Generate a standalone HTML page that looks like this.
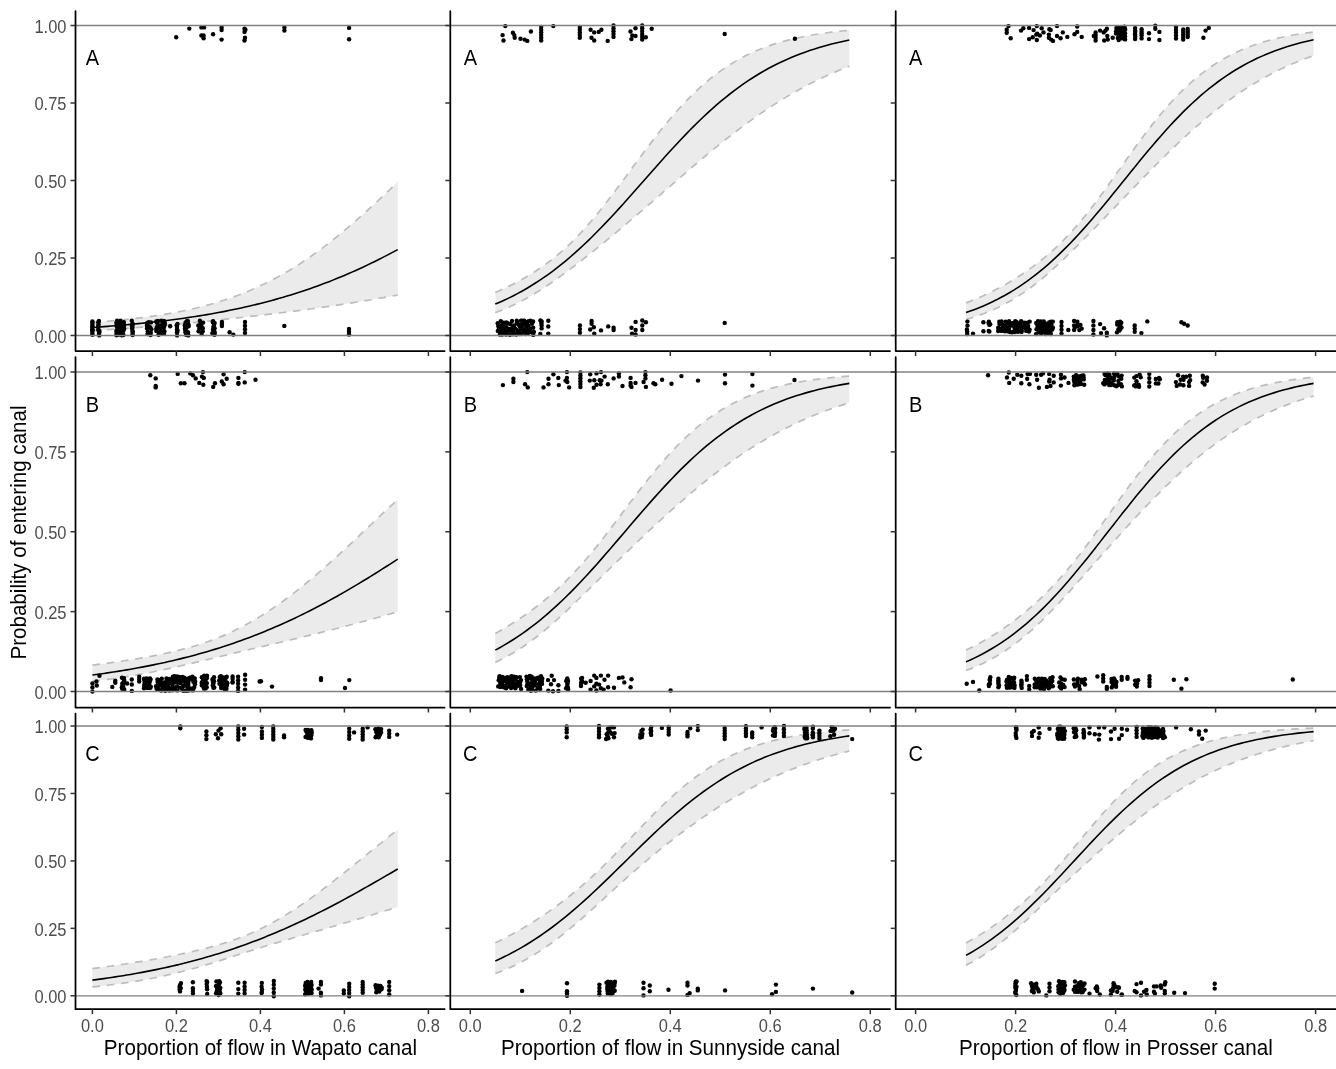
<!DOCTYPE html>
<html><head><meta charset="utf-8"><title>Probability of entering canal</title>
<style>html,body{margin:0;padding:0;background:#fff;width:1336px;height:1069px;overflow:hidden}svg{display:block;font-family:"Liberation Sans",sans-serif;will-change:transform}</style>
</head><body><svg width="1336" height="1069" viewBox="0 0 1336 1069" font-family="Liberation Sans, sans-serif"><rect x="0" y="0" width="1336" height="1069" fill="#fff"/><polygon points="92.40,322.55 96.22,322.24 100.03,321.93 103.85,321.61 107.67,321.27 111.48,320.92 115.30,320.56 119.12,320.19 122.93,319.80 126.75,319.40 130.57,318.98 134.38,318.54 138.20,318.09 142.02,317.61 145.83,317.12 149.65,316.60 153.47,316.06 157.28,315.50 161.10,314.91 164.92,314.29 168.74,313.65 172.55,312.97 176.37,312.27 180.19,311.53 184.00,310.75 187.82,309.95 191.64,309.10 195.45,308.21 199.27,307.29 203.09,306.32 206.90,305.31 210.72,304.26 214.54,303.15 218.35,302.00 222.17,300.81 225.99,299.56 229.80,298.26 233.62,296.90 237.44,295.49 241.25,294.03 245.07,292.51 248.89,290.93 252.70,289.29 256.52,287.59 260.34,285.83 264.15,284.00 267.97,282.12 271.79,280.17 275.60,278.15 279.42,276.07 283.24,273.92 287.05,271.70 290.87,269.42 294.69,267.07 298.50,264.66 302.32,262.17 306.14,259.62 309.95,257.01 313.77,254.32 317.59,251.57 321.40,248.76 325.22,245.89 329.04,242.95 332.86,239.95 336.67,236.89 340.49,233.78 344.31,230.61 348.12,227.39 351.94,224.12 355.76,220.80 359.57,217.44 363.39,214.03 367.21,210.59 371.02,207.11 374.84,203.60 378.66,200.06 382.47,196.50 386.29,192.91 390.11,189.31 393.92,185.70 397.74,182.08 397.74,295.06 393.92,295.76 390.11,296.44 386.29,297.12 382.47,297.79 378.66,298.45 374.84,299.11 371.02,299.75 367.21,300.39 363.39,301.02 359.57,301.64 355.76,302.25 351.94,302.85 348.12,303.45 344.31,304.04 340.49,304.62 336.67,305.19 332.86,305.76 329.04,306.31 325.22,306.87 321.40,307.41 317.59,307.95 313.77,308.48 309.95,309.00 306.14,309.52 302.32,310.03 298.50,310.54 294.69,311.04 290.87,311.53 287.05,312.02 283.24,312.50 279.42,312.98 275.60,313.45 271.79,313.92 267.97,314.38 264.15,314.83 260.34,315.28 256.52,315.73 252.70,316.17 248.89,316.61 245.07,317.04 241.25,317.47 237.44,317.90 233.62,318.32 229.80,318.74 225.99,319.15 222.17,319.56 218.35,319.97 214.54,320.37 210.72,320.77 206.90,321.17 203.09,321.56 199.27,321.95 195.45,322.33 191.64,322.71 187.82,323.09 184.00,323.46 180.19,323.83 176.37,324.19 172.55,324.55 168.74,324.90 164.92,325.25 161.10,325.59 157.28,325.93 153.47,326.26 149.65,326.58 145.83,326.90 142.02,327.21 138.20,327.51 134.38,327.81 130.57,328.10 126.75,328.38 122.93,328.65 119.12,328.92 115.30,329.17 111.48,329.42 107.67,329.66 103.85,329.90 100.03,330.13 96.22,330.34 92.40,330.56" fill="#EBEBEB"/><polyline points="92.40,322.55 96.22,322.24 100.03,321.93 103.85,321.61 107.67,321.27 111.48,320.92 115.30,320.56 119.12,320.19 122.93,319.80 126.75,319.40 130.57,318.98 134.38,318.54 138.20,318.09 142.02,317.61 145.83,317.12 149.65,316.60 153.47,316.06 157.28,315.50 161.10,314.91 164.92,314.29 168.74,313.65 172.55,312.97 176.37,312.27 180.19,311.53 184.00,310.75 187.82,309.95 191.64,309.10 195.45,308.21 199.27,307.29 203.09,306.32 206.90,305.31 210.72,304.26 214.54,303.15 218.35,302.00 222.17,300.81 225.99,299.56 229.80,298.26 233.62,296.90 237.44,295.49 241.25,294.03 245.07,292.51 248.89,290.93 252.70,289.29 256.52,287.59 260.34,285.83 264.15,284.00 267.97,282.12 271.79,280.17 275.60,278.15 279.42,276.07 283.24,273.92 287.05,271.70 290.87,269.42 294.69,267.07 298.50,264.66 302.32,262.17 306.14,259.62 309.95,257.01 313.77,254.32 317.59,251.57 321.40,248.76 325.22,245.89 329.04,242.95 332.86,239.95 336.67,236.89 340.49,233.78 344.31,230.61 348.12,227.39 351.94,224.12 355.76,220.80 359.57,217.44 363.39,214.03 367.21,210.59 371.02,207.11 374.84,203.60 378.66,200.06 382.47,196.50 386.29,192.91 390.11,189.31 393.92,185.70 397.74,182.08" fill="none" stroke="#BDBDBD" stroke-width="1.7" stroke-dasharray="7.6,6.8"/><polyline points="92.40,330.56 96.22,330.34 100.03,330.13 103.85,329.90 107.67,329.66 111.48,329.42 115.30,329.17 119.12,328.92 122.93,328.65 126.75,328.38 130.57,328.10 134.38,327.81 138.20,327.51 142.02,327.21 145.83,326.90 149.65,326.58 153.47,326.26 157.28,325.93 161.10,325.59 164.92,325.25 168.74,324.90 172.55,324.55 176.37,324.19 180.19,323.83 184.00,323.46 187.82,323.09 191.64,322.71 195.45,322.33 199.27,321.95 203.09,321.56 206.90,321.17 210.72,320.77 214.54,320.37 218.35,319.97 222.17,319.56 225.99,319.15 229.80,318.74 233.62,318.32 237.44,317.90 241.25,317.47 245.07,317.04 248.89,316.61 252.70,316.17 256.52,315.73 260.34,315.28 264.15,314.83 267.97,314.38 271.79,313.92 275.60,313.45 279.42,312.98 283.24,312.50 287.05,312.02 290.87,311.53 294.69,311.04 298.50,310.54 302.32,310.03 306.14,309.52 309.95,309.00 313.77,308.48 317.59,307.95 321.40,307.41 325.22,306.87 329.04,306.31 332.86,305.76 336.67,305.19 340.49,304.62 344.31,304.04 348.12,303.45 351.94,302.85 355.76,302.25 359.57,301.64 363.39,301.02 367.21,300.39 371.02,299.75 374.84,299.11 378.66,298.45 382.47,297.79 386.29,297.12 390.11,296.44 393.92,295.76 397.74,295.06" fill="none" stroke="#BDBDBD" stroke-width="1.7" stroke-dasharray="7.6,6.8"/><polyline points="92.40,327.47 96.22,327.21 100.03,326.93 103.85,326.65 107.67,326.36 111.48,326.06 115.30,325.75 119.12,325.43 122.93,325.10 126.75,324.76 130.57,324.41 134.38,324.04 138.20,323.67 142.02,323.29 145.83,322.89 149.65,322.48 153.47,322.06 157.28,321.62 161.10,321.17 164.92,320.71 168.74,320.23 172.55,319.74 176.37,319.23 180.19,318.71 184.00,318.17 187.82,317.62 191.64,317.05 195.45,316.46 199.27,315.86 203.09,315.23 206.90,314.59 210.72,313.93 214.54,313.25 218.35,312.55 222.17,311.84 225.99,311.10 229.80,310.34 233.62,309.55 237.44,308.75 241.25,307.92 245.07,307.07 248.89,306.20 252.70,305.30 256.52,304.38 260.34,303.43 264.15,302.46 267.97,301.46 271.79,300.44 275.60,299.39 279.42,298.31 283.24,297.21 287.05,296.07 290.87,294.91 294.69,293.72 298.50,292.50 302.32,291.25 306.14,289.97 309.95,288.66 313.77,287.31 317.59,285.94 321.40,284.54 325.22,283.10 329.04,281.63 332.86,280.13 336.67,278.60 340.49,277.03 344.31,275.43 348.12,273.80 351.94,272.13 355.76,270.43 359.57,268.70 363.39,266.94 367.21,265.14 371.02,263.31 374.84,261.45 378.66,259.55 382.47,257.62 386.29,255.66 390.11,253.66 393.92,251.64 397.74,249.58" fill="none" stroke="#000" stroke-width="1.6"/><circle cx="92.4" cy="322.8" r="2.2"/><circle cx="92.4" cy="332.9" r="2.2"/><circle cx="92.4" cy="326.5" r="2.2"/><circle cx="92.4" cy="329.2" r="2.2"/><circle cx="92.4" cy="321.4" r="2.2"/><circle cx="92.4" cy="331.0" r="2.2"/><circle cx="92.4" cy="324.8" r="2.2"/><circle cx="92.4" cy="330.5" r="2.2"/><circle cx="92.4" cy="334.7" r="2.2"/><circle cx="92.4" cy="327.4" r="2.2"/><circle cx="98.3" cy="322.3" r="2.2"/><circle cx="98.9" cy="333.8" r="2.2"/><circle cx="98.4" cy="327.8" r="2.2"/><circle cx="99.4" cy="330.9" r="2.2"/><circle cx="99.3" cy="332.5" r="2.2"/><circle cx="98.2" cy="330.0" r="2.2"/><circle cx="98.2" cy="326.0" r="2.2"/><circle cx="99.3" cy="335.4" r="2.2"/><circle cx="98.6" cy="324.5" r="2.2"/><circle cx="98.9" cy="320.9" r="2.2"/><circle cx="123.3" cy="330.9" r="2.2"/><circle cx="118.8" cy="323.8" r="2.2"/><circle cx="118.2" cy="330.9" r="2.2"/><circle cx="124.0" cy="326.0" r="2.2"/><circle cx="121.2" cy="334.0" r="2.2"/><circle cx="122.3" cy="327.7" r="2.2"/><circle cx="122.1" cy="323.1" r="2.2"/><circle cx="117.2" cy="332.9" r="2.2"/><circle cx="117.1" cy="320.7" r="2.2"/><circle cx="119.6" cy="333.6" r="2.2"/><circle cx="119.0" cy="327.4" r="2.2"/><circle cx="120.4" cy="320.8" r="2.2"/><circle cx="117.4" cy="327.6" r="2.2"/><circle cx="120.7" cy="332.3" r="2.2"/><circle cx="120.3" cy="330.9" r="2.2"/><circle cx="123.9" cy="324.4" r="2.2"/><circle cx="116.6" cy="324.1" r="2.2"/><circle cx="116.6" cy="330.5" r="2.2"/><circle cx="123.4" cy="335.0" r="2.2"/><circle cx="120.3" cy="325.6" r="2.2"/><circle cx="116.5" cy="335.3" r="2.2"/><circle cx="118.3" cy="322.4" r="2.2"/><circle cx="117.3" cy="334.3" r="2.2"/><circle cx="121.8" cy="326.9" r="2.2"/><circle cx="116.6" cy="333.4" r="2.2"/><circle cx="120.4" cy="324.1" r="2.2"/><circle cx="122.4" cy="324.8" r="2.2"/><circle cx="123.9" cy="322.1" r="2.2"/><circle cx="121.8" cy="335.2" r="2.2"/><circle cx="116.5" cy="322.4" r="2.2"/><circle cx="116.6" cy="331.6" r="2.2"/><circle cx="118.2" cy="334.9" r="2.2"/><circle cx="124.2" cy="328.7" r="2.2"/><circle cx="116.8" cy="326.5" r="2.2"/><circle cx="131.8" cy="320.8" r="2.2"/><circle cx="132.6" cy="333.7" r="2.2"/><circle cx="132.0" cy="328.4" r="2.2"/><circle cx="132.6" cy="330.9" r="2.2"/><circle cx="131.9" cy="325.9" r="2.2"/><circle cx="132.7" cy="331.7" r="2.2"/><circle cx="132.6" cy="323.6" r="2.2"/><circle cx="132.6" cy="335.1" r="2.2"/><circle cx="132.6" cy="325.1" r="2.2"/><circle cx="132.4" cy="327.5" r="2.2"/><circle cx="148.7" cy="322.3" r="2.2"/><circle cx="150.5" cy="335.0" r="2.2"/><circle cx="147.0" cy="328.4" r="2.2"/><circle cx="147.5" cy="334.0" r="2.2"/><circle cx="147.0" cy="325.7" r="2.2"/><circle cx="151.4" cy="329.3" r="2.2"/><circle cx="148.1" cy="326.9" r="2.2"/><circle cx="150.8" cy="332.7" r="2.2"/><circle cx="150.0" cy="327.3" r="2.2"/><circle cx="151.0" cy="322.4" r="2.2"/><circle cx="147.8" cy="331.6" r="2.2"/><circle cx="147.2" cy="322.9" r="2.2"/><circle cx="147.5" cy="324.4" r="2.2"/><circle cx="161.1" cy="333.8" r="2.2"/><circle cx="164.6" cy="322.4" r="2.2"/><circle cx="159.6" cy="327.2" r="2.2"/><circle cx="156.3" cy="331.1" r="2.2"/><circle cx="157.0" cy="322.8" r="2.2"/><circle cx="164.4" cy="331.3" r="2.2"/><circle cx="161.7" cy="325.1" r="2.2"/><circle cx="161.3" cy="320.7" r="2.2"/><circle cx="163.9" cy="327.6" r="2.2"/><circle cx="160.4" cy="330.6" r="2.2"/><circle cx="158.0" cy="321.0" r="2.2"/><circle cx="164.6" cy="325.2" r="2.2"/><circle cx="158.6" cy="334.8" r="2.2"/><circle cx="157.3" cy="326.4" r="2.2"/><circle cx="164.0" cy="333.8" r="2.2"/><circle cx="159.3" cy="325.5" r="2.2"/><circle cx="164.6" cy="323.6" r="2.2"/><circle cx="159.2" cy="332.8" r="2.2"/><circle cx="164.0" cy="321.0" r="2.2"/><circle cx="156.3" cy="321.4" r="2.2"/><circle cx="158.3" cy="331.2" r="2.2"/><circle cx="158.1" cy="327.6" r="2.2"/><circle cx="163.1" cy="331.6" r="2.2"/><circle cx="163.0" cy="321.7" r="2.2"/><circle cx="156.3" cy="328.8" r="2.2"/><circle cx="162.3" cy="327.2" r="2.2"/><circle cx="170.2" cy="326.2" r="2.2"/><circle cx="177.0" cy="327.0" r="2.2"/><circle cx="177.5" cy="323.9" r="2.2"/><circle cx="177.1" cy="335.4" r="2.2"/><circle cx="177.6" cy="330.5" r="2.2"/><circle cx="176.7" cy="325.3" r="2.2"/><circle cx="177.0" cy="332.3" r="2.2"/><circle cx="177.0" cy="329.7" r="2.2"/><circle cx="184.8" cy="325.4" r="2.2"/><circle cx="185.5" cy="330.9" r="2.2"/><circle cx="186.1" cy="334.8" r="2.2"/><circle cx="187.8" cy="323.6" r="2.2"/><circle cx="184.9" cy="328.8" r="2.2"/><circle cx="186.3" cy="328.1" r="2.2"/><circle cx="185.6" cy="322.4" r="2.2"/><circle cx="188.6" cy="326.3" r="2.2"/><circle cx="186.5" cy="333.2" r="2.2"/><circle cx="186.9" cy="326.3" r="2.2"/><circle cx="187.9" cy="321.1" r="2.2"/><circle cx="187.4" cy="325.1" r="2.2"/><circle cx="187.9" cy="332.2" r="2.2"/><circle cx="185.3" cy="327.0" r="2.2"/><circle cx="186.9" cy="321.3" r="2.2"/><circle cx="188.3" cy="335.4" r="2.2"/><circle cx="188.0" cy="334.5" r="2.2"/><circle cx="188.5" cy="324.6" r="2.2"/><circle cx="185.7" cy="324.4" r="2.2"/><circle cx="185.5" cy="332.3" r="2.2"/><circle cx="202.8" cy="328.2" r="2.2"/><circle cx="200.6" cy="323.1" r="2.2"/><circle cx="201.6" cy="334.0" r="2.2"/><circle cx="199.9" cy="320.7" r="2.2"/><circle cx="198.3" cy="325.5" r="2.2"/><circle cx="199.4" cy="328.6" r="2.2"/><circle cx="202.7" cy="331.3" r="2.2"/><circle cx="201.2" cy="325.4" r="2.2"/><circle cx="198.6" cy="331.2" r="2.2"/><circle cx="203.1" cy="322.6" r="2.2"/><circle cx="214.7" cy="323.1" r="2.2"/><circle cx="212.4" cy="333.2" r="2.2"/><circle cx="213.1" cy="321.1" r="2.2"/><circle cx="214.6" cy="328.3" r="2.2"/><circle cx="214.5" cy="334.7" r="2.2"/><circle cx="214.2" cy="330.9" r="2.2"/><circle cx="214.0" cy="325.1" r="2.2"/><circle cx="213.0" cy="329.8" r="2.2"/><circle cx="213.4" cy="322.6" r="2.2"/><circle cx="213.4" cy="332.8" r="2.2"/><circle cx="214.8" cy="332.7" r="2.2"/><circle cx="212.7" cy="322.0" r="2.2"/><circle cx="213.3" cy="326.9" r="2.2"/><circle cx="221.9" cy="322.0" r="2.2"/><circle cx="221.9" cy="324.0" r="2.2"/><circle cx="221.9" cy="326.0" r="2.2"/><circle cx="229.6" cy="332.2" r="2.2"/><circle cx="233.3" cy="334.6" r="2.2"/><circle cx="245.0" cy="322.0" r="2.2"/><circle cx="245.0" cy="325.7" r="2.2"/><circle cx="245.0" cy="329.3" r="2.2"/><circle cx="245.0" cy="333.0" r="2.2"/><circle cx="284.3" cy="325.9" r="2.2"/><circle cx="349.0" cy="329.0" r="2.2"/><circle cx="349.0" cy="331.8" r="2.2"/><circle cx="349.0" cy="334.5" r="2.2"/><circle cx="176.2" cy="37.3" r="2.2"/><circle cx="189.3" cy="28.6" r="2.2"/><circle cx="201.4" cy="27.4" r="2.2"/><circle cx="204.1" cy="27.4" r="2.2"/><circle cx="201.4" cy="35.5" r="2.2"/><circle cx="203.6" cy="35.5" r="2.2"/><circle cx="203.6" cy="38.2" r="2.2"/><circle cx="213.1" cy="34.2" r="2.2"/><circle cx="221.6" cy="27.4" r="2.2"/><circle cx="221.6" cy="30.1" r="2.2"/><circle cx="221.6" cy="39.6" r="2.2"/><circle cx="244.5" cy="28.8" r="2.2"/><circle cx="245.4" cy="29.7" r="2.2"/><circle cx="244.5" cy="31.9" r="2.2"/><circle cx="245.0" cy="37.8" r="2.2"/><circle cx="244.5" cy="40.5" r="2.2"/><circle cx="284.4" cy="27.4" r="2.2"/><circle cx="284.4" cy="30.6" r="2.2"/><circle cx="349.1" cy="27.9" r="2.2"/><circle cx="349.1" cy="39.3" r="2.2"/><line x1="75.5" y1="335.50" x2="450.6" y2="335.50" stroke="#808080" stroke-width="1.3"/><line x1="75.5" y1="25.50" x2="450.6" y2="25.50" stroke="#808080" stroke-width="1.3"/><polyline points="75.5,11.0 75.5,351.0 444.6,351.0" fill="none" stroke="#000" stroke-width="1.75" stroke-linejoin="round" stroke-linecap="round"/><line x1="70.5" y1="335.50" x2="75.5" y2="335.50" stroke="#333" stroke-width="1.5"/><line x1="70.5" y1="258.00" x2="75.5" y2="258.00" stroke="#333" stroke-width="1.5"/><line x1="70.5" y1="180.50" x2="75.5" y2="180.50" stroke="#333" stroke-width="1.5"/><line x1="70.5" y1="103.00" x2="75.5" y2="103.00" stroke="#333" stroke-width="1.5"/><line x1="70.5" y1="25.50" x2="75.5" y2="25.50" stroke="#333" stroke-width="1.5"/><line x1="92.40" y1="351.0" x2="92.40" y2="356.0" stroke="#333" stroke-width="1.5"/><line x1="176.40" y1="351.0" x2="176.40" y2="356.0" stroke="#333" stroke-width="1.5"/><line x1="260.40" y1="351.0" x2="260.40" y2="356.0" stroke="#333" stroke-width="1.5"/><line x1="344.40" y1="351.0" x2="344.40" y2="356.0" stroke="#333" stroke-width="1.5"/><line x1="428.40" y1="351.0" x2="428.40" y2="356.0" stroke="#333" stroke-width="1.5"/><text x="0" y="0" font-size="21.5" fill="#000" text-anchor="middle" transform="translate(92.40,64.90) scale(0.93,1)">A</text><polygon points="495.30,292.47 499.73,290.53 504.15,288.51 508.58,286.39 513.00,284.18 517.42,281.87 521.85,279.45 526.27,276.91 530.70,274.25 535.12,271.47 539.55,268.54 543.98,265.46 548.40,262.22 552.83,258.82 557.25,255.23 561.67,251.46 566.10,247.49 570.52,243.32 574.95,238.95 579.38,234.37 583.80,229.60 588.23,224.64 592.65,219.49 597.08,214.17 601.50,208.69 605.92,203.08 610.35,197.35 614.77,191.51 619.20,185.60 623.62,179.64 628.05,173.63 632.48,167.62 636.90,161.62 641.33,155.64 645.75,149.72 650.17,143.88 654.60,138.12 659.02,132.47 663.45,126.95 667.88,121.56 672.30,116.33 676.73,111.26 681.15,106.36 685.58,101.64 690.00,97.10 694.42,92.75 698.85,88.59 703.27,84.62 707.70,80.84 712.12,77.25 716.55,73.85 720.98,70.63 725.40,67.58 729.83,64.71 734.25,62.01 738.67,59.47 743.10,57.08 747.53,54.84 751.95,52.75 756.38,50.79 760.80,48.96 765.23,47.25 769.65,45.66 774.08,44.17 778.50,42.79 782.92,41.50 787.35,40.31 791.78,39.19 796.20,38.16 800.62,37.21 805.05,36.32 809.48,35.50 813.90,34.73 818.33,34.03 822.75,33.38 827.17,32.77 831.60,32.21 836.03,31.69 840.45,31.22 844.88,30.77 849.30,30.37 849.30,66.26 844.88,67.98 840.45,69.77 836.03,71.62 831.60,73.54 827.17,75.52 822.75,77.56 818.33,79.68 813.90,81.86 809.48,84.11 805.05,86.42 800.62,88.81 796.20,91.27 791.78,93.80 787.35,96.39 782.92,99.06 778.50,101.79 774.08,104.60 769.65,107.47 765.23,110.41 760.80,113.42 756.38,116.50 751.95,119.63 747.53,122.83 743.10,126.09 738.67,129.41 734.25,132.78 729.83,136.21 725.40,139.69 720.98,143.22 716.55,146.79 712.12,150.41 707.70,154.06 703.27,157.75 698.85,161.48 694.42,165.23 690.00,169.00 685.58,172.80 681.15,176.62 676.73,180.44 672.30,184.28 667.88,188.13 663.45,191.98 659.02,195.82 654.60,199.66 650.17,203.50 645.75,207.32 641.33,211.13 636.90,214.93 632.48,218.70 628.05,222.46 623.62,226.19 619.20,229.90 614.77,233.59 610.35,237.24 605.92,240.87 601.50,244.48 597.08,248.05 592.65,251.60 588.23,255.12 583.80,258.61 579.38,262.06 574.95,265.47 570.52,268.84 566.10,272.16 561.67,275.42 557.25,278.62 552.83,281.74 548.40,284.77 543.98,287.72 539.55,290.56 535.12,293.30 530.70,295.93 526.27,298.44 521.85,300.84 517.42,303.12 513.00,305.28 508.58,307.32 504.15,309.25 499.73,311.07 495.30,312.78" fill="#EBEBEB"/><polyline points="495.30,292.47 499.73,290.53 504.15,288.51 508.58,286.39 513.00,284.18 517.42,281.87 521.85,279.45 526.27,276.91 530.70,274.25 535.12,271.47 539.55,268.54 543.98,265.46 548.40,262.22 552.83,258.82 557.25,255.23 561.67,251.46 566.10,247.49 570.52,243.32 574.95,238.95 579.38,234.37 583.80,229.60 588.23,224.64 592.65,219.49 597.08,214.17 601.50,208.69 605.92,203.08 610.35,197.35 614.77,191.51 619.20,185.60 623.62,179.64 628.05,173.63 632.48,167.62 636.90,161.62 641.33,155.64 645.75,149.72 650.17,143.88 654.60,138.12 659.02,132.47 663.45,126.95 667.88,121.56 672.30,116.33 676.73,111.26 681.15,106.36 685.58,101.64 690.00,97.10 694.42,92.75 698.85,88.59 703.27,84.62 707.70,80.84 712.12,77.25 716.55,73.85 720.98,70.63 725.40,67.58 729.83,64.71 734.25,62.01 738.67,59.47 743.10,57.08 747.53,54.84 751.95,52.75 756.38,50.79 760.80,48.96 765.23,47.25 769.65,45.66 774.08,44.17 778.50,42.79 782.92,41.50 787.35,40.31 791.78,39.19 796.20,38.16 800.62,37.21 805.05,36.32 809.48,35.50 813.90,34.73 818.33,34.03 822.75,33.38 827.17,32.77 831.60,32.21 836.03,31.69 840.45,31.22 844.88,30.77 849.30,30.37" fill="none" stroke="#BDBDBD" stroke-width="1.7" stroke-dasharray="7.6,6.8"/><polyline points="495.30,312.78 499.73,311.07 504.15,309.25 508.58,307.32 513.00,305.28 517.42,303.12 521.85,300.84 526.27,298.44 530.70,295.93 535.12,293.30 539.55,290.56 543.98,287.72 548.40,284.77 552.83,281.74 557.25,278.62 561.67,275.42 566.10,272.16 570.52,268.84 574.95,265.47 579.38,262.06 583.80,258.61 588.23,255.12 592.65,251.60 597.08,248.05 601.50,244.48 605.92,240.87 610.35,237.24 614.77,233.59 619.20,229.90 623.62,226.19 628.05,222.46 632.48,218.70 636.90,214.93 641.33,211.13 645.75,207.32 650.17,203.50 654.60,199.66 659.02,195.82 663.45,191.98 667.88,188.13 672.30,184.28 676.73,180.44 681.15,176.62 685.58,172.80 690.00,169.00 694.42,165.23 698.85,161.48 703.27,157.75 707.70,154.06 712.12,150.41 716.55,146.79 720.98,143.22 725.40,139.69 729.83,136.21 734.25,132.78 738.67,129.41 743.10,126.09 747.53,122.83 751.95,119.63 756.38,116.50 760.80,113.42 765.23,110.41 769.65,107.47 774.08,104.60 778.50,101.79 782.92,99.06 787.35,96.39 791.78,93.80 796.20,91.27 800.62,88.81 805.05,86.42 809.48,84.11 813.90,81.86 818.33,79.68 822.75,77.56 827.17,75.52 831.60,73.54 836.03,71.62 840.45,69.77 844.88,67.98 849.30,66.26" fill="none" stroke="#BDBDBD" stroke-width="1.7" stroke-dasharray="7.6,6.8"/><polyline points="495.30,304.05 499.73,302.17 504.15,300.19 508.58,298.10 513.00,295.91 517.42,293.62 521.85,291.21 526.27,288.69 530.70,286.05 535.12,283.29 539.55,280.41 543.98,277.40 548.40,274.28 552.83,271.02 557.25,267.65 561.67,264.14 566.10,260.51 570.52,256.76 574.95,252.89 579.38,248.89 583.80,244.78 588.23,240.56 592.65,236.23 597.08,231.80 601.50,227.27 605.92,222.65 610.35,217.95 614.77,213.18 619.20,208.34 623.62,203.44 628.05,198.50 632.48,193.52 636.90,188.51 641.33,183.48 645.75,178.45 650.17,173.42 654.60,168.41 659.02,163.43 663.45,158.47 667.88,153.57 672.30,148.72 676.73,143.93 681.15,139.22 685.58,134.58 690.00,130.04 694.42,125.59 698.85,121.24 703.27,117.00 707.70,112.86 712.12,108.85 716.55,104.95 720.98,101.18 725.40,97.52 729.83,94.00 734.25,90.59 738.67,87.32 743.10,84.17 747.53,81.14 751.95,78.24 756.38,75.46 760.80,72.80 765.23,70.25 769.65,67.82 774.08,65.50 778.50,63.30 782.92,61.19 787.35,59.19 791.78,57.29 796.20,55.49 800.62,53.77 805.05,52.15 809.48,50.61 813.90,49.15 818.33,47.77 822.75,46.47 827.17,45.23 831.60,44.07 836.03,42.96 840.45,41.92 844.88,40.94 849.30,40.02" fill="none" stroke="#000" stroke-width="1.6"/><circle cx="505.3" cy="26.1" r="2.2"/><circle cx="502.6" cy="35.1" r="2.2"/><circle cx="503.5" cy="40.5" r="2.2"/><circle cx="512.9" cy="32.8" r="2.2"/><circle cx="514.3" cy="35.1" r="2.2"/><circle cx="514.7" cy="37.8" r="2.2"/><circle cx="520.5" cy="38.7" r="2.2"/><circle cx="524.6" cy="39.6" r="2.2"/><circle cx="527.3" cy="40.9" r="2.2"/><circle cx="530.9" cy="31.5" r="2.2"/><circle cx="553.3" cy="26.1" r="2.2"/><circle cx="590.6" cy="29.7" r="2.2"/><circle cx="594.2" cy="32.4" r="2.2"/><circle cx="591.5" cy="37.8" r="2.2"/><circle cx="594.2" cy="40.5" r="2.2"/><circle cx="598.7" cy="31.9" r="2.2"/><circle cx="601.4" cy="29.7" r="2.2"/><circle cx="607.7" cy="40.9" r="2.2"/><circle cx="630.5" cy="31.5" r="2.2"/><circle cx="631.4" cy="39.1" r="2.2"/><circle cx="635.5" cy="28.3" r="2.2"/><circle cx="635.5" cy="36.0" r="2.2"/><circle cx="632.3" cy="35.5" r="2.2"/><circle cx="645.8" cy="37.3" r="2.2"/><circle cx="651.7" cy="28.8" r="2.2"/><circle cx="724.7" cy="34.0" r="2.2"/><circle cx="794.9" cy="38.7" r="2.2"/><circle cx="541.2" cy="27.0" r="2.2"/><circle cx="541.2" cy="29.7" r="2.2"/><circle cx="541.2" cy="32.4" r="2.2"/><circle cx="541.2" cy="35.1" r="2.2"/><circle cx="541.2" cy="37.8" r="2.2"/><circle cx="541.2" cy="40.5" r="2.2"/><circle cx="579.8" cy="27.0" r="2.2"/><circle cx="579.8" cy="29.7" r="2.2"/><circle cx="579.8" cy="32.4" r="2.2"/><circle cx="579.8" cy="35.1" r="2.2"/><circle cx="579.8" cy="37.8" r="2.2"/><circle cx="613.5" cy="25.5" r="2.2"/><circle cx="613.5" cy="28.4" r="2.2"/><circle cx="613.5" cy="31.2" r="2.2"/><circle cx="613.5" cy="34.0" r="2.2"/><circle cx="613.5" cy="36.9" r="2.2"/><circle cx="642.2" cy="25.5" r="2.2"/><circle cx="642.2" cy="28.3" r="2.2"/><circle cx="642.2" cy="31.1" r="2.2"/><circle cx="642.2" cy="34.0" r="2.2"/><circle cx="642.2" cy="36.8" r="2.2"/><circle cx="642.2" cy="39.6" r="2.2"/><circle cx="533.2" cy="327.8" r="2.2"/><circle cx="510.5" cy="330.7" r="2.2"/><circle cx="497.7" cy="323.3" r="2.2"/><circle cx="508.1" cy="323.5" r="2.2"/><circle cx="523.4" cy="331.9" r="2.2"/><circle cx="530.4" cy="320.8" r="2.2"/><circle cx="506.3" cy="327.1" r="2.2"/><circle cx="503.4" cy="332.7" r="2.2"/><circle cx="526.2" cy="328.9" r="2.2"/><circle cx="503.4" cy="322.7" r="2.2"/><circle cx="516.9" cy="322.7" r="2.2"/><circle cx="533.9" cy="332.0" r="2.2"/><circle cx="512.0" cy="320.9" r="2.2"/><circle cx="521.0" cy="327.2" r="2.2"/><circle cx="518.8" cy="331.3" r="2.2"/><circle cx="529.1" cy="330.3" r="2.2"/><circle cx="513.3" cy="327.0" r="2.2"/><circle cx="504.4" cy="330.0" r="2.2"/><circle cx="499.1" cy="328.3" r="2.2"/><circle cx="516.5" cy="329.7" r="2.2"/><circle cx="512.8" cy="334.2" r="2.2"/><circle cx="513.2" cy="330.6" r="2.2"/><circle cx="510.7" cy="324.3" r="2.2"/><circle cx="515.0" cy="328.6" r="2.2"/><circle cx="506.0" cy="334.5" r="2.2"/><circle cx="528.4" cy="325.6" r="2.2"/><circle cx="497.8" cy="330.9" r="2.2"/><circle cx="499.8" cy="332.5" r="2.2"/><circle cx="521.0" cy="320.6" r="2.2"/><circle cx="521.8" cy="324.1" r="2.2"/><circle cx="531.0" cy="332.0" r="2.2"/><circle cx="526.7" cy="332.6" r="2.2"/><circle cx="506.3" cy="322.4" r="2.2"/><circle cx="517.6" cy="333.0" r="2.2"/><circle cx="533.1" cy="321.5" r="2.2"/><circle cx="509.9" cy="334.7" r="2.2"/><circle cx="524.1" cy="329.5" r="2.2"/><circle cx="513.2" cy="328.5" r="2.2"/><circle cx="516.3" cy="334.6" r="2.2"/><circle cx="508.7" cy="329.0" r="2.2"/><circle cx="530.3" cy="328.4" r="2.2"/><circle cx="520.4" cy="329.6" r="2.2"/><circle cx="525.8" cy="321.9" r="2.2"/><circle cx="518.4" cy="324.2" r="2.2"/><circle cx="521.3" cy="334.0" r="2.2"/><circle cx="498.2" cy="326.1" r="2.2"/><circle cx="519.5" cy="334.1" r="2.2"/><circle cx="502.2" cy="334.5" r="2.2"/><circle cx="524.2" cy="323.9" r="2.2"/><circle cx="514.6" cy="334.0" r="2.2"/><circle cx="524.1" cy="320.6" r="2.2"/><circle cx="511.2" cy="328.8" r="2.2"/><circle cx="511.1" cy="329.8" r="2.2"/><circle cx="499.9" cy="334.6" r="2.2"/><circle cx="519.8" cy="324.9" r="2.2"/><circle cx="527.4" cy="324.5" r="2.2"/><circle cx="527.7" cy="333.4" r="2.2"/><circle cx="529.0" cy="332.2" r="2.2"/><circle cx="532.0" cy="323.8" r="2.2"/><circle cx="507.1" cy="331.4" r="2.2"/><circle cx="526.1" cy="323.8" r="2.2"/><circle cx="504.7" cy="323.2" r="2.2"/><circle cx="501.6" cy="329.6" r="2.2"/><circle cx="516.8" cy="320.7" r="2.2"/><circle cx="526.4" cy="326.6" r="2.2"/><circle cx="500.8" cy="321.1" r="2.2"/><circle cx="519.7" cy="326.2" r="2.2"/><circle cx="522.3" cy="326.1" r="2.2"/><circle cx="533.2" cy="334.9" r="2.2"/><circle cx="528.5" cy="321.1" r="2.2"/><circle cx="525.5" cy="334.1" r="2.2"/><circle cx="501.6" cy="325.1" r="2.2"/><circle cx="522.6" cy="320.6" r="2.2"/><circle cx="502.8" cy="326.9" r="2.2"/><circle cx="514.3" cy="325.4" r="2.2"/><circle cx="503.4" cy="324.4" r="2.2"/><circle cx="541.6" cy="325.5" r="2.2"/><circle cx="540.3" cy="333.9" r="2.2"/><circle cx="541.7" cy="321.4" r="2.2"/><circle cx="540.4" cy="320.5" r="2.2"/><circle cx="541.6" cy="328.4" r="2.2"/><circle cx="541.4" cy="323.5" r="2.2"/><circle cx="548.3" cy="320.8" r="2.2"/><circle cx="548.3" cy="326.5" r="2.2"/><circle cx="548.3" cy="333.6" r="2.2"/><circle cx="579.9" cy="325.5" r="2.2"/><circle cx="579.9" cy="329.1" r="2.2"/><circle cx="579.9" cy="332.7" r="2.2"/><circle cx="591.6" cy="321.0" r="2.2"/><circle cx="591.6" cy="323.7" r="2.2"/><circle cx="593.8" cy="327.3" r="2.2"/><circle cx="590.2" cy="329.5" r="2.2"/><circle cx="594.3" cy="333.6" r="2.2"/><circle cx="601.0" cy="330.4" r="2.2"/><circle cx="608.2" cy="326.4" r="2.2"/><circle cx="613.6" cy="327.7" r="2.2"/><circle cx="613.6" cy="330.0" r="2.2"/><circle cx="631.5" cy="327.7" r="2.2"/><circle cx="632.0" cy="333.6" r="2.2"/><circle cx="635.6" cy="321.9" r="2.2"/><circle cx="635.6" cy="330.0" r="2.2"/><circle cx="635.6" cy="334.5" r="2.2"/><circle cx="642.3" cy="320.5" r="2.2"/><circle cx="645.9" cy="322.3" r="2.2"/><circle cx="642.3" cy="325.5" r="2.2"/><circle cx="642.3" cy="330.0" r="2.2"/><circle cx="724.7" cy="322.9" r="2.2"/><line x1="450.3" y1="335.50" x2="896.0" y2="335.50" stroke="#808080" stroke-width="1.3"/><line x1="450.3" y1="25.50" x2="896.0" y2="25.50" stroke="#808080" stroke-width="1.3"/><polyline points="450.3,11.0 450.3,351.0 890.0,351.0" fill="none" stroke="#000" stroke-width="1.75" stroke-linejoin="round" stroke-linecap="round"/><line x1="445.3" y1="335.50" x2="450.3" y2="335.50" stroke="#333" stroke-width="1.5"/><line x1="445.3" y1="258.00" x2="450.3" y2="258.00" stroke="#333" stroke-width="1.5"/><line x1="445.3" y1="180.50" x2="450.3" y2="180.50" stroke="#333" stroke-width="1.5"/><line x1="445.3" y1="103.00" x2="450.3" y2="103.00" stroke="#333" stroke-width="1.5"/><line x1="445.3" y1="25.50" x2="450.3" y2="25.50" stroke="#333" stroke-width="1.5"/><line x1="470.30" y1="351.0" x2="470.30" y2="356.0" stroke="#333" stroke-width="1.5"/><line x1="570.30" y1="351.0" x2="570.30" y2="356.0" stroke="#333" stroke-width="1.5"/><line x1="670.30" y1="351.0" x2="670.30" y2="356.0" stroke="#333" stroke-width="1.5"/><line x1="770.30" y1="351.0" x2="770.30" y2="356.0" stroke="#333" stroke-width="1.5"/><line x1="870.30" y1="351.0" x2="870.30" y2="356.0" stroke="#333" stroke-width="1.5"/><text x="0" y="0" font-size="21.5" fill="#000" text-anchor="middle" transform="translate(470.30,64.90) scale(0.93,1)">A</text><polygon points="966.00,302.87 970.35,301.19 974.69,299.43 979.04,297.59 983.38,295.66 987.73,293.65 992.07,291.54 996.41,289.34 1000.76,287.05 1005.11,284.65 1009.45,282.15 1013.80,279.54 1018.14,276.82 1022.49,273.97 1026.83,271.01 1031.17,267.92 1035.52,264.69 1039.87,261.32 1044.21,257.80 1048.56,254.12 1052.90,250.28 1057.25,246.26 1061.59,242.05 1065.93,237.66 1070.28,233.06 1074.62,228.26 1078.97,223.26 1083.32,218.07 1087.66,212.69 1092.01,207.14 1096.35,201.43 1100.69,195.59 1105.04,189.64 1109.38,183.60 1113.73,177.50 1118.08,171.37 1122.42,165.22 1126.77,159.09 1131.11,153.00 1135.45,146.97 1139.80,141.03 1144.14,135.19 1148.49,129.47 1152.84,123.89 1157.18,118.46 1161.53,113.20 1165.87,108.11 1170.21,103.21 1174.56,98.50 1178.90,93.99 1183.25,89.68 1187.60,85.56 1191.94,81.65 1196.29,77.93 1200.63,74.42 1204.98,71.09 1209.32,67.95 1213.66,64.99 1218.01,62.21 1222.36,59.60 1226.70,57.16 1231.05,54.86 1235.39,52.72 1239.74,50.72 1244.08,48.86 1248.43,47.12 1252.77,45.50 1257.12,43.99 1261.46,42.59 1265.81,41.29 1270.15,40.09 1274.50,38.97 1278.84,37.93 1283.18,36.97 1287.53,36.08 1291.88,35.26 1296.22,34.50 1300.57,33.80 1304.91,33.15 1309.26,32.55 1313.60,31.99 1313.60,55.61 1309.26,57.15 1304.91,58.76 1300.57,60.45 1296.22,62.20 1291.88,64.04 1287.53,65.95 1283.18,67.94 1278.84,70.02 1274.50,72.18 1270.15,74.42 1265.81,76.76 1261.46,79.18 1257.12,81.69 1252.77,84.30 1248.43,86.99 1244.08,89.78 1239.74,92.67 1235.39,95.65 1231.05,98.72 1226.70,101.88 1222.36,105.14 1218.01,108.49 1213.66,111.93 1209.32,115.46 1204.98,119.07 1200.63,122.77 1196.29,126.55 1191.94,130.41 1187.60,134.35 1183.25,138.35 1178.90,142.43 1174.56,146.56 1170.21,150.76 1165.87,155.01 1161.53,159.30 1157.18,163.65 1152.84,168.03 1148.49,172.44 1144.14,176.88 1139.80,181.35 1135.45,185.83 1131.11,190.33 1126.77,194.83 1122.42,199.34 1118.08,203.85 1113.73,208.36 1109.38,212.86 1105.04,217.36 1100.69,221.85 1096.35,226.32 1092.01,230.78 1087.66,235.23 1083.32,239.65 1078.97,244.04 1074.62,248.40 1070.28,252.71 1065.93,256.97 1061.59,261.15 1057.25,265.24 1052.90,269.23 1048.56,273.10 1044.21,276.85 1039.87,280.45 1035.52,283.91 1031.17,287.22 1026.83,290.38 1022.49,293.38 1018.14,296.22 1013.80,298.91 1009.45,301.45 1005.11,303.84 1000.76,306.08 996.41,308.19 992.07,310.17 987.73,312.01 983.38,313.74 979.04,315.35 974.69,316.85 970.35,318.24 966.00,319.54" fill="#EBEBEB"/><polyline points="966.00,302.87 970.35,301.19 974.69,299.43 979.04,297.59 983.38,295.66 987.73,293.65 992.07,291.54 996.41,289.34 1000.76,287.05 1005.11,284.65 1009.45,282.15 1013.80,279.54 1018.14,276.82 1022.49,273.97 1026.83,271.01 1031.17,267.92 1035.52,264.69 1039.87,261.32 1044.21,257.80 1048.56,254.12 1052.90,250.28 1057.25,246.26 1061.59,242.05 1065.93,237.66 1070.28,233.06 1074.62,228.26 1078.97,223.26 1083.32,218.07 1087.66,212.69 1092.01,207.14 1096.35,201.43 1100.69,195.59 1105.04,189.64 1109.38,183.60 1113.73,177.50 1118.08,171.37 1122.42,165.22 1126.77,159.09 1131.11,153.00 1135.45,146.97 1139.80,141.03 1144.14,135.19 1148.49,129.47 1152.84,123.89 1157.18,118.46 1161.53,113.20 1165.87,108.11 1170.21,103.21 1174.56,98.50 1178.90,93.99 1183.25,89.68 1187.60,85.56 1191.94,81.65 1196.29,77.93 1200.63,74.42 1204.98,71.09 1209.32,67.95 1213.66,64.99 1218.01,62.21 1222.36,59.60 1226.70,57.16 1231.05,54.86 1235.39,52.72 1239.74,50.72 1244.08,48.86 1248.43,47.12 1252.77,45.50 1257.12,43.99 1261.46,42.59 1265.81,41.29 1270.15,40.09 1274.50,38.97 1278.84,37.93 1283.18,36.97 1287.53,36.08 1291.88,35.26 1296.22,34.50 1300.57,33.80 1304.91,33.15 1309.26,32.55 1313.60,31.99" fill="none" stroke="#BDBDBD" stroke-width="1.7" stroke-dasharray="7.6,6.8"/><polyline points="966.00,319.54 970.35,318.24 974.69,316.85 979.04,315.35 983.38,313.74 987.73,312.01 992.07,310.17 996.41,308.19 1000.76,306.08 1005.11,303.84 1009.45,301.45 1013.80,298.91 1018.14,296.22 1022.49,293.38 1026.83,290.38 1031.17,287.22 1035.52,283.91 1039.87,280.45 1044.21,276.85 1048.56,273.10 1052.90,269.23 1057.25,265.24 1061.59,261.15 1065.93,256.97 1070.28,252.71 1074.62,248.40 1078.97,244.04 1083.32,239.65 1087.66,235.23 1092.01,230.78 1096.35,226.32 1100.69,221.85 1105.04,217.36 1109.38,212.86 1113.73,208.36 1118.08,203.85 1122.42,199.34 1126.77,194.83 1131.11,190.33 1135.45,185.83 1139.80,181.35 1144.14,176.88 1148.49,172.44 1152.84,168.03 1157.18,163.65 1161.53,159.30 1165.87,155.01 1170.21,150.76 1174.56,146.56 1178.90,142.43 1183.25,138.35 1187.60,134.35 1191.94,130.41 1196.29,126.55 1200.63,122.77 1204.98,119.07 1209.32,115.46 1213.66,111.93 1218.01,108.49 1222.36,105.14 1226.70,101.88 1231.05,98.72 1235.39,95.65 1239.74,92.67 1244.08,89.78 1248.43,86.99 1252.77,84.30 1257.12,81.69 1261.46,79.18 1265.81,76.76 1270.15,74.42 1274.50,72.18 1278.84,70.02 1283.18,67.94 1287.53,65.95 1291.88,64.04 1296.22,62.20 1300.57,60.45 1304.91,58.76 1309.26,57.15 1313.60,55.61" fill="none" stroke="#BDBDBD" stroke-width="1.7" stroke-dasharray="7.6,6.8"/><polyline points="966.00,312.57 970.35,311.04 974.69,309.43 979.04,307.72 983.38,305.91 987.73,304.00 992.07,301.97 996.41,299.84 1000.76,297.58 1005.11,295.21 1009.45,292.70 1013.80,290.07 1018.14,287.31 1022.49,284.41 1026.83,281.37 1031.17,278.20 1035.52,274.88 1039.87,271.41 1044.21,267.80 1048.56,264.05 1052.90,260.16 1057.25,256.12 1061.59,251.94 1065.93,247.63 1070.28,243.19 1074.62,238.62 1078.97,233.92 1083.32,229.12 1087.66,224.21 1092.01,219.20 1096.35,214.10 1100.69,208.93 1105.04,203.69 1109.38,198.39 1113.73,193.06 1118.08,187.69 1122.42,182.30 1126.77,176.91 1131.11,171.53 1135.45,166.17 1139.80,160.85 1144.14,155.57 1148.49,150.35 1152.84,145.20 1157.18,140.13 1161.53,135.16 1165.87,130.28 1170.21,125.51 1174.56,120.86 1178.90,116.33 1183.25,111.93 1187.60,107.66 1191.94,103.53 1196.29,99.54 1200.63,95.69 1204.98,91.99 1209.32,88.43 1213.66,85.01 1218.01,81.74 1222.36,78.61 1226.70,75.61 1231.05,72.76 1235.39,70.04 1239.74,67.45 1244.08,64.99 1248.43,62.66 1252.77,60.44 1257.12,58.34 1261.46,56.36 1265.81,54.48 1270.15,52.70 1274.50,51.03 1278.84,49.44 1283.18,47.95 1287.53,46.54 1291.88,45.22 1296.22,43.97 1300.57,42.80 1304.91,41.70 1309.26,40.67 1313.60,39.69" fill="none" stroke="#000" stroke-width="1.6"/><circle cx="1008.5" cy="26.1" r="2.2"/><circle cx="1006.7" cy="29.7" r="2.2"/><circle cx="1006.7" cy="32.8" r="2.2"/><circle cx="1010.7" cy="38.2" r="2.2"/><circle cx="1021.1" cy="30.6" r="2.2"/><circle cx="1023.3" cy="28.3" r="2.2"/><circle cx="1029.1" cy="27.9" r="2.2"/><circle cx="1036.8" cy="26.1" r="2.2"/><circle cx="1033.6" cy="30.1" r="2.2"/><circle cx="1041.7" cy="28.3" r="2.2"/><circle cx="1043.5" cy="32.4" r="2.2"/><circle cx="1037.2" cy="33.7" r="2.2"/><circle cx="1039.9" cy="35.5" r="2.2"/><circle cx="1036.3" cy="34.6" r="2.2"/><circle cx="1029.1" cy="39.1" r="2.2"/><circle cx="1032.7" cy="37.3" r="2.2"/><circle cx="1036.8" cy="40.0" r="2.2"/><circle cx="1049.4" cy="29.2" r="2.2"/><circle cx="1050.7" cy="30.1" r="2.2"/><circle cx="1048.9" cy="34.6" r="2.2"/><circle cx="1048.9" cy="37.8" r="2.2"/><circle cx="1051.2" cy="39.6" r="2.2"/><circle cx="1053.0" cy="40.9" r="2.2"/><circle cx="1057.0" cy="26.1" r="2.2"/><circle cx="1057.0" cy="36.0" r="2.2"/><circle cx="1062.8" cy="32.4" r="2.2"/><circle cx="1060.6" cy="38.2" r="2.2"/><circle cx="1067.3" cy="36.9" r="2.2"/><circle cx="1077.2" cy="26.5" r="2.2"/><circle cx="1077.2" cy="31.9" r="2.2"/><circle cx="1074.5" cy="34.2" r="2.2"/><circle cx="1081.7" cy="36.9" r="2.2"/><circle cx="1093.8" cy="36.0" r="2.2"/><circle cx="1100.1" cy="30.6" r="2.2"/><circle cx="1103.7" cy="32.4" r="2.2"/><circle cx="1106.9" cy="28.8" r="2.2"/><circle cx="1105.5" cy="30.6" r="2.2"/><circle cx="1107.3" cy="36.0" r="2.2"/><circle cx="1104.2" cy="40.5" r="2.2"/><circle cx="1107.8" cy="39.6" r="2.2"/><circle cx="1112.7" cy="37.8" r="2.2"/><circle cx="1149.0" cy="33.3" r="2.2"/><circle cx="1149.0" cy="39.1" r="2.2"/><circle cx="1155.3" cy="25.6" r="2.2"/><circle cx="1155.3" cy="28.8" r="2.2"/><circle cx="1159.4" cy="31.9" r="2.2"/><circle cx="1159.4" cy="40.0" r="2.2"/><circle cx="1203.4" cy="37.8" r="2.2"/><circle cx="1205.6" cy="30.6" r="2.2"/><circle cx="1208.8" cy="27.9" r="2.2"/><circle cx="1095.6" cy="32.4" r="2.2"/><circle cx="1095.6" cy="35.1" r="2.2"/><circle cx="1095.6" cy="37.8" r="2.2"/><circle cx="1095.6" cy="40.5" r="2.2"/><circle cx="1118.6" cy="29.2" r="2.2"/><circle cx="1124.0" cy="38.4" r="2.2"/><circle cx="1117.8" cy="37.9" r="2.2"/><circle cx="1116.0" cy="33.6" r="2.2"/><circle cx="1119.6" cy="36.8" r="2.2"/><circle cx="1125.1" cy="33.2" r="2.2"/><circle cx="1125.2" cy="29.4" r="2.2"/><circle cx="1121.5" cy="33.6" r="2.2"/><circle cx="1116.4" cy="28.0" r="2.2"/><circle cx="1121.6" cy="38.4" r="2.2"/><circle cx="1119.7" cy="32.2" r="2.2"/><circle cx="1123.4" cy="31.0" r="2.2"/><circle cx="1125.1" cy="39.4" r="2.2"/><circle cx="1121.0" cy="27.3" r="2.2"/><circle cx="1124.4" cy="26.8" r="2.2"/><circle cx="1121.9" cy="29.8" r="2.2"/><circle cx="1118.9" cy="35.4" r="2.2"/><circle cx="1118.5" cy="32.8" r="2.2"/><circle cx="1124.0" cy="34.8" r="2.2"/><circle cx="1121.4" cy="35.4" r="2.2"/><circle cx="1116.1" cy="31.2" r="2.2"/><circle cx="1118.7" cy="40.1" r="2.2"/><circle cx="1117.5" cy="27.2" r="2.2"/><circle cx="1125.1" cy="36.6" r="2.2"/><circle cx="1123.0" cy="36.7" r="2.2"/><circle cx="1124.7" cy="28.1" r="2.2"/><circle cx="1135.1" cy="39.0" r="2.2"/><circle cx="1135.2" cy="30.7" r="2.2"/><circle cx="1135.0" cy="34.2" r="2.2"/><circle cx="1135.1" cy="28.1" r="2.2"/><circle cx="1135.3" cy="36.7" r="2.2"/><circle cx="1135.2" cy="31.9" r="2.2"/><circle cx="1141.6" cy="38.4" r="2.2"/><circle cx="1141.6" cy="31.8" r="2.2"/><circle cx="1141.6" cy="29.2" r="2.2"/><circle cx="1141.6" cy="35.6" r="2.2"/><circle cx="1141.6" cy="33.6" r="2.2"/><circle cx="1176.0" cy="27.0" r="2.2"/><circle cx="1176.0" cy="29.9" r="2.2"/><circle cx="1176.0" cy="32.8" r="2.2"/><circle cx="1176.0" cy="35.6" r="2.2"/><circle cx="1176.0" cy="38.5" r="2.2"/><circle cx="1183.2" cy="29.5" r="2.2"/><circle cx="1183.2" cy="32.0" r="2.2"/><circle cx="1183.2" cy="34.5" r="2.2"/><circle cx="1183.2" cy="37.0" r="2.2"/><circle cx="1183.2" cy="39.5" r="2.2"/><circle cx="1187.7" cy="29.0" r="2.2"/><circle cx="1187.7" cy="31.0" r="2.2"/><circle cx="1187.7" cy="33.0" r="2.2"/><circle cx="1187.7" cy="35.0" r="2.2"/><circle cx="1187.7" cy="37.0" r="2.2"/><circle cx="967.4" cy="321.6" r="2.2"/><circle cx="966.9" cy="329.4" r="2.2"/><circle cx="967.2" cy="334.0" r="2.2"/><circle cx="967.2" cy="331.7" r="2.2"/><circle cx="967.5" cy="325.6" r="2.2"/><circle cx="973.0" cy="333.6" r="2.2"/><circle cx="983.4" cy="322.3" r="2.2"/><circle cx="983.4" cy="331.3" r="2.2"/><circle cx="989.3" cy="324.8" r="2.2"/><circle cx="988.7" cy="330.9" r="2.2"/><circle cx="989.4" cy="331.6" r="2.2"/><circle cx="988.6" cy="322.9" r="2.2"/><circle cx="990.2" cy="324.2" r="2.2"/><circle cx="988.9" cy="321.7" r="2.2"/><circle cx="1005.6" cy="321.6" r="2.2"/><circle cx="1024.6" cy="322.6" r="2.2"/><circle cx="1010.0" cy="332.0" r="2.2"/><circle cx="1017.4" cy="323.6" r="2.2"/><circle cx="1014.4" cy="327.3" r="2.2"/><circle cx="1003.6" cy="330.8" r="2.2"/><circle cx="1009.5" cy="326.9" r="2.2"/><circle cx="1026.2" cy="330.9" r="2.2"/><circle cx="998.9" cy="328.9" r="2.2"/><circle cx="1020.3" cy="324.0" r="2.2"/><circle cx="999.3" cy="321.7" r="2.2"/><circle cx="1024.8" cy="327.6" r="2.2"/><circle cx="1009.1" cy="321.2" r="2.2"/><circle cx="999.5" cy="324.0" r="2.2"/><circle cx="1021.8" cy="330.6" r="2.2"/><circle cx="1028.2" cy="326.0" r="2.2"/><circle cx="1027.6" cy="322.6" r="2.2"/><circle cx="1006.3" cy="327.4" r="2.2"/><circle cx="1011.1" cy="323.5" r="2.2"/><circle cx="1007.5" cy="331.2" r="2.2"/><circle cx="1002.5" cy="327.6" r="2.2"/><circle cx="1017.1" cy="326.4" r="2.2"/><circle cx="1004.3" cy="329.1" r="2.2"/><circle cx="1029.6" cy="329.7" r="2.2"/><circle cx="1015.3" cy="321.3" r="2.2"/><circle cx="1018.0" cy="331.8" r="2.2"/><circle cx="1024.8" cy="324.5" r="2.2"/><circle cx="1008.4" cy="323.3" r="2.2"/><circle cx="1016.1" cy="328.3" r="2.2"/><circle cx="1003.0" cy="324.6" r="2.2"/><circle cx="1012.1" cy="332.2" r="2.2"/><circle cx="1021.1" cy="321.2" r="2.2"/><circle cx="1019.2" cy="330.5" r="2.2"/><circle cx="1016.0" cy="325.1" r="2.2"/><circle cx="1029.0" cy="331.5" r="2.2"/><circle cx="1019.6" cy="328.1" r="2.2"/><circle cx="1019.7" cy="326.3" r="2.2"/><circle cx="1000.7" cy="328.7" r="2.2"/><circle cx="1001.6" cy="330.9" r="2.2"/><circle cx="1014.9" cy="324.0" r="2.2"/><circle cx="1016.8" cy="322.1" r="2.2"/><circle cx="1022.1" cy="322.5" r="2.2"/><circle cx="1005.6" cy="325.4" r="2.2"/><circle cx="1026.3" cy="328.2" r="2.2"/><circle cx="1008.9" cy="329.8" r="2.2"/><circle cx="1021.5" cy="331.9" r="2.2"/><circle cx="1015.5" cy="330.3" r="2.2"/><circle cx="1001.6" cy="321.4" r="2.2"/><circle cx="1007.3" cy="329.0" r="2.2"/><circle cx="1014.0" cy="331.1" r="2.2"/><circle cx="1013.2" cy="323.0" r="2.2"/><circle cx="1004.9" cy="331.3" r="2.2"/><circle cx="1010.4" cy="325.2" r="2.2"/><circle cx="998.2" cy="327.7" r="2.2"/><circle cx="1014.8" cy="332.0" r="2.2"/><circle cx="1029.7" cy="321.6" r="2.2"/><circle cx="1027.9" cy="328.9" r="2.2"/><circle cx="1021.6" cy="327.0" r="2.2"/><circle cx="1013.4" cy="325.4" r="2.2"/><circle cx="998.2" cy="331.0" r="2.2"/><circle cx="1041.0" cy="325.2" r="2.2"/><circle cx="1045.9" cy="334.0" r="2.2"/><circle cx="1051.4" cy="324.8" r="2.2"/><circle cx="1047.0" cy="323.8" r="2.2"/><circle cx="1049.9" cy="332.6" r="2.2"/><circle cx="1041.4" cy="330.9" r="2.2"/><circle cx="1036.5" cy="329.3" r="2.2"/><circle cx="1043.8" cy="321.4" r="2.2"/><circle cx="1046.4" cy="330.6" r="2.2"/><circle cx="1049.1" cy="322.4" r="2.2"/><circle cx="1049.3" cy="325.2" r="2.2"/><circle cx="1038.0" cy="321.3" r="2.2"/><circle cx="1044.0" cy="329.7" r="2.2"/><circle cx="1036.2" cy="322.9" r="2.2"/><circle cx="1038.3" cy="323.5" r="2.2"/><circle cx="1052.9" cy="327.7" r="2.2"/><circle cx="1042.7" cy="332.4" r="2.2"/><circle cx="1052.2" cy="329.4" r="2.2"/><circle cx="1039.5" cy="328.6" r="2.2"/><circle cx="1038.4" cy="332.4" r="2.2"/><circle cx="1046.2" cy="327.1" r="2.2"/><circle cx="1050.8" cy="334.1" r="2.2"/><circle cx="1040.9" cy="321.5" r="2.2"/><circle cx="1048.2" cy="332.7" r="2.2"/><circle cx="1052.8" cy="321.6" r="2.2"/><circle cx="1036.0" cy="334.1" r="2.2"/><circle cx="1038.1" cy="326.8" r="2.2"/><circle cx="1041.9" cy="327.7" r="2.2"/><circle cx="1040.5" cy="323.5" r="2.2"/><circle cx="1047.7" cy="329.7" r="2.2"/><circle cx="1042.7" cy="325.3" r="2.2"/><circle cx="1042.9" cy="323.1" r="2.2"/><circle cx="1050.5" cy="331.4" r="2.2"/><circle cx="1041.2" cy="333.8" r="2.2"/><circle cx="1050.6" cy="327.8" r="2.2"/><circle cx="1047.6" cy="325.4" r="2.2"/><circle cx="1044.8" cy="327.4" r="2.2"/><circle cx="1049.9" cy="324.3" r="2.2"/><circle cx="1050.9" cy="321.8" r="2.2"/><circle cx="1037.5" cy="325.8" r="2.2"/><circle cx="1047.9" cy="327.0" r="2.2"/><circle cx="1044.8" cy="324.3" r="2.2"/><circle cx="1061.5" cy="322.0" r="2.2"/><circle cx="1061.5" cy="325.9" r="2.2"/><circle cx="1061.5" cy="329.7" r="2.2"/><circle cx="1061.5" cy="333.6" r="2.2"/><circle cx="1068.3" cy="330.0" r="2.2"/><circle cx="1074.1" cy="321.0" r="2.2"/><circle cx="1074.1" cy="325.5" r="2.2"/><circle cx="1074.1" cy="330.0" r="2.2"/><circle cx="1077.4" cy="324.7" r="2.2"/><circle cx="1079.3" cy="330.1" r="2.2"/><circle cx="1077.4" cy="321.7" r="2.2"/><circle cx="1080.5" cy="324.9" r="2.2"/><circle cx="1081.7" cy="328.6" r="2.2"/><circle cx="1074.9" cy="327.4" r="2.2"/><circle cx="1077.9" cy="326.3" r="2.2"/><circle cx="1093.4" cy="321.0" r="2.2"/><circle cx="1093.4" cy="325.5" r="2.2"/><circle cx="1093.4" cy="330.0" r="2.2"/><circle cx="1093.4" cy="334.5" r="2.2"/><circle cx="1100.1" cy="324.1" r="2.2"/><circle cx="1104.1" cy="328.2" r="2.2"/><circle cx="1101.0" cy="333.1" r="2.2"/><circle cx="1106.8" cy="332.7" r="2.2"/><circle cx="1106.8" cy="335.4" r="2.2"/><circle cx="1119.5" cy="330.5" r="2.2"/><circle cx="1117.4" cy="322.2" r="2.2"/><circle cx="1120.5" cy="326.7" r="2.2"/><circle cx="1121.3" cy="322.8" r="2.2"/><circle cx="1116.9" cy="332.4" r="2.2"/><circle cx="1117.2" cy="324.6" r="2.2"/><circle cx="1119.6" cy="325.4" r="2.2"/><circle cx="1121.5" cy="327.5" r="2.2"/><circle cx="1118.4" cy="329.2" r="2.2"/><circle cx="1120.1" cy="321.8" r="2.2"/><circle cx="1119.9" cy="323.2" r="2.2"/><circle cx="1120.3" cy="328.8" r="2.2"/><circle cx="1134.7" cy="325.5" r="2.2"/><circle cx="1134.7" cy="328.6" r="2.2"/><circle cx="1134.7" cy="331.8" r="2.2"/><circle cx="1141.4" cy="333.1" r="2.2"/><circle cx="1147.3" cy="321.4" r="2.2"/><circle cx="1181.4" cy="322.3" r="2.2"/><circle cx="1184.1" cy="323.7" r="2.2"/><circle cx="1187.7" cy="325.5" r="2.2"/><line x1="895.7" y1="335.50" x2="1336.0" y2="335.50" stroke="#808080" stroke-width="1.3"/><line x1="895.7" y1="25.50" x2="1336.0" y2="25.50" stroke="#808080" stroke-width="1.3"/><polyline points="895.7,11.0 895.7,351.0 1340.0,351.0" fill="none" stroke="#000" stroke-width="1.75" stroke-linejoin="round" stroke-linecap="round"/><line x1="890.7" y1="335.50" x2="895.7" y2="335.50" stroke="#333" stroke-width="1.5"/><line x1="890.7" y1="258.00" x2="895.7" y2="258.00" stroke="#333" stroke-width="1.5"/><line x1="890.7" y1="180.50" x2="895.7" y2="180.50" stroke="#333" stroke-width="1.5"/><line x1="890.7" y1="103.00" x2="895.7" y2="103.00" stroke="#333" stroke-width="1.5"/><line x1="890.7" y1="25.50" x2="895.7" y2="25.50" stroke="#333" stroke-width="1.5"/><line x1="915.60" y1="351.0" x2="915.60" y2="356.0" stroke="#333" stroke-width="1.5"/><line x1="1015.60" y1="351.0" x2="1015.60" y2="356.0" stroke="#333" stroke-width="1.5"/><line x1="1115.60" y1="351.0" x2="1115.60" y2="356.0" stroke="#333" stroke-width="1.5"/><line x1="1215.60" y1="351.0" x2="1215.60" y2="356.0" stroke="#333" stroke-width="1.5"/><line x1="1315.60" y1="351.0" x2="1315.60" y2="356.0" stroke="#333" stroke-width="1.5"/><text x="0" y="0" font-size="21.5" fill="#000" text-anchor="middle" transform="translate(915.60,64.90) scale(0.93,1)">A</text><polygon points="92.40,665.17 96.22,664.69 100.03,664.20 103.85,663.70 107.67,663.18 111.48,662.65 115.30,662.11 119.12,661.56 122.93,660.99 126.75,660.40 130.57,659.80 134.38,659.18 138.20,658.55 142.02,657.89 145.83,657.22 149.65,656.52 153.47,655.80 157.28,655.06 161.10,654.28 164.92,653.48 168.74,652.65 172.55,651.78 176.37,650.87 180.19,649.93 184.00,648.94 187.82,647.91 191.64,646.83 195.45,645.70 199.27,644.52 203.09,643.28 206.90,641.97 210.72,640.61 214.54,639.18 218.35,637.68 222.17,636.11 225.99,634.47 229.80,632.76 233.62,630.97 237.44,629.11 241.25,627.17 245.07,625.16 248.89,623.08 252.70,620.92 256.52,618.68 260.34,616.38 264.15,613.99 267.97,611.54 271.79,609.01 275.60,606.42 279.42,603.75 283.24,601.01 287.05,598.21 290.87,595.34 294.69,592.41 298.50,589.42 302.32,586.37 306.14,583.26 309.95,580.10 313.77,576.88 317.59,573.62 321.40,570.31 325.22,566.95 329.04,563.56 332.86,560.12 336.67,556.65 340.49,553.16 344.31,549.63 348.12,546.08 351.94,542.51 355.76,538.93 359.57,535.34 363.39,531.73 367.21,528.12 371.02,524.52 374.84,520.91 378.66,517.32 382.47,513.73 386.29,510.16 390.11,506.61 393.92,503.08 397.74,499.58 397.74,611.74 393.92,612.85 390.11,613.95 386.29,615.04 382.47,616.12 378.66,617.20 374.84,618.26 371.02,619.32 367.21,620.37 363.39,621.41 359.57,622.45 355.76,623.47 351.94,624.49 348.12,625.50 344.31,626.50 340.49,627.49 336.67,628.48 332.86,629.46 329.04,630.43 325.22,631.39 321.40,632.35 317.59,633.30 313.77,634.24 309.95,635.18 306.14,636.11 302.32,637.04 298.50,637.96 294.69,638.87 290.87,639.79 287.05,640.69 283.24,641.60 279.42,642.50 275.60,643.39 271.79,644.29 267.97,645.18 264.15,646.08 260.34,646.97 256.52,647.86 252.70,648.76 248.89,649.65 245.07,650.55 241.25,651.45 237.44,652.35 233.62,653.25 229.80,654.16 225.99,655.08 222.17,655.99 218.35,656.91 214.54,657.83 210.72,658.76 206.90,659.68 203.09,660.60 199.27,661.52 195.45,662.44 191.64,663.35 187.82,664.25 184.00,665.15 180.19,666.03 176.37,666.90 172.55,667.76 168.74,668.60 164.92,669.43 161.10,670.23 157.28,671.02 153.47,671.79 149.65,672.54 145.83,673.26 142.02,673.97 138.20,674.66 134.38,675.32 130.57,675.96 126.75,676.58 122.93,677.19 119.12,677.77 115.30,678.33 111.48,678.87 107.67,679.39 103.85,679.89 100.03,680.37 96.22,680.84 92.40,681.29" fill="#EBEBEB"/><polyline points="92.40,665.17 96.22,664.69 100.03,664.20 103.85,663.70 107.67,663.18 111.48,662.65 115.30,662.11 119.12,661.56 122.93,660.99 126.75,660.40 130.57,659.80 134.38,659.18 138.20,658.55 142.02,657.89 145.83,657.22 149.65,656.52 153.47,655.80 157.28,655.06 161.10,654.28 164.92,653.48 168.74,652.65 172.55,651.78 176.37,650.87 180.19,649.93 184.00,648.94 187.82,647.91 191.64,646.83 195.45,645.70 199.27,644.52 203.09,643.28 206.90,641.97 210.72,640.61 214.54,639.18 218.35,637.68 222.17,636.11 225.99,634.47 229.80,632.76 233.62,630.97 237.44,629.11 241.25,627.17 245.07,625.16 248.89,623.08 252.70,620.92 256.52,618.68 260.34,616.38 264.15,613.99 267.97,611.54 271.79,609.01 275.60,606.42 279.42,603.75 283.24,601.01 287.05,598.21 290.87,595.34 294.69,592.41 298.50,589.42 302.32,586.37 306.14,583.26 309.95,580.10 313.77,576.88 317.59,573.62 321.40,570.31 325.22,566.95 329.04,563.56 332.86,560.12 336.67,556.65 340.49,553.16 344.31,549.63 348.12,546.08 351.94,542.51 355.76,538.93 359.57,535.34 363.39,531.73 367.21,528.12 371.02,524.52 374.84,520.91 378.66,517.32 382.47,513.73 386.29,510.16 390.11,506.61 393.92,503.08 397.74,499.58" fill="none" stroke="#BDBDBD" stroke-width="1.7" stroke-dasharray="7.6,6.8"/><polyline points="92.40,681.29 96.22,680.84 100.03,680.37 103.85,679.89 107.67,679.39 111.48,678.87 115.30,678.33 119.12,677.77 122.93,677.19 126.75,676.58 130.57,675.96 134.38,675.32 138.20,674.66 142.02,673.97 145.83,673.26 149.65,672.54 153.47,671.79 157.28,671.02 161.10,670.23 164.92,669.43 168.74,668.60 172.55,667.76 176.37,666.90 180.19,666.03 184.00,665.15 187.82,664.25 191.64,663.35 195.45,662.44 199.27,661.52 203.09,660.60 206.90,659.68 210.72,658.76 214.54,657.83 218.35,656.91 222.17,655.99 225.99,655.08 229.80,654.16 233.62,653.25 237.44,652.35 241.25,651.45 245.07,650.55 248.89,649.65 252.70,648.76 256.52,647.86 260.34,646.97 264.15,646.08 267.97,645.18 271.79,644.29 275.60,643.39 279.42,642.50 283.24,641.60 287.05,640.69 290.87,639.79 294.69,638.87 298.50,637.96 302.32,637.04 306.14,636.11 309.95,635.18 313.77,634.24 317.59,633.30 321.40,632.35 325.22,631.39 329.04,630.43 332.86,629.46 336.67,628.48 340.49,627.49 344.31,626.50 348.12,625.50 351.94,624.49 355.76,623.47 359.57,622.45 363.39,621.41 367.21,620.37 371.02,619.32 374.84,618.26 378.66,617.20 382.47,616.12 386.29,615.04 390.11,613.95 393.92,612.85 397.74,611.74" fill="none" stroke="#BDBDBD" stroke-width="1.7" stroke-dasharray="7.6,6.8"/><polyline points="92.40,675.00 96.22,674.49 100.03,673.97 103.85,673.43 107.67,672.87 111.48,672.30 115.30,671.72 119.12,671.11 122.93,670.49 126.75,669.86 130.57,669.20 134.38,668.53 138.20,667.83 142.02,667.12 145.83,666.39 149.65,665.64 153.47,664.87 157.28,664.07 161.10,663.26 164.92,662.42 168.74,661.56 172.55,660.68 176.37,659.78 180.19,658.85 184.00,657.90 187.82,656.92 191.64,655.92 195.45,654.90 199.27,653.84 203.09,652.77 206.90,651.66 210.72,650.53 214.54,649.37 218.35,648.19 222.17,646.97 225.99,645.73 229.80,644.46 233.62,643.16 237.44,641.83 241.25,640.47 245.07,639.08 248.89,637.66 252.70,636.21 256.52,634.73 260.34,633.22 264.15,631.67 267.97,630.10 271.79,628.49 275.60,626.86 279.42,625.19 283.24,623.49 287.05,621.76 290.87,619.99 294.69,618.20 298.50,616.37 302.32,614.51 306.14,612.63 309.95,610.71 313.77,608.76 317.59,606.78 321.40,604.76 325.22,602.72 329.04,600.66 332.86,598.56 336.67,596.43 340.49,594.28 344.31,592.09 348.12,589.89 351.94,587.65 355.76,585.39 359.57,583.11 363.39,580.80 367.21,578.47 371.02,576.12 374.84,573.75 378.66,571.35 382.47,568.94 386.29,566.51 390.11,564.06 393.92,561.60 397.74,559.12" fill="none" stroke="#000" stroke-width="1.6"/><circle cx="150.3" cy="375.2" r="2.2"/><circle cx="155.7" cy="378.4" r="2.2"/><circle cx="155.7" cy="386.0" r="2.2"/><circle cx="155.7" cy="387.4" r="2.2"/><circle cx="177.7" cy="373.9" r="2.2"/><circle cx="180.9" cy="383.3" r="2.2"/><circle cx="184.5" cy="383.3" r="2.2"/><circle cx="190.3" cy="373.4" r="2.2"/><circle cx="193.0" cy="375.2" r="2.2"/><circle cx="195.7" cy="378.4" r="2.2"/><circle cx="202.9" cy="372.1" r="2.2"/><circle cx="202.0" cy="376.6" r="2.2"/><circle cx="203.8" cy="377.9" r="2.2"/><circle cx="199.3" cy="382.9" r="2.2"/><circle cx="203.3" cy="384.7" r="2.2"/><circle cx="215.0" cy="383.3" r="2.2"/><circle cx="213.2" cy="386.9" r="2.2"/><circle cx="223.6" cy="374.3" r="2.2"/><circle cx="226.7" cy="378.8" r="2.2"/><circle cx="221.8" cy="381.5" r="2.2"/><circle cx="223.6" cy="384.2" r="2.2"/><circle cx="238.4" cy="377.9" r="2.2"/><circle cx="238.4" cy="382.9" r="2.2"/><circle cx="238.4" cy="383.8" r="2.2"/><circle cx="244.7" cy="372.1" r="2.2"/><circle cx="244.7" cy="382.4" r="2.2"/><circle cx="255.5" cy="379.7" r="2.2"/><circle cx="92.4" cy="683.5" r="2.2"/><circle cx="92.4" cy="687.5" r="2.2"/><circle cx="92.4" cy="691.6" r="2.2"/><circle cx="96.4" cy="681.5" r="2.2"/><circle cx="96.8" cy="685.5" r="2.2"/><circle cx="99.5" cy="675.7" r="2.2"/><circle cx="112.3" cy="686.9" r="2.2"/><circle cx="115.3" cy="680.8" r="2.2"/><circle cx="115.3" cy="682.8" r="2.2"/><circle cx="122.0" cy="677.7" r="2.2"/><circle cx="121.8" cy="687.5" r="2.2"/><circle cx="124.2" cy="680.7" r="2.2"/><circle cx="122.3" cy="683.6" r="2.2"/><circle cx="123.9" cy="678.1" r="2.2"/><circle cx="124.2" cy="689.5" r="2.2"/><circle cx="123.0" cy="687.8" r="2.2"/><circle cx="124.0" cy="679.5" r="2.2"/><circle cx="122.4" cy="686.2" r="2.2"/><circle cx="123.2" cy="686.8" r="2.2"/><circle cx="123.3" cy="682.5" r="2.2"/><circle cx="122.2" cy="688.8" r="2.2"/><circle cx="124.1" cy="682.8" r="2.2"/><circle cx="127.1" cy="683.5" r="2.2"/><circle cx="131.8" cy="679.5" r="2.2"/><circle cx="131.8" cy="684.5" r="2.2"/><circle cx="131.8" cy="690.9" r="2.2"/><circle cx="139.2" cy="676.8" r="2.2"/><circle cx="139.2" cy="679.1" r="2.2"/><circle cx="139.2" cy="681.5" r="2.2"/><circle cx="144.7" cy="682.8" r="2.2"/><circle cx="144.0" cy="688.3" r="2.2"/><circle cx="147.8" cy="685.4" r="2.2"/><circle cx="150.0" cy="678.4" r="2.2"/><circle cx="145.6" cy="684.4" r="2.2"/><circle cx="149.4" cy="682.8" r="2.2"/><circle cx="146.7" cy="678.4" r="2.2"/><circle cx="150.7" cy="686.6" r="2.2"/><circle cx="149.2" cy="687.9" r="2.2"/><circle cx="144.5" cy="685.7" r="2.2"/><circle cx="149.0" cy="679.0" r="2.2"/><circle cx="149.8" cy="680.9" r="2.2"/><circle cx="145.6" cy="687.1" r="2.2"/><circle cx="147.2" cy="687.9" r="2.2"/><circle cx="149.3" cy="685.3" r="2.2"/><circle cx="144.0" cy="678.7" r="2.2"/><circle cx="146.2" cy="679.9" r="2.2"/><circle cx="144.5" cy="680.5" r="2.2"/><circle cx="144.2" cy="686.9" r="2.2"/><circle cx="146.6" cy="683.2" r="2.2"/><circle cx="150.6" cy="679.6" r="2.2"/><circle cx="145.6" cy="681.5" r="2.2"/><circle cx="144.4" cy="684.6" r="2.2"/><circle cx="148.2" cy="681.8" r="2.2"/><circle cx="148.5" cy="683.9" r="2.2"/><circle cx="150.4" cy="687.7" r="2.2"/><circle cx="146.6" cy="686.1" r="2.2"/><circle cx="166.4" cy="681.8" r="2.2"/><circle cx="161.2" cy="690.5" r="2.2"/><circle cx="158.0" cy="684.7" r="2.2"/><circle cx="169.2" cy="690.5" r="2.2"/><circle cx="161.4" cy="683.0" r="2.2"/><circle cx="164.7" cy="688.1" r="2.2"/><circle cx="160.3" cy="680.0" r="2.2"/><circle cx="166.5" cy="678.5" r="2.2"/><circle cx="167.3" cy="685.4" r="2.2"/><circle cx="157.6" cy="682.0" r="2.2"/><circle cx="168.8" cy="687.7" r="2.2"/><circle cx="158.6" cy="689.3" r="2.2"/><circle cx="165.1" cy="685.5" r="2.2"/><circle cx="161.5" cy="685.5" r="2.2"/><circle cx="166.1" cy="688.7" r="2.2"/><circle cx="157.9" cy="687.2" r="2.2"/><circle cx="165.2" cy="690.7" r="2.2"/><circle cx="156.1" cy="686.2" r="2.2"/><circle cx="156.6" cy="688.8" r="2.2"/><circle cx="164.6" cy="682.4" r="2.2"/><circle cx="161.8" cy="678.8" r="2.2"/><circle cx="163.0" cy="685.7" r="2.2"/><circle cx="169.4" cy="678.9" r="2.2"/><circle cx="165.7" cy="683.9" r="2.2"/><circle cx="163.1" cy="683.7" r="2.2"/><circle cx="163.7" cy="687.1" r="2.2"/><circle cx="159.7" cy="682.6" r="2.2"/><circle cx="169.5" cy="682.0" r="2.2"/><circle cx="157.5" cy="679.4" r="2.2"/><circle cx="162.5" cy="688.7" r="2.2"/><circle cx="169.3" cy="683.7" r="2.2"/><circle cx="159.0" cy="685.6" r="2.2"/><circle cx="167.3" cy="688.2" r="2.2"/><circle cx="158.9" cy="681.2" r="2.2"/><circle cx="193.4" cy="681.7" r="2.2"/><circle cx="182.4" cy="677.0" r="2.2"/><circle cx="175.3" cy="689.6" r="2.2"/><circle cx="190.6" cy="688.4" r="2.2"/><circle cx="172.9" cy="676.7" r="2.2"/><circle cx="177.2" cy="686.1" r="2.2"/><circle cx="189.9" cy="677.6" r="2.2"/><circle cx="172.1" cy="688.8" r="2.2"/><circle cx="183.9" cy="685.3" r="2.2"/><circle cx="184.9" cy="680.4" r="2.2"/><circle cx="195.0" cy="684.2" r="2.2"/><circle cx="180.7" cy="680.5" r="2.2"/><circle cx="186.3" cy="690.7" r="2.2"/><circle cx="188.3" cy="685.0" r="2.2"/><circle cx="193.5" cy="688.6" r="2.2"/><circle cx="182.2" cy="689.2" r="2.2"/><circle cx="174.2" cy="682.6" r="2.2"/><circle cx="177.9" cy="682.2" r="2.2"/><circle cx="179.8" cy="687.6" r="2.2"/><circle cx="194.8" cy="678.4" r="2.2"/><circle cx="188.3" cy="690.5" r="2.2"/><circle cx="172.3" cy="679.9" r="2.2"/><circle cx="177.9" cy="679.9" r="2.2"/><circle cx="172.7" cy="686.4" r="2.2"/><circle cx="179.2" cy="677.0" r="2.2"/><circle cx="176.2" cy="677.5" r="2.2"/><circle cx="188.3" cy="682.7" r="2.2"/><circle cx="187.8" cy="680.2" r="2.2"/><circle cx="187.6" cy="678.7" r="2.2"/><circle cx="195.2" cy="681.7" r="2.2"/><circle cx="175.3" cy="687.8" r="2.2"/><circle cx="184.3" cy="677.7" r="2.2"/><circle cx="190.0" cy="679.4" r="2.2"/><circle cx="192.5" cy="676.8" r="2.2"/><circle cx="182.9" cy="686.7" r="2.2"/><circle cx="180.5" cy="683.0" r="2.2"/><circle cx="192.5" cy="690.4" r="2.2"/><circle cx="192.4" cy="679.2" r="2.2"/><circle cx="182.7" cy="680.8" r="2.2"/><circle cx="172.6" cy="683.1" r="2.2"/><circle cx="186.3" cy="685.8" r="2.2"/><circle cx="194.3" cy="687.1" r="2.2"/><circle cx="177.1" cy="676.5" r="2.2"/><circle cx="172.3" cy="690.2" r="2.2"/><circle cx="183.6" cy="690.9" r="2.2"/><circle cx="177.3" cy="690.4" r="2.2"/><circle cx="172.5" cy="681.6" r="2.2"/><circle cx="175.2" cy="679.6" r="2.2"/><circle cx="185.8" cy="682.8" r="2.2"/><circle cx="187.6" cy="688.9" r="2.2"/><circle cx="174.5" cy="676.3" r="2.2"/><circle cx="203.9" cy="682.6" r="2.2"/><circle cx="206.9" cy="678.0" r="2.2"/><circle cx="202.9" cy="680.4" r="2.2"/><circle cx="205.3" cy="686.3" r="2.2"/><circle cx="205.2" cy="677.9" r="2.2"/><circle cx="203.9" cy="688.5" r="2.2"/><circle cx="201.8" cy="677.2" r="2.2"/><circle cx="206.8" cy="683.2" r="2.2"/><circle cx="204.2" cy="675.6" r="2.2"/><circle cx="202.7" cy="685.8" r="2.2"/><circle cx="203.3" cy="678.9" r="2.2"/><circle cx="201.7" cy="682.7" r="2.2"/><circle cx="207.0" cy="675.7" r="2.2"/><circle cx="204.2" cy="678.9" r="2.2"/><circle cx="205.0" cy="684.9" r="2.2"/><circle cx="205.6" cy="680.0" r="2.2"/><circle cx="202.1" cy="683.4" r="2.2"/><circle cx="205.2" cy="683.1" r="2.2"/><circle cx="204.8" cy="676.9" r="2.2"/><circle cx="201.8" cy="685.3" r="2.2"/><circle cx="205.0" cy="687.7" r="2.2"/><circle cx="205.5" cy="688.4" r="2.2"/><circle cx="206.7" cy="687.3" r="2.2"/><circle cx="204.5" cy="680.3" r="2.2"/><circle cx="214.0" cy="677.3" r="2.2"/><circle cx="214.3" cy="687.4" r="2.2"/><circle cx="213.4" cy="683.8" r="2.2"/><circle cx="214.0" cy="681.3" r="2.2"/><circle cx="212.5" cy="679.5" r="2.2"/><circle cx="212.8" cy="685.3" r="2.2"/><circle cx="213.3" cy="680.1" r="2.2"/><circle cx="213.4" cy="687.7" r="2.2"/><circle cx="213.1" cy="679.0" r="2.2"/><circle cx="212.9" cy="681.7" r="2.2"/><circle cx="222.0" cy="678.4" r="2.2"/><circle cx="224.1" cy="687.7" r="2.2"/><circle cx="222.5" cy="684.3" r="2.2"/><circle cx="221.2" cy="688.0" r="2.2"/><circle cx="226.0" cy="677.7" r="2.2"/><circle cx="226.8" cy="685.7" r="2.2"/><circle cx="223.6" cy="681.9" r="2.2"/><circle cx="220.9" cy="680.4" r="2.2"/><circle cx="219.8" cy="676.9" r="2.2"/><circle cx="226.4" cy="682.1" r="2.2"/><circle cx="223.8" cy="677.4" r="2.2"/><circle cx="224.6" cy="678.7" r="2.2"/><circle cx="219.5" cy="683.7" r="2.2"/><circle cx="221.0" cy="685.7" r="2.2"/><circle cx="226.4" cy="688.9" r="2.2"/><circle cx="220.7" cy="683.1" r="2.2"/><circle cx="227.3" cy="683.3" r="2.2"/><circle cx="220.9" cy="676.3" r="2.2"/><circle cx="224.3" cy="686.4" r="2.2"/><circle cx="219.2" cy="680.4" r="2.2"/><circle cx="221.1" cy="679.3" r="2.2"/><circle cx="225.0" cy="685.2" r="2.2"/><circle cx="226.7" cy="676.7" r="2.2"/><circle cx="224.4" cy="689.0" r="2.2"/><circle cx="232.6" cy="678.8" r="2.2"/><circle cx="232.6" cy="682.6" r="2.2"/><circle cx="232.6" cy="676.5" r="2.2"/><circle cx="232.6" cy="681.9" r="2.2"/><circle cx="238.1" cy="676.8" r="2.2"/><circle cx="238.1" cy="680.3" r="2.2"/><circle cx="238.1" cy="683.8" r="2.2"/><circle cx="238.1" cy="687.4" r="2.2"/><circle cx="238.1" cy="690.9" r="2.2"/><circle cx="245.1" cy="674.7" r="2.2"/><circle cx="245.1" cy="679.7" r="2.2"/><circle cx="245.1" cy="684.6" r="2.2"/><circle cx="245.1" cy="689.6" r="2.2"/><circle cx="259.6" cy="681.5" r="2.2"/><circle cx="261.0" cy="681.3" r="2.2"/><circle cx="272.0" cy="686.6" r="2.2"/><circle cx="321.0" cy="678.3" r="2.2"/><circle cx="321.0" cy="680.1" r="2.2"/><circle cx="349.3" cy="680.1" r="2.2"/><circle cx="345.0" cy="688.0" r="2.2"/><line x1="75.5" y1="691.50" x2="450.6" y2="691.50" stroke="#808080" stroke-width="1.3"/><line x1="75.5" y1="372.00" x2="450.6" y2="372.00" stroke="#808080" stroke-width="1.3"/><polyline points="75.5,357.0 75.5,707.5 444.6,707.5" fill="none" stroke="#000" stroke-width="1.75" stroke-linejoin="round" stroke-linecap="round"/><line x1="70.5" y1="691.50" x2="75.5" y2="691.50" stroke="#333" stroke-width="1.5"/><line x1="70.5" y1="611.62" x2="75.5" y2="611.62" stroke="#333" stroke-width="1.5"/><line x1="70.5" y1="531.75" x2="75.5" y2="531.75" stroke="#333" stroke-width="1.5"/><line x1="70.5" y1="451.88" x2="75.5" y2="451.88" stroke="#333" stroke-width="1.5"/><line x1="70.5" y1="372.00" x2="75.5" y2="372.00" stroke="#333" stroke-width="1.5"/><line x1="92.40" y1="707.5" x2="92.40" y2="712.5" stroke="#333" stroke-width="1.5"/><line x1="176.40" y1="707.5" x2="176.40" y2="712.5" stroke="#333" stroke-width="1.5"/><line x1="260.40" y1="707.5" x2="260.40" y2="712.5" stroke="#333" stroke-width="1.5"/><line x1="344.40" y1="707.5" x2="344.40" y2="712.5" stroke="#333" stroke-width="1.5"/><line x1="428.40" y1="707.5" x2="428.40" y2="712.5" stroke="#333" stroke-width="1.5"/><text x="0" y="0" font-size="21.5" fill="#000" text-anchor="middle" transform="translate(92.40,412.35) scale(0.93,1)">B</text><polygon points="495.30,633.46 499.73,631.00 504.15,628.45 508.58,625.80 513.00,623.06 517.42,620.22 521.85,617.26 526.27,614.20 530.70,611.03 535.12,607.73 539.55,604.31 543.98,600.76 548.40,597.07 552.83,593.23 557.25,589.25 561.67,585.10 566.10,580.79 570.52,576.32 574.95,571.67 579.38,566.85 583.80,561.86 588.23,556.71 592.65,551.40 597.08,545.95 601.50,540.37 605.92,534.69 610.35,528.91 614.77,523.06 619.20,517.18 623.62,511.27 628.05,505.36 632.48,499.48 636.90,493.65 641.33,487.89 645.75,482.22 650.17,476.66 654.60,471.22 659.02,465.92 663.45,460.77 667.88,455.78 672.30,450.96 676.73,446.32 681.15,441.87 685.58,437.60 690.00,433.52 694.42,429.63 698.85,425.93 703.27,422.42 707.70,419.09 712.12,415.94 716.55,412.97 720.98,410.17 725.40,407.53 729.83,405.05 734.25,402.73 738.67,400.55 743.10,398.51 747.53,396.60 751.95,394.82 756.38,393.15 760.80,391.60 765.23,390.16 769.65,388.81 774.08,387.56 778.50,386.40 782.92,385.32 787.35,384.32 791.78,383.39 796.20,382.52 800.62,381.72 805.05,380.98 809.48,380.30 813.90,379.66 818.33,379.08 822.75,378.53 827.17,378.03 831.60,377.56 836.03,377.13 840.45,376.74 844.88,376.37 849.30,376.03 849.30,402.77 844.88,404.14 840.45,405.57 836.03,407.05 831.60,408.59 827.17,410.18 822.75,411.84 818.33,413.56 813.90,415.34 809.48,417.19 805.05,419.10 800.62,421.08 796.20,423.13 791.78,425.25 787.35,427.44 782.92,429.70 778.50,432.03 774.08,434.44 769.65,436.92 765.23,439.47 760.80,442.10 756.38,444.81 751.95,447.58 747.53,450.44 743.10,453.37 738.67,456.37 734.25,459.45 729.83,462.60 725.40,465.82 720.98,469.11 716.55,472.47 712.12,475.90 707.70,479.39 703.27,482.95 698.85,486.57 694.42,490.25 690.00,493.98 685.58,497.77 681.15,501.61 676.73,505.50 672.30,509.44 667.88,513.42 663.45,517.44 659.02,521.50 654.60,525.60 650.17,529.73 645.75,533.88 641.33,538.07 636.90,542.28 632.48,546.52 628.05,550.77 623.62,555.05 619.20,559.35 614.77,563.67 610.35,568.00 605.92,572.34 601.50,576.70 597.08,581.07 592.65,585.44 588.23,589.81 583.80,594.16 579.38,598.50 574.95,602.81 570.52,607.07 566.10,611.27 561.67,615.40 557.25,619.45 552.83,623.39 548.40,627.23 543.98,630.94 539.55,634.53 535.12,637.97 530.70,641.28 526.27,644.44 521.85,647.45 517.42,650.31 513.00,653.03 508.58,655.60 504.15,658.03 499.73,660.32 495.30,662.48" fill="#EBEBEB"/><polyline points="495.30,633.46 499.73,631.00 504.15,628.45 508.58,625.80 513.00,623.06 517.42,620.22 521.85,617.26 526.27,614.20 530.70,611.03 535.12,607.73 539.55,604.31 543.98,600.76 548.40,597.07 552.83,593.23 557.25,589.25 561.67,585.10 566.10,580.79 570.52,576.32 574.95,571.67 579.38,566.85 583.80,561.86 588.23,556.71 592.65,551.40 597.08,545.95 601.50,540.37 605.92,534.69 610.35,528.91 614.77,523.06 619.20,517.18 623.62,511.27 628.05,505.36 632.48,499.48 636.90,493.65 641.33,487.89 645.75,482.22 650.17,476.66 654.60,471.22 659.02,465.92 663.45,460.77 667.88,455.78 672.30,450.96 676.73,446.32 681.15,441.87 685.58,437.60 690.00,433.52 694.42,429.63 698.85,425.93 703.27,422.42 707.70,419.09 712.12,415.94 716.55,412.97 720.98,410.17 725.40,407.53 729.83,405.05 734.25,402.73 738.67,400.55 743.10,398.51 747.53,396.60 751.95,394.82 756.38,393.15 760.80,391.60 765.23,390.16 769.65,388.81 774.08,387.56 778.50,386.40 782.92,385.32 787.35,384.32 791.78,383.39 796.20,382.52 800.62,381.72 805.05,380.98 809.48,380.30 813.90,379.66 818.33,379.08 822.75,378.53 827.17,378.03 831.60,377.56 836.03,377.13 840.45,376.74 844.88,376.37 849.30,376.03" fill="none" stroke="#BDBDBD" stroke-width="1.7" stroke-dasharray="7.6,6.8"/><polyline points="495.30,662.48 499.73,660.32 504.15,658.03 508.58,655.60 513.00,653.03 517.42,650.31 521.85,647.45 526.27,644.44 530.70,641.28 535.12,637.97 539.55,634.53 543.98,630.94 548.40,627.23 552.83,623.39 557.25,619.45 561.67,615.40 566.10,611.27 570.52,607.07 574.95,602.81 579.38,598.50 583.80,594.16 588.23,589.81 592.65,585.44 597.08,581.07 601.50,576.70 605.92,572.34 610.35,568.00 614.77,563.67 619.20,559.35 623.62,555.05 628.05,550.77 632.48,546.52 636.90,542.28 641.33,538.07 645.75,533.88 650.17,529.73 654.60,525.60 659.02,521.50 663.45,517.44 667.88,513.42 672.30,509.44 676.73,505.50 681.15,501.61 685.58,497.77 690.00,493.98 694.42,490.25 698.85,486.57 703.27,482.95 707.70,479.39 712.12,475.90 716.55,472.47 720.98,469.11 725.40,465.82 729.83,462.60 734.25,459.45 738.67,456.37 743.10,453.37 747.53,450.44 751.95,447.58 756.38,444.81 760.80,442.10 765.23,439.47 769.65,436.92 774.08,434.44 778.50,432.03 782.92,429.70 787.35,427.44 791.78,425.25 796.20,423.13 800.62,421.08 805.05,419.10 809.48,417.19 813.90,415.34 818.33,413.56 822.75,411.84 827.17,410.18 831.60,408.59 836.03,407.05 840.45,405.57 844.88,404.14 849.30,402.77" fill="none" stroke="#BDBDBD" stroke-width="1.7" stroke-dasharray="7.6,6.8"/><polyline points="495.30,650.09 499.73,647.69 504.15,645.17 508.58,642.53 513.00,639.77 517.42,636.89 521.85,633.88 526.27,630.75 530.70,627.48 535.12,624.09 539.55,620.56 543.98,616.91 548.40,613.12 552.83,609.21 557.25,605.18 561.67,601.02 566.10,596.74 570.52,592.35 574.95,587.85 579.38,583.24 583.80,578.54 588.23,573.74 592.65,568.87 597.08,563.91 601.50,558.90 605.92,553.83 610.35,548.71 614.77,543.56 619.20,538.38 623.62,533.19 628.05,527.99 632.48,522.81 636.90,517.64 641.33,512.50 645.75,507.40 650.17,502.35 654.60,497.36 659.02,492.45 663.45,487.60 667.88,482.85 672.30,478.19 676.73,473.63 681.15,469.18 685.58,464.83 690.00,460.61 694.42,456.51 698.85,452.52 703.27,448.67 707.70,444.94 712.12,441.35 716.55,437.88 720.98,434.54 725.40,431.34 729.83,428.26 734.25,425.31 738.67,422.48 743.10,419.78 747.53,417.19 751.95,414.73 756.38,412.38 760.80,410.14 765.23,408.01 769.65,405.98 774.08,404.05 778.50,402.23 782.92,400.49 787.35,398.85 791.78,397.29 796.20,395.82 800.62,394.42 805.05,393.11 809.48,391.86 813.90,390.68 818.33,389.57 822.75,388.52 827.17,387.53 831.60,386.60 836.03,385.72 840.45,384.89 844.88,384.11 849.30,383.37" fill="none" stroke="#000" stroke-width="1.6"/><circle cx="502.9" cy="385.1" r="2.2"/><circle cx="513.4" cy="378.8" r="2.2"/><circle cx="513.4" cy="382.0" r="2.2"/><circle cx="527.3" cy="372.1" r="2.2"/><circle cx="525.1" cy="384.2" r="2.2"/><circle cx="527.8" cy="387.4" r="2.2"/><circle cx="543.5" cy="387.4" r="2.2"/><circle cx="548.5" cy="378.8" r="2.2"/><circle cx="548.5" cy="384.2" r="2.2"/><circle cx="553.4" cy="374.3" r="2.2"/><circle cx="558.3" cy="377.9" r="2.2"/><circle cx="558.8" cy="385.1" r="2.2"/><circle cx="566.9" cy="372.1" r="2.2"/><circle cx="566.9" cy="377.9" r="2.2"/><circle cx="565.5" cy="380.6" r="2.2"/><circle cx="567.3" cy="382.0" r="2.2"/><circle cx="569.1" cy="387.4" r="2.2"/><circle cx="590.2" cy="374.3" r="2.2"/><circle cx="589.8" cy="380.6" r="2.2"/><circle cx="594.3" cy="380.2" r="2.2"/><circle cx="596.5" cy="373.4" r="2.2"/><circle cx="601.0" cy="372.1" r="2.2"/><circle cx="604.6" cy="376.6" r="2.2"/><circle cx="599.7" cy="380.2" r="2.2"/><circle cx="601.5" cy="380.6" r="2.2"/><circle cx="600.6" cy="384.2" r="2.2"/><circle cx="596.5" cy="384.7" r="2.2"/><circle cx="593.8" cy="387.8" r="2.2"/><circle cx="607.8" cy="384.2" r="2.2"/><circle cx="613.6" cy="378.4" r="2.2"/><circle cx="618.9" cy="373.4" r="2.2"/><circle cx="618.9" cy="376.6" r="2.2"/><circle cx="622.5" cy="386.0" r="2.2"/><circle cx="630.6" cy="377.9" r="2.2"/><circle cx="630.6" cy="382.9" r="2.2"/><circle cx="630.6" cy="385.6" r="2.2"/><circle cx="631.5" cy="386.9" r="2.2"/><circle cx="635.5" cy="382.9" r="2.2"/><circle cx="643.6" cy="382.0" r="2.2"/><circle cx="645.9" cy="386.9" r="2.2"/><circle cx="653.5" cy="383.3" r="2.2"/><circle cx="655.3" cy="384.2" r="2.2"/><circle cx="662.1" cy="379.7" r="2.2"/><circle cx="671.5" cy="383.8" r="2.2"/><circle cx="681.4" cy="376.1" r="2.2"/><circle cx="698.0" cy="380.6" r="2.2"/><circle cx="725.0" cy="374.6" r="2.2"/><circle cx="725.0" cy="383.3" r="2.2"/><circle cx="752.4" cy="374.1" r="2.2"/><circle cx="752.4" cy="385.6" r="2.2"/><circle cx="794.5" cy="380.0" r="2.2"/><circle cx="580.4" cy="372.5" r="2.2"/><circle cx="580.4" cy="375.4" r="2.2"/><circle cx="580.4" cy="378.3" r="2.2"/><circle cx="580.4" cy="381.2" r="2.2"/><circle cx="580.4" cy="384.1" r="2.2"/><circle cx="580.4" cy="387.0" r="2.2"/><circle cx="645.4" cy="372.1" r="2.2"/><circle cx="645.4" cy="375.2" r="2.2"/><circle cx="645.4" cy="378.4" r="2.2"/><circle cx="511.6" cy="676.1" r="2.2"/><circle cx="515.4" cy="688.3" r="2.2"/><circle cx="506.1" cy="688.3" r="2.2"/><circle cx="498.7" cy="680.2" r="2.2"/><circle cx="520.0" cy="684.3" r="2.2"/><circle cx="506.8" cy="681.0" r="2.2"/><circle cx="501.9" cy="685.0" r="2.2"/><circle cx="501.6" cy="679.0" r="2.2"/><circle cx="511.1" cy="688.0" r="2.2"/><circle cx="507.2" cy="677.2" r="2.2"/><circle cx="514.8" cy="684.2" r="2.2"/><circle cx="508.4" cy="681.1" r="2.2"/><circle cx="521.1" cy="688.9" r="2.2"/><circle cx="508.5" cy="686.3" r="2.2"/><circle cx="511.7" cy="681.9" r="2.2"/><circle cx="498.2" cy="686.4" r="2.2"/><circle cx="511.5" cy="685.5" r="2.2"/><circle cx="512.6" cy="680.1" r="2.2"/><circle cx="505.6" cy="685.8" r="2.2"/><circle cx="519.9" cy="677.1" r="2.2"/><circle cx="520.1" cy="685.8" r="2.2"/><circle cx="516.4" cy="677.3" r="2.2"/><circle cx="500.4" cy="682.4" r="2.2"/><circle cx="508.2" cy="683.4" r="2.2"/><circle cx="517.2" cy="685.9" r="2.2"/><circle cx="514.1" cy="676.7" r="2.2"/><circle cx="500.2" cy="687.1" r="2.2"/><circle cx="515.1" cy="685.5" r="2.2"/><circle cx="502.5" cy="682.5" r="2.2"/><circle cx="520.0" cy="682.2" r="2.2"/><circle cx="518.3" cy="681.8" r="2.2"/><circle cx="515.7" cy="679.0" r="2.2"/><circle cx="509.2" cy="682.4" r="2.2"/><circle cx="504.4" cy="680.8" r="2.2"/><circle cx="511.0" cy="680.1" r="2.2"/><circle cx="513.0" cy="683.3" r="2.2"/><circle cx="518.5" cy="684.7" r="2.2"/><circle cx="499.6" cy="676.1" r="2.2"/><circle cx="510.1" cy="677.5" r="2.2"/><circle cx="521.0" cy="680.1" r="2.2"/><circle cx="502.3" cy="686.8" r="2.2"/><circle cx="504.4" cy="687.4" r="2.2"/><circle cx="504.5" cy="677.9" r="2.2"/><circle cx="506.7" cy="684.6" r="2.2"/><circle cx="515.2" cy="683.2" r="2.2"/><circle cx="511.7" cy="683.3" r="2.2"/><circle cx="508.1" cy="679.1" r="2.2"/><circle cx="513.9" cy="686.9" r="2.2"/><circle cx="502.4" cy="676.9" r="2.2"/><circle cx="500.2" cy="684.4" r="2.2"/><circle cx="499.2" cy="677.6" r="2.2"/><circle cx="540.1" cy="685.7" r="2.2"/><circle cx="534.7" cy="678.5" r="2.2"/><circle cx="541.0" cy="676.1" r="2.2"/><circle cx="532.9" cy="686.3" r="2.2"/><circle cx="527.5" cy="684.1" r="2.2"/><circle cx="539.5" cy="680.4" r="2.2"/><circle cx="535.8" cy="690.6" r="2.2"/><circle cx="531.6" cy="676.8" r="2.2"/><circle cx="530.9" cy="690.7" r="2.2"/><circle cx="538.0" cy="677.7" r="2.2"/><circle cx="526.5" cy="676.6" r="2.2"/><circle cx="529.6" cy="683.8" r="2.2"/><circle cx="532.5" cy="683.7" r="2.2"/><circle cx="534.6" cy="682.3" r="2.2"/><circle cx="539.1" cy="683.8" r="2.2"/><circle cx="537.9" cy="688.3" r="2.2"/><circle cx="530.2" cy="687.8" r="2.2"/><circle cx="542.0" cy="683.9" r="2.2"/><circle cx="539.3" cy="687.1" r="2.2"/><circle cx="540.2" cy="689.0" r="2.2"/><circle cx="529.4" cy="678.4" r="2.2"/><circle cx="533.3" cy="678.9" r="2.2"/><circle cx="528.3" cy="689.5" r="2.2"/><circle cx="536.5" cy="678.8" r="2.2"/><circle cx="526.7" cy="686.1" r="2.2"/><circle cx="535.9" cy="684.6" r="2.2"/><circle cx="532.3" cy="689.5" r="2.2"/><circle cx="530.3" cy="684.8" r="2.2"/><circle cx="527.3" cy="681.7" r="2.2"/><circle cx="539.4" cy="677.6" r="2.2"/><circle cx="529.8" cy="676.0" r="2.2"/><circle cx="542.3" cy="678.5" r="2.2"/><circle cx="532.2" cy="681.0" r="2.2"/><circle cx="541.9" cy="681.5" r="2.2"/><circle cx="535.0" cy="680.9" r="2.2"/><circle cx="537.1" cy="686.0" r="2.2"/><circle cx="526.9" cy="679.3" r="2.2"/><circle cx="548.0" cy="680.1" r="2.2"/><circle cx="551.7" cy="675.7" r="2.2"/><circle cx="554.0" cy="680.1" r="2.2"/><circle cx="551.0" cy="684.2" r="2.2"/><circle cx="548.3" cy="690.6" r="2.2"/><circle cx="553.0" cy="691.2" r="2.2"/><circle cx="558.4" cy="685.2" r="2.2"/><circle cx="558.4" cy="690.9" r="2.2"/><circle cx="567.5" cy="683.1" r="2.2"/><circle cx="567.3" cy="678.4" r="2.2"/><circle cx="567.4" cy="686.8" r="2.2"/><circle cx="567.3" cy="679.6" r="2.2"/><circle cx="568.1" cy="689.2" r="2.2"/><circle cx="566.1" cy="688.2" r="2.2"/><circle cx="568.0" cy="681.1" r="2.2"/><circle cx="566.2" cy="681.0" r="2.2"/><circle cx="568.0" cy="687.9" r="2.2"/><circle cx="567.3" cy="684.6" r="2.2"/><circle cx="582.1" cy="678.0" r="2.2"/><circle cx="581.0" cy="685.0" r="2.2"/><circle cx="581.4" cy="682.2" r="2.2"/><circle cx="581.1" cy="678.8" r="2.2"/><circle cx="582.2" cy="681.8" r="2.2"/><circle cx="581.2" cy="683.1" r="2.2"/><circle cx="581.0" cy="686.0" r="2.2"/><circle cx="585.7" cy="682.8" r="2.2"/><circle cx="590.6" cy="681.0" r="2.2"/><circle cx="590.6" cy="689.6" r="2.2"/><circle cx="594.2" cy="675.6" r="2.2"/><circle cx="596.4" cy="677.9" r="2.2"/><circle cx="596.4" cy="683.7" r="2.2"/><circle cx="599.1" cy="684.6" r="2.2"/><circle cx="594.2" cy="686.4" r="2.2"/><circle cx="596.4" cy="690.5" r="2.2"/><circle cx="600.9" cy="688.2" r="2.2"/><circle cx="603.6" cy="689.6" r="2.2"/><circle cx="600.9" cy="675.6" r="2.2"/><circle cx="604.5" cy="679.7" r="2.2"/><circle cx="608.1" cy="675.6" r="2.2"/><circle cx="608.1" cy="687.3" r="2.2"/><circle cx="614.0" cy="687.8" r="2.2"/><circle cx="618.9" cy="677.9" r="2.2"/><circle cx="622.5" cy="677.4" r="2.2"/><circle cx="624.3" cy="682.4" r="2.2"/><circle cx="631.5" cy="679.2" r="2.2"/><circle cx="630.6" cy="687.3" r="2.2"/><circle cx="670.6" cy="690.5" r="2.2"/><line x1="450.3" y1="691.50" x2="896.0" y2="691.50" stroke="#808080" stroke-width="1.3"/><line x1="450.3" y1="372.00" x2="896.0" y2="372.00" stroke="#808080" stroke-width="1.3"/><polyline points="450.3,357.0 450.3,707.5 890.0,707.5" fill="none" stroke="#000" stroke-width="1.75" stroke-linejoin="round" stroke-linecap="round"/><line x1="445.3" y1="691.50" x2="450.3" y2="691.50" stroke="#333" stroke-width="1.5"/><line x1="445.3" y1="611.62" x2="450.3" y2="611.62" stroke="#333" stroke-width="1.5"/><line x1="445.3" y1="531.75" x2="450.3" y2="531.75" stroke="#333" stroke-width="1.5"/><line x1="445.3" y1="451.88" x2="450.3" y2="451.88" stroke="#333" stroke-width="1.5"/><line x1="445.3" y1="372.00" x2="450.3" y2="372.00" stroke="#333" stroke-width="1.5"/><line x1="470.30" y1="707.5" x2="470.30" y2="712.5" stroke="#333" stroke-width="1.5"/><line x1="570.30" y1="707.5" x2="570.30" y2="712.5" stroke="#333" stroke-width="1.5"/><line x1="670.30" y1="707.5" x2="670.30" y2="712.5" stroke="#333" stroke-width="1.5"/><line x1="770.30" y1="707.5" x2="770.30" y2="712.5" stroke="#333" stroke-width="1.5"/><line x1="870.30" y1="707.5" x2="870.30" y2="712.5" stroke="#333" stroke-width="1.5"/><text x="0" y="0" font-size="21.5" fill="#000" text-anchor="middle" transform="translate(470.30,412.35) scale(0.93,1)">B</text><polygon points="966.00,650.07 970.35,647.95 974.69,645.74 979.04,643.44 983.38,641.03 987.73,638.52 992.07,635.90 996.41,633.18 1000.76,630.34 1005.11,627.38 1009.45,624.30 1013.80,621.10 1018.14,617.78 1022.49,614.32 1026.83,610.72 1031.17,606.99 1035.52,603.11 1039.87,599.08 1044.21,594.89 1048.56,590.55 1052.90,586.04 1057.25,581.36 1061.59,576.51 1065.93,571.49 1070.28,566.29 1074.62,560.93 1078.97,555.41 1083.32,549.74 1087.66,543.94 1092.01,538.03 1096.35,532.03 1100.69,525.96 1105.04,519.84 1109.38,513.70 1113.73,507.57 1118.08,501.47 1122.42,495.42 1126.77,489.44 1131.11,483.57 1135.45,477.81 1139.80,472.18 1144.14,466.70 1148.49,461.39 1152.84,456.25 1157.18,451.29 1161.53,446.52 1165.87,441.95 1170.21,437.58 1174.56,433.40 1178.90,429.43 1183.25,425.65 1187.60,422.08 1191.94,418.69 1196.29,415.50 1200.63,412.49 1204.98,409.65 1209.32,406.99 1213.66,404.50 1218.01,402.16 1222.36,399.97 1226.70,397.92 1231.05,396.02 1235.39,394.24 1239.74,392.58 1244.08,391.04 1248.43,389.60 1252.77,388.27 1257.12,387.04 1261.46,385.89 1265.81,384.83 1270.15,383.84 1274.50,382.93 1278.84,382.08 1283.18,381.30 1287.53,380.58 1291.88,379.91 1296.22,379.29 1300.57,378.72 1304.91,378.19 1309.26,377.71 1313.60,377.26 1313.60,395.96 1309.26,397.23 1304.91,398.57 1300.57,399.97 1296.22,401.44 1291.88,402.98 1287.53,404.59 1283.18,406.28 1278.84,408.04 1274.50,409.88 1270.15,411.81 1265.81,413.81 1261.46,415.90 1257.12,418.09 1252.77,420.36 1248.43,422.72 1244.08,425.18 1239.74,427.73 1235.39,430.38 1231.05,433.13 1226.70,435.98 1222.36,438.92 1218.01,441.97 1213.66,445.12 1209.32,448.38 1204.98,451.73 1200.63,455.18 1196.29,458.73 1191.94,462.38 1187.60,466.13 1183.25,469.97 1178.90,473.90 1174.56,477.92 1170.21,482.03 1165.87,486.22 1161.53,490.49 1157.18,494.84 1152.84,499.25 1148.49,503.74 1144.14,508.28 1139.80,512.89 1135.45,517.54 1131.11,522.24 1126.77,526.99 1122.42,531.78 1118.08,536.60 1113.73,541.45 1109.38,546.32 1105.04,551.22 1100.69,556.13 1096.35,561.06 1092.01,565.99 1087.66,570.93 1083.32,575.87 1078.97,580.79 1074.62,585.69 1070.28,590.56 1065.93,595.38 1061.59,600.15 1057.25,604.83 1052.90,609.43 1048.56,613.92 1044.21,618.29 1039.87,622.52 1035.52,626.62 1031.17,630.56 1026.83,634.34 1022.49,637.96 1018.14,641.41 1013.80,644.69 1009.45,647.81 1005.11,650.76 1000.76,653.55 996.41,656.17 992.07,658.65 987.73,660.97 983.38,663.15 979.04,665.20 974.69,667.11 970.35,668.89 966.00,670.56" fill="#EBEBEB"/><polyline points="966.00,650.07 970.35,647.95 974.69,645.74 979.04,643.44 983.38,641.03 987.73,638.52 992.07,635.90 996.41,633.18 1000.76,630.34 1005.11,627.38 1009.45,624.30 1013.80,621.10 1018.14,617.78 1022.49,614.32 1026.83,610.72 1031.17,606.99 1035.52,603.11 1039.87,599.08 1044.21,594.89 1048.56,590.55 1052.90,586.04 1057.25,581.36 1061.59,576.51 1065.93,571.49 1070.28,566.29 1074.62,560.93 1078.97,555.41 1083.32,549.74 1087.66,543.94 1092.01,538.03 1096.35,532.03 1100.69,525.96 1105.04,519.84 1109.38,513.70 1113.73,507.57 1118.08,501.47 1122.42,495.42 1126.77,489.44 1131.11,483.57 1135.45,477.81 1139.80,472.18 1144.14,466.70 1148.49,461.39 1152.84,456.25 1157.18,451.29 1161.53,446.52 1165.87,441.95 1170.21,437.58 1174.56,433.40 1178.90,429.43 1183.25,425.65 1187.60,422.08 1191.94,418.69 1196.29,415.50 1200.63,412.49 1204.98,409.65 1209.32,406.99 1213.66,404.50 1218.01,402.16 1222.36,399.97 1226.70,397.92 1231.05,396.02 1235.39,394.24 1239.74,392.58 1244.08,391.04 1248.43,389.60 1252.77,388.27 1257.12,387.04 1261.46,385.89 1265.81,384.83 1270.15,383.84 1274.50,382.93 1278.84,382.08 1283.18,381.30 1287.53,380.58 1291.88,379.91 1296.22,379.29 1300.57,378.72 1304.91,378.19 1309.26,377.71 1313.60,377.26" fill="none" stroke="#BDBDBD" stroke-width="1.7" stroke-dasharray="7.6,6.8"/><polyline points="966.00,670.56 970.35,668.89 974.69,667.11 979.04,665.20 983.38,663.15 987.73,660.97 992.07,658.65 996.41,656.17 1000.76,653.55 1005.11,650.76 1009.45,647.81 1013.80,644.69 1018.14,641.41 1022.49,637.96 1026.83,634.34 1031.17,630.56 1035.52,626.62 1039.87,622.52 1044.21,618.29 1048.56,613.92 1052.90,609.43 1057.25,604.83 1061.59,600.15 1065.93,595.38 1070.28,590.56 1074.62,585.69 1078.97,580.79 1083.32,575.87 1087.66,570.93 1092.01,565.99 1096.35,561.06 1100.69,556.13 1105.04,551.22 1109.38,546.32 1113.73,541.45 1118.08,536.60 1122.42,531.78 1126.77,526.99 1131.11,522.24 1135.45,517.54 1139.80,512.89 1144.14,508.28 1148.49,503.74 1152.84,499.25 1157.18,494.84 1161.53,490.49 1165.87,486.22 1170.21,482.03 1174.56,477.92 1178.90,473.90 1183.25,469.97 1187.60,466.13 1191.94,462.38 1196.29,458.73 1200.63,455.18 1204.98,451.73 1209.32,448.38 1213.66,445.12 1218.01,441.97 1222.36,438.92 1226.70,435.98 1231.05,433.13 1235.39,430.38 1239.74,427.73 1244.08,425.18 1248.43,422.72 1252.77,420.36 1257.12,418.09 1261.46,415.90 1265.81,413.81 1270.15,411.81 1274.50,409.88 1278.84,408.04 1283.18,406.28 1287.53,404.59 1291.88,402.98 1296.22,401.44 1300.57,399.97 1304.91,398.57 1309.26,397.23 1313.60,395.96" fill="none" stroke="#BDBDBD" stroke-width="1.7" stroke-dasharray="7.6,6.8"/><polyline points="966.00,661.87 970.35,659.94 974.69,657.90 979.04,655.74 983.38,653.46 987.73,651.06 992.07,648.53 996.41,645.87 1000.76,643.07 1005.11,640.14 1009.45,637.06 1013.80,633.83 1018.14,630.46 1022.49,626.94 1026.83,623.27 1031.17,619.45 1035.52,615.49 1039.87,611.37 1044.21,607.11 1048.56,602.71 1052.90,598.16 1057.25,593.49 1061.59,588.68 1065.93,583.76 1070.28,578.72 1074.62,573.58 1078.97,568.34 1083.32,563.02 1087.66,557.63 1092.01,552.17 1096.35,546.67 1100.69,541.13 1105.04,535.57 1109.38,529.99 1113.73,524.42 1118.08,518.87 1122.42,513.36 1126.77,507.88 1131.11,502.46 1135.45,497.11 1139.80,491.84 1144.14,486.67 1148.49,481.59 1152.84,476.62 1157.18,471.77 1161.53,467.05 1165.87,462.46 1170.21,458.00 1174.56,453.69 1178.90,449.52 1183.25,445.49 1187.60,441.62 1191.94,437.90 1196.29,434.32 1200.63,430.90 1204.98,427.62 1209.32,424.48 1213.66,421.50 1218.01,418.65 1222.36,415.94 1226.70,413.36 1231.05,410.91 1235.39,408.59 1239.74,406.39 1244.08,404.30 1248.43,402.33 1252.77,400.47 1257.12,398.71 1261.46,397.05 1265.81,395.49 1270.15,394.02 1274.50,392.63 1278.84,391.32 1283.18,390.09 1287.53,388.94 1291.88,387.85 1296.22,386.83 1300.57,385.88 1304.91,384.98 1309.26,384.14 1313.60,383.35" fill="none" stroke="#000" stroke-width="1.6"/><circle cx="988.1" cy="375.2" r="2.2"/><circle cx="1008.8" cy="372.5" r="2.2"/><circle cx="1007.0" cy="377.5" r="2.2"/><circle cx="1009.2" cy="382.9" r="2.2"/><circle cx="1013.7" cy="378.8" r="2.2"/><circle cx="1017.3" cy="374.8" r="2.2"/><circle cx="1021.3" cy="375.7" r="2.2"/><circle cx="1021.3" cy="383.3" r="2.2"/><circle cx="1027.6" cy="373.9" r="2.2"/><circle cx="1029.9" cy="373.9" r="2.2"/><circle cx="1027.2" cy="378.8" r="2.2"/><circle cx="1029.4" cy="384.2" r="2.2"/><circle cx="1036.2" cy="374.8" r="2.2"/><circle cx="1041.1" cy="374.8" r="2.2"/><circle cx="1042.9" cy="373.4" r="2.2"/><circle cx="1037.1" cy="379.7" r="2.2"/><circle cx="1038.9" cy="387.8" r="2.2"/><circle cx="1049.2" cy="373.9" r="2.2"/><circle cx="1049.6" cy="379.7" r="2.2"/><circle cx="1049.2" cy="381.5" r="2.2"/><circle cx="1053.7" cy="375.7" r="2.2"/><circle cx="1053.7" cy="382.4" r="2.2"/><circle cx="1046.9" cy="386.9" r="2.2"/><circle cx="1050.5" cy="386.0" r="2.2"/><circle cx="1060.9" cy="374.8" r="2.2"/><circle cx="1060.9" cy="378.4" r="2.2"/><circle cx="1064.5" cy="377.5" r="2.2"/><circle cx="1060.9" cy="385.6" r="2.2"/><circle cx="1068.5" cy="382.9" r="2.2"/><circle cx="1082.4" cy="378.2" r="2.2"/><circle cx="1076.1" cy="384.4" r="2.2"/><circle cx="1078.0" cy="376.6" r="2.2"/><circle cx="1079.3" cy="384.0" r="2.2"/><circle cx="1080.1" cy="382.0" r="2.2"/><circle cx="1074.3" cy="381.9" r="2.2"/><circle cx="1083.4" cy="375.5" r="2.2"/><circle cx="1077.0" cy="380.0" r="2.2"/><circle cx="1076.1" cy="375.1" r="2.2"/><circle cx="1074.4" cy="385.2" r="2.2"/><circle cx="1079.4" cy="379.8" r="2.2"/><circle cx="1083.7" cy="379.4" r="2.2"/><circle cx="1077.8" cy="384.5" r="2.2"/><circle cx="1075.1" cy="378.2" r="2.2"/><circle cx="1073.8" cy="379.8" r="2.2"/><circle cx="1081.2" cy="378.1" r="2.2"/><circle cx="1078.1" cy="380.4" r="2.2"/><circle cx="1079.5" cy="378.2" r="2.2"/><circle cx="1080.9" cy="384.0" r="2.2"/><circle cx="1083.5" cy="377.2" r="2.2"/><circle cx="1084.2" cy="384.7" r="2.2"/><circle cx="1081.6" cy="375.7" r="2.2"/><circle cx="1073.8" cy="376.6" r="2.2"/><circle cx="1079.4" cy="376.5" r="2.2"/><circle cx="1107.7" cy="376.6" r="2.2"/><circle cx="1114.3" cy="385.3" r="2.2"/><circle cx="1114.1" cy="377.4" r="2.2"/><circle cx="1104.5" cy="384.4" r="2.2"/><circle cx="1121.9" cy="386.4" r="2.2"/><circle cx="1118.4" cy="381.0" r="2.2"/><circle cx="1111.7" cy="383.2" r="2.2"/><circle cx="1104.8" cy="379.9" r="2.2"/><circle cx="1121.3" cy="378.7" r="2.2"/><circle cx="1113.8" cy="380.4" r="2.2"/><circle cx="1119.0" cy="376.6" r="2.2"/><circle cx="1118.2" cy="385.0" r="2.2"/><circle cx="1109.3" cy="374.6" r="2.2"/><circle cx="1109.2" cy="385.1" r="2.2"/><circle cx="1111.2" cy="378.5" r="2.2"/><circle cx="1107.7" cy="373.5" r="2.2"/><circle cx="1103.2" cy="383.2" r="2.2"/><circle cx="1107.9" cy="378.8" r="2.2"/><circle cx="1106.5" cy="383.1" r="2.2"/><circle cx="1116.4" cy="386.2" r="2.2"/><circle cx="1120.9" cy="384.1" r="2.2"/><circle cx="1105.3" cy="375.1" r="2.2"/><circle cx="1115.0" cy="375.6" r="2.2"/><circle cx="1121.6" cy="375.6" r="2.2"/><circle cx="1110.8" cy="385.1" r="2.2"/><circle cx="1109.0" cy="381.7" r="2.2"/><circle cx="1104.6" cy="374.0" r="2.2"/><circle cx="1114.0" cy="373.4" r="2.2"/><circle cx="1105.0" cy="381.6" r="2.2"/><circle cx="1117.4" cy="373.8" r="2.2"/><circle cx="1110.1" cy="377.3" r="2.2"/><circle cx="1136.5" cy="381.2" r="2.2"/><circle cx="1139.1" cy="386.8" r="2.2"/><circle cx="1139.6" cy="374.4" r="2.2"/><circle cx="1138.6" cy="384.6" r="2.2"/><circle cx="1140.7" cy="377.3" r="2.2"/><circle cx="1134.3" cy="377.6" r="2.2"/><circle cx="1135.3" cy="385.1" r="2.2"/><circle cx="1136.4" cy="376.1" r="2.2"/><circle cx="1135.7" cy="386.4" r="2.2"/><circle cx="1134.2" cy="385.4" r="2.2"/><circle cx="1149.3" cy="373.9" r="2.2"/><circle cx="1149.3" cy="378.1" r="2.2"/><circle cx="1149.3" cy="382.3" r="2.2"/><circle cx="1149.3" cy="386.5" r="2.2"/><circle cx="1159.8" cy="379.3" r="2.2"/><circle cx="1155.9" cy="383.4" r="2.2"/><circle cx="1155.8" cy="379.0" r="2.2"/><circle cx="1159.1" cy="378.0" r="2.2"/><circle cx="1158.4" cy="383.5" r="2.2"/><circle cx="1180.6" cy="379.7" r="2.2"/><circle cx="1186.1" cy="376.7" r="2.2"/><circle cx="1189.1" cy="385.9" r="2.2"/><circle cx="1178.1" cy="375.3" r="2.2"/><circle cx="1190.2" cy="380.1" r="2.2"/><circle cx="1175.9" cy="382.1" r="2.2"/><circle cx="1189.8" cy="375.8" r="2.2"/><circle cx="1189.1" cy="382.1" r="2.2"/><circle cx="1180.0" cy="384.5" r="2.2"/><circle cx="1183.4" cy="385.3" r="2.2"/><circle cx="1183.5" cy="379.7" r="2.2"/><circle cx="1176.7" cy="385.9" r="2.2"/><circle cx="1183.1" cy="376.6" r="2.2"/><circle cx="1202.8" cy="375.8" r="2.2"/><circle cx="1204.6" cy="384.5" r="2.2"/><circle cx="1207.0" cy="377.4" r="2.2"/><circle cx="1202.7" cy="382.4" r="2.2"/><circle cx="1206.9" cy="380.8" r="2.2"/><circle cx="1203.1" cy="377.8" r="2.2"/><circle cx="966.7" cy="683.7" r="2.2"/><circle cx="973.0" cy="681.9" r="2.2"/><circle cx="979.3" cy="690.5" r="2.2"/><circle cx="988.9" cy="686.0" r="2.2"/><circle cx="988.9" cy="684.5" r="2.2"/><circle cx="990.3" cy="677.3" r="2.2"/><circle cx="989.9" cy="680.5" r="2.2"/><circle cx="989.9" cy="683.8" r="2.2"/><circle cx="989.8" cy="679.3" r="2.2"/><circle cx="998.4" cy="681.9" r="2.2"/><circle cx="998.4" cy="687.3" r="2.2"/><circle cx="999.0" cy="685.5" r="2.2"/><circle cx="998.4" cy="680.5" r="2.2"/><circle cx="998.4" cy="678.6" r="2.2"/><circle cx="998.4" cy="683.8" r="2.2"/><circle cx="1009.3" cy="687.5" r="2.2"/><circle cx="1011.4" cy="677.9" r="2.2"/><circle cx="1008.1" cy="684.1" r="2.2"/><circle cx="1006.8" cy="679.9" r="2.2"/><circle cx="1012.7" cy="682.2" r="2.2"/><circle cx="1013.7" cy="679.1" r="2.2"/><circle cx="1012.8" cy="685.5" r="2.2"/><circle cx="1009.8" cy="685.6" r="2.2"/><circle cx="1006.9" cy="687.7" r="2.2"/><circle cx="1014.4" cy="687.9" r="2.2"/><circle cx="1014.2" cy="677.7" r="2.2"/><circle cx="1008.7" cy="677.0" r="2.2"/><circle cx="1014.6" cy="685.4" r="2.2"/><circle cx="1006.5" cy="681.6" r="2.2"/><circle cx="1010.5" cy="682.5" r="2.2"/><circle cx="1008.7" cy="679.5" r="2.2"/><circle cx="1011.1" cy="687.2" r="2.2"/><circle cx="1014.0" cy="682.4" r="2.2"/><circle cx="1011.3" cy="685.9" r="2.2"/><circle cx="1007.9" cy="680.8" r="2.2"/><circle cx="1014.0" cy="684.3" r="2.2"/><circle cx="1011.8" cy="683.6" r="2.2"/><circle cx="1009.4" cy="681.3" r="2.2"/><circle cx="1006.6" cy="685.2" r="2.2"/><circle cx="1021.7" cy="687.9" r="2.2"/><circle cx="1021.4" cy="680.7" r="2.2"/><circle cx="1021.4" cy="684.2" r="2.2"/><circle cx="1021.3" cy="685.7" r="2.2"/><circle cx="1021.6" cy="682.4" r="2.2"/><circle cx="1026.9" cy="676.1" r="2.2"/><circle cx="1026.9" cy="679.7" r="2.2"/><circle cx="1029.2" cy="686.0" r="2.2"/><circle cx="1029.2" cy="689.6" r="2.2"/><circle cx="1038.3" cy="681.1" r="2.2"/><circle cx="1052.3" cy="680.9" r="2.2"/><circle cx="1044.7" cy="678.9" r="2.2"/><circle cx="1039.2" cy="686.6" r="2.2"/><circle cx="1042.4" cy="688.2" r="2.2"/><circle cx="1048.8" cy="688.2" r="2.2"/><circle cx="1044.0" cy="685.4" r="2.2"/><circle cx="1042.8" cy="683.4" r="2.2"/><circle cx="1047.6" cy="682.2" r="2.2"/><circle cx="1044.5" cy="680.9" r="2.2"/><circle cx="1034.8" cy="678.8" r="2.2"/><circle cx="1052.8" cy="686.3" r="2.2"/><circle cx="1050.3" cy="678.2" r="2.2"/><circle cx="1046.3" cy="685.4" r="2.2"/><circle cx="1034.7" cy="684.5" r="2.2"/><circle cx="1038.7" cy="678.8" r="2.2"/><circle cx="1051.2" cy="682.6" r="2.2"/><circle cx="1034.7" cy="687.3" r="2.2"/><circle cx="1041.8" cy="678.7" r="2.2"/><circle cx="1046.6" cy="680.8" r="2.2"/><circle cx="1040.3" cy="688.6" r="2.2"/><circle cx="1049.1" cy="684.0" r="2.2"/><circle cx="1040.1" cy="681.9" r="2.2"/><circle cx="1036.9" cy="687.3" r="2.2"/><circle cx="1050.9" cy="681.2" r="2.2"/><circle cx="1050.5" cy="686.4" r="2.2"/><circle cx="1052.5" cy="677.2" r="2.2"/><circle cx="1044.6" cy="683.6" r="2.2"/><circle cx="1049.5" cy="685.5" r="2.2"/><circle cx="1036.9" cy="683.4" r="2.2"/><circle cx="1041.6" cy="682.8" r="2.2"/><circle cx="1044.8" cy="686.9" r="2.2"/><circle cx="1044.1" cy="688.9" r="2.2"/><circle cx="1040.4" cy="685.8" r="2.2"/><circle cx="1040.1" cy="680.0" r="2.2"/><circle cx="1039.9" cy="684.4" r="2.2"/><circle cx="1036.3" cy="681.1" r="2.2"/><circle cx="1064.7" cy="679.7" r="2.2"/><circle cx="1063.3" cy="685.0" r="2.2"/><circle cx="1059.2" cy="682.5" r="2.2"/><circle cx="1061.9" cy="679.2" r="2.2"/><circle cx="1059.7" cy="686.7" r="2.2"/><circle cx="1062.5" cy="686.5" r="2.2"/><circle cx="1061.2" cy="688.5" r="2.2"/><circle cx="1060.5" cy="677.5" r="2.2"/><circle cx="1064.6" cy="687.1" r="2.2"/><circle cx="1061.2" cy="683.8" r="2.2"/><circle cx="1081.7" cy="682.3" r="2.2"/><circle cx="1079.7" cy="689.2" r="2.2"/><circle cx="1074.1" cy="684.4" r="2.2"/><circle cx="1084.2" cy="683.3" r="2.2"/><circle cx="1073.8" cy="679.5" r="2.2"/><circle cx="1077.9" cy="678.7" r="2.2"/><circle cx="1081.6" cy="679.7" r="2.2"/><circle cx="1077.4" cy="683.7" r="2.2"/><circle cx="1075.0" cy="686.6" r="2.2"/><circle cx="1079.1" cy="686.0" r="2.2"/><circle cx="1085.0" cy="684.6" r="2.2"/><circle cx="1077.5" cy="680.9" r="2.2"/><circle cx="1084.9" cy="679.2" r="2.2"/><circle cx="1097.4" cy="676.5" r="2.2"/><circle cx="1106.8" cy="686.9" r="2.2"/><circle cx="1106.8" cy="689.1" r="2.2"/><circle cx="1121.7" cy="677.0" r="2.2"/><circle cx="1121.7" cy="679.7" r="2.2"/><circle cx="1127.5" cy="677.0" r="2.2"/><circle cx="1127.5" cy="678.8" r="2.2"/><circle cx="1173.8" cy="679.7" r="2.2"/><circle cx="1181.4" cy="688.7" r="2.2"/><circle cx="1186.4" cy="679.2" r="2.2"/><circle cx="1292.8" cy="679.5" r="2.2"/><circle cx="1103.2" cy="675.2" r="2.2"/><circle cx="1103.2" cy="678.4" r="2.2"/><circle cx="1103.2" cy="681.5" r="2.2"/><circle cx="1113.0" cy="682.6" r="2.2"/><circle cx="1114.7" cy="679.9" r="2.2"/><circle cx="1112.8" cy="685.5" r="2.2"/><circle cx="1114.0" cy="678.4" r="2.2"/><circle cx="1116.1" cy="686.8" r="2.2"/><circle cx="1115.7" cy="684.5" r="2.2"/><circle cx="1111.8" cy="687.4" r="2.2"/><circle cx="1111.5" cy="682.0" r="2.2"/><circle cx="1111.6" cy="678.9" r="2.2"/><circle cx="1116.4" cy="682.0" r="2.2"/><circle cx="1136.8" cy="686.6" r="2.2"/><circle cx="1138.1" cy="680.3" r="2.2"/><circle cx="1137.1" cy="683.4" r="2.2"/><circle cx="1135.1" cy="680.6" r="2.2"/><circle cx="1135.1" cy="684.8" r="2.2"/><circle cx="1136.2" cy="681.7" r="2.2"/><circle cx="1149.5" cy="676.1" r="2.2"/><circle cx="1149.5" cy="679.4" r="2.2"/><circle cx="1149.5" cy="682.7" r="2.2"/><circle cx="1149.5" cy="686.0" r="2.2"/><line x1="895.7" y1="691.50" x2="1336.0" y2="691.50" stroke="#808080" stroke-width="1.3"/><line x1="895.7" y1="372.00" x2="1336.0" y2="372.00" stroke="#808080" stroke-width="1.3"/><polyline points="895.7,357.0 895.7,707.5 1340.0,707.5" fill="none" stroke="#000" stroke-width="1.75" stroke-linejoin="round" stroke-linecap="round"/><line x1="890.7" y1="691.50" x2="895.7" y2="691.50" stroke="#333" stroke-width="1.5"/><line x1="890.7" y1="611.62" x2="895.7" y2="611.62" stroke="#333" stroke-width="1.5"/><line x1="890.7" y1="531.75" x2="895.7" y2="531.75" stroke="#333" stroke-width="1.5"/><line x1="890.7" y1="451.88" x2="895.7" y2="451.88" stroke="#333" stroke-width="1.5"/><line x1="890.7" y1="372.00" x2="895.7" y2="372.00" stroke="#333" stroke-width="1.5"/><line x1="915.60" y1="707.5" x2="915.60" y2="712.5" stroke="#333" stroke-width="1.5"/><line x1="1015.60" y1="707.5" x2="1015.60" y2="712.5" stroke="#333" stroke-width="1.5"/><line x1="1115.60" y1="707.5" x2="1115.60" y2="712.5" stroke="#333" stroke-width="1.5"/><line x1="1215.60" y1="707.5" x2="1215.60" y2="712.5" stroke="#333" stroke-width="1.5"/><line x1="1315.60" y1="707.5" x2="1315.60" y2="712.5" stroke="#333" stroke-width="1.5"/><text x="0" y="0" font-size="21.5" fill="#000" text-anchor="middle" transform="translate(915.60,412.35) scale(0.93,1)">B</text><polygon points="92.40,968.55 96.22,968.05 100.03,967.55 103.85,967.03 107.67,966.50 111.48,965.97 115.30,965.42 119.12,964.87 122.93,964.30 126.75,963.72 130.57,963.14 134.38,962.54 138.20,961.93 142.02,961.30 145.83,960.66 149.65,960.01 153.47,959.35 157.28,958.67 161.10,957.98 164.92,957.27 168.74,956.54 172.55,955.80 176.37,955.04 180.19,954.25 184.00,953.45 187.82,952.62 191.64,951.77 195.45,950.89 199.27,949.99 203.09,949.05 206.90,948.08 210.72,947.07 214.54,946.02 218.35,944.93 222.17,943.80 225.99,942.61 229.80,941.36 233.62,940.06 237.44,938.69 241.25,937.26 245.07,935.76 248.89,934.18 252.70,932.53 256.52,930.80 260.34,928.99 264.15,927.10 267.97,925.14 271.79,923.09 275.60,920.97 279.42,918.78 283.24,916.51 287.05,914.18 290.87,911.77 294.69,909.30 298.50,906.77 302.32,904.18 306.14,901.53 309.95,898.83 313.77,896.08 317.59,893.28 321.40,890.43 325.22,887.55 329.04,884.63 332.86,881.67 336.67,878.68 340.49,875.67 344.31,872.63 348.12,869.58 351.94,866.50 355.76,863.42 359.57,860.32 363.39,857.22 367.21,854.12 371.02,851.03 374.84,847.94 378.66,844.85 382.47,841.79 386.29,838.73 390.11,835.70 393.92,832.69 397.74,829.71 397.74,906.93 393.92,908.13 390.11,909.32 386.29,910.51 382.47,911.69 378.66,912.86 374.84,914.03 371.02,915.19 367.21,916.35 363.39,917.50 359.57,918.65 355.76,919.79 351.94,920.92 348.12,922.05 344.31,923.17 340.49,924.29 336.67,925.41 332.86,926.52 329.04,927.62 325.22,928.73 321.40,929.83 317.59,930.92 313.77,932.02 309.95,933.11 306.14,934.21 302.32,935.30 298.50,936.40 294.69,937.50 290.87,938.61 287.05,939.71 283.24,940.83 279.42,941.95 275.60,943.08 271.79,944.22 267.97,945.37 264.15,946.54 260.34,947.71 256.52,948.90 252.70,950.10 248.89,951.31 245.07,952.53 241.25,953.75 237.44,954.98 233.62,956.22 229.80,957.45 225.99,958.67 222.17,959.89 218.35,961.10 214.54,962.29 210.72,963.47 206.90,964.62 203.09,965.75 199.27,966.86 195.45,967.95 191.64,969.00 187.82,970.03 184.00,971.03 180.19,972.00 176.37,972.94 172.55,973.86 168.74,974.74 164.92,975.59 161.10,976.42 157.28,977.22 153.47,977.99 149.65,978.73 145.83,979.44 142.02,980.13 138.20,980.79 134.38,981.43 130.57,982.04 126.75,982.63 122.93,983.19 119.12,983.74 115.30,984.26 111.48,984.76 107.67,985.24 103.85,985.70 100.03,986.14 96.22,986.56 92.40,986.97" fill="#EBEBEB"/><polyline points="92.40,968.55 96.22,968.05 100.03,967.55 103.85,967.03 107.67,966.50 111.48,965.97 115.30,965.42 119.12,964.87 122.93,964.30 126.75,963.72 130.57,963.14 134.38,962.54 138.20,961.93 142.02,961.30 145.83,960.66 149.65,960.01 153.47,959.35 157.28,958.67 161.10,957.98 164.92,957.27 168.74,956.54 172.55,955.80 176.37,955.04 180.19,954.25 184.00,953.45 187.82,952.62 191.64,951.77 195.45,950.89 199.27,949.99 203.09,949.05 206.90,948.08 210.72,947.07 214.54,946.02 218.35,944.93 222.17,943.80 225.99,942.61 229.80,941.36 233.62,940.06 237.44,938.69 241.25,937.26 245.07,935.76 248.89,934.18 252.70,932.53 256.52,930.80 260.34,928.99 264.15,927.10 267.97,925.14 271.79,923.09 275.60,920.97 279.42,918.78 283.24,916.51 287.05,914.18 290.87,911.77 294.69,909.30 298.50,906.77 302.32,904.18 306.14,901.53 309.95,898.83 313.77,896.08 317.59,893.28 321.40,890.43 325.22,887.55 329.04,884.63 332.86,881.67 336.67,878.68 340.49,875.67 344.31,872.63 348.12,869.58 351.94,866.50 355.76,863.42 359.57,860.32 363.39,857.22 367.21,854.12 371.02,851.03 374.84,847.94 378.66,844.85 382.47,841.79 386.29,838.73 390.11,835.70 393.92,832.69 397.74,829.71" fill="none" stroke="#BDBDBD" stroke-width="1.7" stroke-dasharray="7.6,6.8"/><polyline points="92.40,986.97 96.22,986.56 100.03,986.14 103.85,985.70 107.67,985.24 111.48,984.76 115.30,984.26 119.12,983.74 122.93,983.19 126.75,982.63 130.57,982.04 134.38,981.43 138.20,980.79 142.02,980.13 145.83,979.44 149.65,978.73 153.47,977.99 157.28,977.22 161.10,976.42 164.92,975.59 168.74,974.74 172.55,973.86 176.37,972.94 180.19,972.00 184.00,971.03 187.82,970.03 191.64,969.00 195.45,967.95 199.27,966.86 203.09,965.75 206.90,964.62 210.72,963.47 214.54,962.29 218.35,961.10 222.17,959.89 225.99,958.67 229.80,957.45 233.62,956.22 237.44,954.98 241.25,953.75 245.07,952.53 248.89,951.31 252.70,950.10 256.52,948.90 260.34,947.71 264.15,946.54 267.97,945.37 271.79,944.22 275.60,943.08 279.42,941.95 283.24,940.83 287.05,939.71 290.87,938.61 294.69,937.50 298.50,936.40 302.32,935.30 306.14,934.21 309.95,933.11 313.77,932.02 317.59,930.92 321.40,929.83 325.22,928.73 329.04,927.62 332.86,926.52 336.67,925.41 340.49,924.29 344.31,923.17 348.12,922.05 351.94,920.92 355.76,919.79 359.57,918.65 363.39,917.50 367.21,916.35 371.02,915.19 374.84,914.03 378.66,912.86 382.47,911.69 386.29,910.51 390.11,909.32 393.92,908.13 397.74,906.93" fill="none" stroke="#BDBDBD" stroke-width="1.7" stroke-dasharray="7.6,6.8"/><polyline points="92.40,980.13 96.22,979.63 100.03,979.12 103.85,978.59 107.67,978.04 111.48,977.48 115.30,976.91 119.12,976.31 122.93,975.70 126.75,975.07 130.57,974.43 134.38,973.76 138.20,973.08 142.02,972.37 145.83,971.65 149.65,970.91 153.47,970.14 157.28,969.36 161.10,968.55 164.92,967.73 168.74,966.88 172.55,966.01 176.37,965.11 180.19,964.19 184.00,963.25 187.82,962.28 191.64,961.29 195.45,960.28 199.27,959.24 203.09,958.17 206.90,957.08 210.72,955.96 214.54,954.82 218.35,953.64 222.17,952.45 225.99,951.22 229.80,949.96 233.62,948.68 237.44,947.37 241.25,946.03 245.07,944.67 248.89,943.27 252.70,941.85 256.52,940.39 260.34,938.91 264.15,937.40 267.97,935.86 271.79,934.29 275.60,932.70 279.42,931.07 283.24,929.42 287.05,927.74 290.87,926.03 294.69,924.29 298.50,922.52 302.32,920.73 306.14,918.91 309.95,917.07 313.77,915.19 317.59,913.30 321.40,911.38 325.22,909.43 329.04,907.46 332.86,905.47 336.67,903.46 340.49,901.42 344.31,899.37 348.12,897.29 351.94,895.20 355.76,893.09 359.57,890.96 363.39,888.82 367.21,886.66 371.02,884.48 374.84,882.30 378.66,880.10 382.47,877.89 386.29,875.68 390.11,873.45 393.92,871.22 397.74,868.98" fill="none" stroke="#000" stroke-width="1.6"/><circle cx="180.3" cy="726.5" r="2.2"/><circle cx="180.3" cy="728.3" r="2.2"/><circle cx="244.1" cy="728.8" r="2.2"/><circle cx="244.1" cy="734.6" r="2.2"/><circle cx="284.1" cy="735.5" r="2.2"/><circle cx="284.1" cy="737.3" r="2.2"/><circle cx="354.1" cy="732.4" r="2.2"/><circle cx="367.6" cy="727.4" r="2.2"/><circle cx="397.2" cy="734.6" r="2.2"/><circle cx="206.4" cy="731.5" r="2.2"/><circle cx="206.4" cy="735.3" r="2.2"/><circle cx="206.4" cy="739.1" r="2.2"/><circle cx="220.6" cy="728.3" r="2.2"/><circle cx="218.5" cy="730.6" r="2.2"/><circle cx="215.8" cy="734.2" r="2.2"/><circle cx="221.2" cy="734.2" r="2.2"/><circle cx="218.0" cy="738.2" r="2.2"/><circle cx="238.3" cy="726.5" r="2.2"/><circle cx="238.3" cy="729.8" r="2.2"/><circle cx="238.3" cy="733.0" r="2.2"/><circle cx="238.3" cy="736.3" r="2.2"/><circle cx="238.3" cy="739.6" r="2.2"/><circle cx="261.9" cy="737.9" r="2.2"/><circle cx="261.9" cy="727.0" r="2.2"/><circle cx="261.9" cy="734.7" r="2.2"/><circle cx="261.9" cy="731.5" r="2.2"/><circle cx="273.3" cy="726.5" r="2.2"/><circle cx="273.3" cy="729.1" r="2.2"/><circle cx="273.3" cy="731.7" r="2.2"/><circle cx="273.3" cy="734.4" r="2.2"/><circle cx="273.3" cy="737.0" r="2.2"/><circle cx="273.3" cy="739.6" r="2.2"/><circle cx="307.6" cy="732.9" r="2.2"/><circle cx="311.4" cy="730.2" r="2.2"/><circle cx="309.5" cy="735.4" r="2.2"/><circle cx="305.5" cy="737.0" r="2.2"/><circle cx="308.0" cy="737.9" r="2.2"/><circle cx="308.0" cy="730.0" r="2.2"/><circle cx="306.3" cy="731.6" r="2.2"/><circle cx="311.3" cy="735.2" r="2.2"/><circle cx="305.6" cy="729.9" r="2.2"/><circle cx="311.7" cy="732.8" r="2.2"/><circle cx="311.0" cy="738.4" r="2.2"/><circle cx="309.2" cy="733.2" r="2.2"/><circle cx="306.9" cy="735.7" r="2.2"/><circle cx="349.2" cy="728.8" r="2.2"/><circle cx="349.2" cy="732.1" r="2.2"/><circle cx="349.2" cy="735.4" r="2.2"/><circle cx="349.2" cy="738.7" r="2.2"/><circle cx="362.7" cy="728.8" r="2.2"/><circle cx="362.7" cy="731.5" r="2.2"/><circle cx="362.7" cy="734.2" r="2.2"/><circle cx="362.7" cy="736.9" r="2.2"/><circle cx="362.7" cy="739.6" r="2.2"/><circle cx="380.1" cy="730.5" r="2.2"/><circle cx="376.4" cy="732.3" r="2.2"/><circle cx="378.7" cy="737.3" r="2.2"/><circle cx="375.4" cy="729.3" r="2.2"/><circle cx="381.1" cy="732.2" r="2.2"/><circle cx="375.6" cy="737.2" r="2.2"/><circle cx="377.6" cy="734.2" r="2.2"/><circle cx="381.2" cy="729.1" r="2.2"/><circle cx="380.0" cy="734.8" r="2.2"/><circle cx="378.3" cy="728.5" r="2.2"/><circle cx="376.4" cy="736.4" r="2.2"/><circle cx="379.7" cy="732.9" r="2.2"/><circle cx="376.4" cy="730.3" r="2.2"/><circle cx="389.2" cy="730.6" r="2.2"/><circle cx="389.2" cy="733.8" r="2.2"/><circle cx="389.2" cy="736.9" r="2.2"/><circle cx="180.3" cy="984.6" r="2.2"/><circle cx="180.0" cy="991.4" r="2.2"/><circle cx="180.8" cy="988.1" r="2.2"/><circle cx="181.0" cy="983.1" r="2.2"/><circle cx="179.7" cy="987.4" r="2.2"/><circle cx="179.7" cy="989.6" r="2.2"/><circle cx="179.7" cy="986.0" r="2.2"/><circle cx="192.9" cy="982.3" r="2.2"/><circle cx="192.9" cy="988.2" r="2.2"/><circle cx="192.9" cy="990.9" r="2.2"/><circle cx="192.9" cy="993.6" r="2.2"/><circle cx="207.2" cy="993.9" r="2.2"/><circle cx="206.7" cy="983.9" r="2.2"/><circle cx="206.6" cy="981.1" r="2.2"/><circle cx="207.1" cy="989.2" r="2.2"/><circle cx="207.2" cy="982.1" r="2.2"/><circle cx="206.9" cy="986.8" r="2.2"/><circle cx="218.7" cy="995.0" r="2.2"/><circle cx="218.9" cy="985.1" r="2.2"/><circle cx="217.2" cy="988.2" r="2.2"/><circle cx="216.1" cy="993.2" r="2.2"/><circle cx="219.6" cy="990.7" r="2.2"/><circle cx="218.7" cy="982.5" r="2.2"/><circle cx="220.3" cy="987.9" r="2.2"/><circle cx="216.0" cy="986.0" r="2.2"/><circle cx="216.4" cy="981.4" r="2.2"/><circle cx="216.8" cy="991.0" r="2.2"/><circle cx="220.3" cy="993.3" r="2.2"/><circle cx="219.2" cy="981.1" r="2.2"/><circle cx="220.0" cy="982.5" r="2.2"/><circle cx="238.3" cy="982.8" r="2.2"/><circle cx="238.3" cy="989.1" r="2.2"/><circle cx="238.3" cy="993.6" r="2.2"/><circle cx="244.6" cy="982.8" r="2.2"/><circle cx="244.6" cy="986.4" r="2.2"/><circle cx="244.6" cy="990.0" r="2.2"/><circle cx="244.6" cy="993.6" r="2.2"/><circle cx="262.0" cy="989.4" r="2.2"/><circle cx="261.8" cy="982.9" r="2.2"/><circle cx="261.6" cy="986.8" r="2.2"/><circle cx="261.6" cy="993.1" r="2.2"/><circle cx="261.8" cy="991.9" r="2.2"/><circle cx="273.8" cy="981.0" r="2.2"/><circle cx="273.8" cy="984.8" r="2.2"/><circle cx="273.8" cy="988.6" r="2.2"/><circle cx="273.8" cy="992.5" r="2.2"/><circle cx="273.8" cy="996.3" r="2.2"/><circle cx="308.4" cy="989.8" r="2.2"/><circle cx="305.1" cy="985.7" r="2.2"/><circle cx="305.2" cy="994.2" r="2.2"/><circle cx="310.2" cy="984.6" r="2.2"/><circle cx="307.5" cy="982.0" r="2.2"/><circle cx="311.2" cy="981.9" r="2.2"/><circle cx="311.6" cy="993.0" r="2.2"/><circle cx="308.5" cy="993.7" r="2.2"/><circle cx="311.7" cy="989.6" r="2.2"/><circle cx="309.3" cy="988.0" r="2.2"/><circle cx="307.5" cy="987.3" r="2.2"/><circle cx="306.0" cy="991.1" r="2.2"/><circle cx="310.8" cy="991.7" r="2.2"/><circle cx="307.2" cy="992.4" r="2.2"/><circle cx="311.1" cy="988.1" r="2.2"/><circle cx="308.3" cy="982.9" r="2.2"/><circle cx="306.0" cy="987.7" r="2.2"/><circle cx="305.2" cy="989.6" r="2.2"/><circle cx="308.8" cy="985.7" r="2.2"/><circle cx="311.6" cy="985.0" r="2.2"/><circle cx="309.7" cy="986.5" r="2.2"/><circle cx="305.7" cy="983.0" r="2.2"/><circle cx="306.7" cy="983.4" r="2.2"/><circle cx="309.1" cy="984.3" r="2.2"/><circle cx="320.9" cy="981.9" r="2.2"/><circle cx="320.9" cy="984.6" r="2.2"/><circle cx="318.6" cy="988.6" r="2.2"/><circle cx="320.9" cy="992.7" r="2.2"/><circle cx="320.9" cy="995.4" r="2.2"/><circle cx="343.8" cy="990.4" r="2.2"/><circle cx="343.8" cy="993.6" r="2.2"/><circle cx="349.2" cy="983.7" r="2.2"/><circle cx="349.2" cy="986.9" r="2.2"/><circle cx="349.2" cy="990.0" r="2.2"/><circle cx="349.2" cy="993.1" r="2.2"/><circle cx="349.2" cy="996.3" r="2.2"/><circle cx="362.7" cy="981.9" r="2.2"/><circle cx="362.7" cy="984.6" r="2.2"/><circle cx="362.7" cy="987.3" r="2.2"/><circle cx="362.7" cy="990.0" r="2.2"/><circle cx="362.7" cy="992.7" r="2.2"/><circle cx="376.0" cy="987.5" r="2.2"/><circle cx="380.1" cy="988.6" r="2.2"/><circle cx="376.3" cy="992.3" r="2.2"/><circle cx="378.3" cy="985.8" r="2.2"/><circle cx="379.3" cy="991.5" r="2.2"/><circle cx="376.8" cy="989.7" r="2.2"/><circle cx="375.6" cy="985.2" r="2.2"/><circle cx="381.8" cy="987.7" r="2.2"/><circle cx="381.4" cy="989.2" r="2.2"/><circle cx="380.4" cy="985.9" r="2.2"/><circle cx="389.2" cy="981.9" r="2.2"/><circle cx="389.2" cy="986.1" r="2.2"/><circle cx="389.2" cy="990.3" r="2.2"/><circle cx="389.2" cy="994.5" r="2.2"/><line x1="75.5" y1="995.80" x2="450.6" y2="995.80" stroke="#808080" stroke-width="1.3"/><line x1="75.5" y1="726.00" x2="450.6" y2="726.00" stroke="#808080" stroke-width="1.3"/><polyline points="75.5,713.6 75.5,1009.2 444.6,1009.2" fill="none" stroke="#000" stroke-width="1.75" stroke-linejoin="round" stroke-linecap="round"/><line x1="70.5" y1="995.80" x2="75.5" y2="995.80" stroke="#333" stroke-width="1.5"/><line x1="70.5" y1="928.35" x2="75.5" y2="928.35" stroke="#333" stroke-width="1.5"/><line x1="70.5" y1="860.90" x2="75.5" y2="860.90" stroke="#333" stroke-width="1.5"/><line x1="70.5" y1="793.45" x2="75.5" y2="793.45" stroke="#333" stroke-width="1.5"/><line x1="70.5" y1="726.00" x2="75.5" y2="726.00" stroke="#333" stroke-width="1.5"/><line x1="92.40" y1="1009.2" x2="92.40" y2="1014.2" stroke="#333" stroke-width="1.5"/><line x1="176.40" y1="1009.2" x2="176.40" y2="1014.2" stroke="#333" stroke-width="1.5"/><line x1="260.40" y1="1009.2" x2="260.40" y2="1014.2" stroke="#333" stroke-width="1.5"/><line x1="344.40" y1="1009.2" x2="344.40" y2="1014.2" stroke="#333" stroke-width="1.5"/><line x1="428.40" y1="1009.2" x2="428.40" y2="1014.2" stroke="#333" stroke-width="1.5"/><text x="0" y="0" font-size="21.5" fill="#000" text-anchor="middle" transform="translate(92.40,761.38) scale(0.93,1)">C</text><polygon points="495.30,942.80 499.73,940.65 504.15,938.42 508.58,936.12 513.00,933.75 517.42,931.29 521.85,928.76 526.27,926.16 530.70,923.46 535.12,920.69 539.55,917.83 543.98,914.89 548.40,911.85 552.83,908.73 557.25,905.51 561.67,902.20 566.10,898.79 570.52,895.27 574.95,891.66 579.38,887.94 583.80,884.12 588.23,880.19 592.65,876.16 597.08,872.02 601.50,867.78 605.92,863.46 610.35,859.04 614.77,854.55 619.20,850.00 623.62,845.40 628.05,840.77 632.48,836.12 636.90,831.47 641.33,826.84 645.75,822.24 650.17,817.70 654.60,813.22 659.02,808.83 663.45,804.53 667.88,800.34 672.30,796.27 676.73,792.32 681.15,788.51 685.58,784.85 690.00,781.32 694.42,777.95 698.85,774.72 703.27,771.64 707.70,768.72 712.12,765.94 716.55,763.31 720.98,760.82 725.40,758.46 729.83,756.25 734.25,754.16 738.67,752.20 743.10,750.36 747.53,748.64 751.95,747.02 756.38,745.51 760.80,744.10 765.23,742.79 769.65,741.56 774.08,740.42 778.50,739.35 782.92,738.36 787.35,737.44 791.78,736.58 796.20,735.79 800.62,735.05 805.05,734.37 809.48,733.74 813.90,733.15 818.33,732.60 822.75,732.10 827.17,731.63 831.60,731.20 836.03,730.80 840.45,730.43 844.88,730.09 849.30,729.78 849.30,751.05 844.88,752.16 840.45,753.32 836.03,754.52 831.60,755.77 827.17,757.06 822.75,758.41 818.33,759.81 813.90,761.26 809.48,762.76 805.05,764.32 800.62,765.93 796.20,767.60 791.78,769.33 787.35,771.12 782.92,772.96 778.50,774.87 774.08,776.84 769.65,778.88 765.23,780.97 760.80,783.14 756.38,785.36 751.95,787.65 747.53,790.01 743.10,792.43 738.67,794.92 734.25,797.47 729.83,800.09 725.40,802.77 720.98,805.52 716.55,808.33 712.12,811.21 707.70,814.15 703.27,817.15 698.85,820.21 694.42,823.33 690.00,826.51 685.58,829.76 681.15,833.05 676.73,836.41 672.30,839.82 667.88,843.28 663.45,846.80 659.02,850.37 654.60,853.99 650.17,857.66 645.75,861.38 641.33,865.15 636.90,868.96 632.48,872.82 628.05,876.72 623.62,880.66 619.20,884.64 614.77,888.64 610.35,892.67 605.92,896.71 601.50,900.76 597.08,904.80 592.65,908.82 588.23,912.81 583.80,916.76 579.38,920.65 574.95,924.47 570.52,928.21 566.10,931.85 561.67,935.39 557.25,938.82 552.83,942.14 548.40,945.32 543.98,948.38 539.55,951.31 535.12,954.11 530.70,956.77 526.27,959.30 521.85,961.70 517.42,963.97 513.00,966.12 508.58,968.14 504.15,970.04 499.73,971.84 495.30,973.52" fill="#EBEBEB"/><polyline points="495.30,942.80 499.73,940.65 504.15,938.42 508.58,936.12 513.00,933.75 517.42,931.29 521.85,928.76 526.27,926.16 530.70,923.46 535.12,920.69 539.55,917.83 543.98,914.89 548.40,911.85 552.83,908.73 557.25,905.51 561.67,902.20 566.10,898.79 570.52,895.27 574.95,891.66 579.38,887.94 583.80,884.12 588.23,880.19 592.65,876.16 597.08,872.02 601.50,867.78 605.92,863.46 610.35,859.04 614.77,854.55 619.20,850.00 623.62,845.40 628.05,840.77 632.48,836.12 636.90,831.47 641.33,826.84 645.75,822.24 650.17,817.70 654.60,813.22 659.02,808.83 663.45,804.53 667.88,800.34 672.30,796.27 676.73,792.32 681.15,788.51 685.58,784.85 690.00,781.32 694.42,777.95 698.85,774.72 703.27,771.64 707.70,768.72 712.12,765.94 716.55,763.31 720.98,760.82 725.40,758.46 729.83,756.25 734.25,754.16 738.67,752.20 743.10,750.36 747.53,748.64 751.95,747.02 756.38,745.51 760.80,744.10 765.23,742.79 769.65,741.56 774.08,740.42 778.50,739.35 782.92,738.36 787.35,737.44 791.78,736.58 796.20,735.79 800.62,735.05 805.05,734.37 809.48,733.74 813.90,733.15 818.33,732.60 822.75,732.10 827.17,731.63 831.60,731.20 836.03,730.80 840.45,730.43 844.88,730.09 849.30,729.78" fill="none" stroke="#BDBDBD" stroke-width="1.7" stroke-dasharray="7.6,6.8"/><polyline points="495.30,973.52 499.73,971.84 504.15,970.04 508.58,968.14 513.00,966.12 517.42,963.97 521.85,961.70 526.27,959.30 530.70,956.77 535.12,954.11 539.55,951.31 543.98,948.38 548.40,945.32 552.83,942.14 557.25,938.82 561.67,935.39 566.10,931.85 570.52,928.21 574.95,924.47 579.38,920.65 583.80,916.76 588.23,912.81 592.65,908.82 597.08,904.80 601.50,900.76 605.92,896.71 610.35,892.67 614.77,888.64 619.20,884.64 623.62,880.66 628.05,876.72 632.48,872.82 636.90,868.96 641.33,865.15 645.75,861.38 650.17,857.66 654.60,853.99 659.02,850.37 663.45,846.80 667.88,843.28 672.30,839.82 676.73,836.41 681.15,833.05 685.58,829.76 690.00,826.51 694.42,823.33 698.85,820.21 703.27,817.15 707.70,814.15 712.12,811.21 716.55,808.33 720.98,805.52 725.40,802.77 729.83,800.09 734.25,797.47 738.67,794.92 743.10,792.43 747.53,790.01 751.95,787.65 756.38,785.36 760.80,783.14 765.23,780.97 769.65,778.88 774.08,776.84 778.50,774.87 782.92,772.96 787.35,771.12 791.78,769.33 796.20,767.60 800.62,765.93 805.05,764.32 809.48,762.76 813.90,761.26 818.33,759.81 822.75,758.41 827.17,757.06 831.60,755.77 836.03,754.52 840.45,753.32 844.88,752.16 849.30,751.05" fill="none" stroke="#BDBDBD" stroke-width="1.7" stroke-dasharray="7.6,6.8"/><polyline points="495.30,960.95 499.73,958.93 504.15,956.83 508.58,954.62 513.00,952.31 517.42,949.90 521.85,947.38 526.27,944.76 530.70,942.03 535.12,939.19 539.55,936.24 543.98,933.18 548.40,930.02 552.83,926.75 557.25,923.37 561.67,919.89 566.10,916.32 570.52,912.64 574.95,908.88 579.38,905.02 583.80,901.08 588.23,897.07 592.65,892.99 597.08,888.84 601.50,884.64 605.92,880.39 610.35,876.10 614.77,871.77 619.20,867.43 623.62,863.07 628.05,858.71 632.48,854.35 636.90,850.00 641.33,845.68 645.75,841.39 650.17,837.14 654.60,832.94 659.02,828.79 663.45,824.71 667.88,820.70 672.30,816.76 676.73,812.91 681.15,809.14 685.58,805.46 690.00,801.89 694.42,798.41 698.85,795.03 703.27,791.76 707.70,788.60 712.12,785.54 716.55,782.60 720.98,779.76 725.40,777.03 729.83,774.40 734.25,771.89 738.67,769.48 743.10,767.17 747.53,764.96 751.95,762.85 756.38,760.84 760.80,758.93 765.23,757.10 769.65,755.37 774.08,753.72 778.50,752.15 782.92,750.66 787.35,749.25 791.78,747.91 796.20,746.64 800.62,745.44 805.05,744.31 809.48,743.23 813.90,742.22 818.33,741.26 822.75,740.36 827.17,739.50 831.60,738.70 836.03,737.94 840.45,737.22 844.88,736.54 849.30,735.91" fill="none" stroke="#000" stroke-width="1.6"/><circle cx="566.7" cy="726.5" r="2.2"/><circle cx="566.7" cy="729.5" r="2.2"/><circle cx="566.7" cy="732.4" r="2.2"/><circle cx="566.7" cy="737.3" r="2.2"/><circle cx="661.9" cy="727.9" r="2.2"/><circle cx="690.2" cy="728.3" r="2.2"/><circle cx="697.8" cy="726.1" r="2.2"/><circle cx="697.8" cy="730.1" r="2.2"/><circle cx="761.6" cy="727.4" r="2.2"/><circle cx="852.2" cy="739.1" r="2.2"/><circle cx="599.0" cy="726.0" r="2.2"/><circle cx="599.0" cy="728.8" r="2.2"/><circle cx="599.0" cy="731.6" r="2.2"/><circle cx="599.0" cy="734.5" r="2.2"/><circle cx="599.0" cy="737.3" r="2.2"/><circle cx="611.1" cy="727.2" r="2.2"/><circle cx="614.6" cy="733.1" r="2.2"/><circle cx="606.7" cy="734.3" r="2.2"/><circle cx="614.0" cy="737.3" r="2.2"/><circle cx="608.4" cy="738.3" r="2.2"/><circle cx="611.9" cy="733.7" r="2.2"/><circle cx="613.9" cy="727.4" r="2.2"/><circle cx="608.0" cy="728.7" r="2.2"/><circle cx="610.2" cy="732.1" r="2.2"/><circle cx="609.2" cy="728.2" r="2.2"/><circle cx="607.7" cy="736.4" r="2.2"/><circle cx="608.0" cy="733.0" r="2.2"/><circle cx="606.1" cy="739.0" r="2.2"/><circle cx="642.7" cy="729.6" r="2.2"/><circle cx="640.4" cy="734.5" r="2.2"/><circle cx="641.4" cy="730.9" r="2.2"/><circle cx="641.9" cy="737.1" r="2.2"/><circle cx="642.4" cy="734.0" r="2.2"/><circle cx="640.2" cy="737.5" r="2.2"/><circle cx="651.2" cy="734.9" r="2.2"/><circle cx="651.2" cy="727.1" r="2.2"/><circle cx="650.7" cy="732.9" r="2.2"/><circle cx="650.6" cy="729.6" r="2.2"/><circle cx="651.2" cy="731.1" r="2.2"/><circle cx="668.7" cy="727.0" r="2.2"/><circle cx="668.7" cy="729.5" r="2.2"/><circle cx="668.7" cy="732.1" r="2.2"/><circle cx="668.7" cy="734.6" r="2.2"/><circle cx="687.5" cy="732.0" r="2.2"/><circle cx="687.5" cy="734.2" r="2.2"/><circle cx="687.5" cy="736.4" r="2.2"/><circle cx="724.7" cy="727.9" r="2.2"/><circle cx="724.7" cy="730.7" r="2.2"/><circle cx="724.7" cy="733.5" r="2.2"/><circle cx="724.7" cy="736.3" r="2.2"/><circle cx="724.7" cy="739.1" r="2.2"/><circle cx="745.9" cy="726.1" r="2.2"/><circle cx="745.9" cy="728.6" r="2.2"/><circle cx="745.9" cy="731.0" r="2.2"/><circle cx="745.9" cy="733.5" r="2.2"/><circle cx="745.9" cy="736.0" r="2.2"/><circle cx="752.2" cy="732.4" r="2.2"/><circle cx="752.2" cy="734.8" r="2.2"/><circle cx="752.2" cy="737.3" r="2.2"/><circle cx="774.6" cy="730.4" r="2.2"/><circle cx="774.7" cy="727.2" r="2.2"/><circle cx="773.5" cy="728.7" r="2.2"/><circle cx="773.0" cy="735.4" r="2.2"/><circle cx="775.1" cy="732.4" r="2.2"/><circle cx="774.6" cy="734.7" r="2.2"/><circle cx="774.8" cy="735.9" r="2.2"/><circle cx="773.9" cy="731.2" r="2.2"/><circle cx="773.0" cy="730.7" r="2.2"/><circle cx="775.2" cy="728.5" r="2.2"/><circle cx="783.9" cy="726.0" r="2.2"/><circle cx="783.9" cy="729.3" r="2.2"/><circle cx="783.9" cy="732.7" r="2.2"/><circle cx="783.9" cy="736.0" r="2.2"/><circle cx="806.9" cy="736.9" r="2.2"/><circle cx="806.5" cy="727.8" r="2.2"/><circle cx="806.6" cy="730.3" r="2.2"/><circle cx="806.2" cy="734.8" r="2.2"/><circle cx="805.1" cy="732.2" r="2.2"/><circle cx="805.5" cy="738.2" r="2.2"/><circle cx="805.3" cy="734.3" r="2.2"/><circle cx="806.6" cy="732.6" r="2.2"/><circle cx="806.8" cy="734.6" r="2.2"/><circle cx="804.7" cy="736.7" r="2.2"/><circle cx="807.1" cy="738.2" r="2.2"/><circle cx="804.5" cy="729.5" r="2.2"/><circle cx="804.6" cy="728.0" r="2.2"/><circle cx="812.9" cy="737.3" r="2.2"/><circle cx="812.9" cy="726.6" r="2.2"/><circle cx="812.8" cy="734.3" r="2.2"/><circle cx="812.8" cy="732.6" r="2.2"/><circle cx="812.8" cy="728.8" r="2.2"/><circle cx="812.7" cy="735.2" r="2.2"/><circle cx="819.4" cy="730.6" r="2.2"/><circle cx="819.4" cy="733.3" r="2.2"/><circle cx="819.4" cy="736.0" r="2.2"/><circle cx="819.4" cy="738.7" r="2.2"/><circle cx="834.1" cy="734.8" r="2.2"/><circle cx="835.0" cy="728.8" r="2.2"/><circle cx="830.4" cy="736.3" r="2.2"/><circle cx="831.7" cy="727.1" r="2.2"/><circle cx="830.7" cy="730.9" r="2.2"/><circle cx="833.5" cy="730.8" r="2.2"/><circle cx="833.6" cy="728.7" r="2.2"/><circle cx="522.1" cy="990.9" r="2.2"/><circle cx="567.0" cy="983.2" r="2.2"/><circle cx="643.5" cy="982.8" r="2.2"/><circle cx="643.5" cy="988.2" r="2.2"/><circle cx="643.5" cy="995.4" r="2.2"/><circle cx="649.8" cy="985.5" r="2.2"/><circle cx="649.8" cy="991.3" r="2.2"/><circle cx="668.5" cy="989.7" r="2.2"/><circle cx="687.5" cy="982.8" r="2.2"/><circle cx="687.5" cy="985.5" r="2.2"/><circle cx="689.7" cy="993.1" r="2.2"/><circle cx="687.5" cy="994.9" r="2.2"/><circle cx="697.8" cy="988.6" r="2.2"/><circle cx="697.8" cy="990.4" r="2.2"/><circle cx="725.1" cy="990.4" r="2.2"/><circle cx="775.9" cy="984.6" r="2.2"/><circle cx="775.9" cy="991.9" r="2.2"/><circle cx="772.0" cy="994.3" r="2.2"/><circle cx="812.9" cy="988.6" r="2.2"/><circle cx="852.2" cy="992.5" r="2.2"/><circle cx="567.0" cy="991.3" r="2.2"/><circle cx="567.0" cy="993.5" r="2.2"/><circle cx="567.0" cy="995.8" r="2.2"/><circle cx="599.4" cy="984.6" r="2.2"/><circle cx="599.4" cy="987.9" r="2.2"/><circle cx="599.4" cy="991.2" r="2.2"/><circle cx="599.4" cy="994.5" r="2.2"/><circle cx="614.7" cy="983.0" r="2.2"/><circle cx="607.8" cy="993.6" r="2.2"/><circle cx="607.5" cy="986.2" r="2.2"/><circle cx="613.1" cy="988.5" r="2.2"/><circle cx="607.6" cy="990.9" r="2.2"/><circle cx="608.0" cy="981.6" r="2.2"/><circle cx="610.8" cy="989.9" r="2.2"/><circle cx="611.0" cy="986.7" r="2.2"/><circle cx="612.7" cy="993.1" r="2.2"/><circle cx="609.6" cy="983.3" r="2.2"/><circle cx="607.3" cy="988.8" r="2.2"/><circle cx="611.2" cy="991.3" r="2.2"/><circle cx="612.0" cy="984.5" r="2.2"/><circle cx="610.9" cy="982.0" r="2.2"/><circle cx="614.4" cy="985.7" r="2.2"/><circle cx="611.1" cy="994.1" r="2.2"/><circle cx="606.5" cy="982.8" r="2.2"/><circle cx="608.9" cy="988.2" r="2.2"/><circle cx="614.9" cy="981.7" r="2.2"/><circle cx="614.7" cy="990.7" r="2.2"/><line x1="450.3" y1="995.80" x2="896.0" y2="995.80" stroke="#808080" stroke-width="1.3"/><line x1="450.3" y1="726.00" x2="896.0" y2="726.00" stroke="#808080" stroke-width="1.3"/><polyline points="450.3,713.6 450.3,1009.2 890.0,1009.2" fill="none" stroke="#000" stroke-width="1.75" stroke-linejoin="round" stroke-linecap="round"/><line x1="445.3" y1="995.80" x2="450.3" y2="995.80" stroke="#333" stroke-width="1.5"/><line x1="445.3" y1="928.35" x2="450.3" y2="928.35" stroke="#333" stroke-width="1.5"/><line x1="445.3" y1="860.90" x2="450.3" y2="860.90" stroke="#333" stroke-width="1.5"/><line x1="445.3" y1="793.45" x2="450.3" y2="793.45" stroke="#333" stroke-width="1.5"/><line x1="445.3" y1="726.00" x2="450.3" y2="726.00" stroke="#333" stroke-width="1.5"/><line x1="470.30" y1="1009.2" x2="470.30" y2="1014.2" stroke="#333" stroke-width="1.5"/><line x1="570.30" y1="1009.2" x2="570.30" y2="1014.2" stroke="#333" stroke-width="1.5"/><line x1="670.30" y1="1009.2" x2="670.30" y2="1014.2" stroke="#333" stroke-width="1.5"/><line x1="770.30" y1="1009.2" x2="770.30" y2="1014.2" stroke="#333" stroke-width="1.5"/><line x1="870.30" y1="1009.2" x2="870.30" y2="1014.2" stroke="#333" stroke-width="1.5"/><text x="0" y="0" font-size="21.5" fill="#000" text-anchor="middle" transform="translate(470.30,761.38) scale(0.93,1)">C</text><polygon points="966.00,942.96 970.35,940.52 974.69,937.99 979.04,935.36 983.38,932.64 987.73,929.81 992.07,926.88 996.41,923.85 1000.76,920.70 1005.11,917.43 1009.45,914.05 1013.80,910.53 1018.14,906.89 1022.49,903.10 1026.83,899.17 1031.17,895.09 1035.52,890.85 1039.87,886.46 1044.21,881.91 1048.56,877.22 1052.90,872.38 1057.25,867.43 1061.59,862.37 1065.93,857.22 1070.28,852.02 1074.62,846.77 1078.97,841.52 1083.32,836.27 1087.66,831.07 1092.01,825.92 1096.35,820.84 1100.69,815.87 1105.04,811.00 1109.38,806.27 1113.73,801.67 1118.08,797.23 1122.42,792.95 1126.77,788.83 1131.11,784.89 1135.45,781.12 1139.80,777.53 1144.14,774.11 1148.49,770.87 1152.84,767.81 1157.18,764.91 1161.53,762.18 1165.87,759.62 1170.21,757.20 1174.56,754.94 1178.90,752.83 1183.25,750.85 1187.60,749.00 1191.94,747.28 1196.29,745.67 1200.63,744.18 1204.98,742.79 1209.32,741.50 1213.66,740.30 1218.01,739.19 1222.36,738.17 1226.70,737.22 1231.05,736.34 1235.39,735.52 1239.74,734.77 1244.08,734.08 1248.43,733.43 1252.77,732.84 1257.12,732.30 1261.46,731.79 1265.81,731.33 1270.15,730.90 1274.50,730.51 1278.84,730.15 1283.18,729.81 1287.53,729.50 1291.88,729.22 1296.22,728.96 1300.57,728.72 1304.91,728.50 1309.26,728.30 1313.60,728.11 1313.60,740.70 1309.26,741.47 1304.91,742.28 1300.57,743.14 1296.22,744.03 1291.88,744.96 1287.53,745.95 1283.18,746.97 1278.84,748.05 1274.50,749.17 1270.15,750.35 1265.81,751.59 1261.46,752.87 1257.12,754.22 1252.77,755.62 1248.43,757.09 1244.08,758.62 1239.74,760.22 1235.39,761.88 1231.05,763.61 1226.70,765.41 1222.36,767.28 1218.01,769.22 1213.66,771.24 1209.32,773.34 1204.98,775.51 1200.63,777.76 1196.29,780.08 1191.94,782.49 1187.60,784.98 1183.25,787.54 1178.90,790.19 1174.56,792.92 1170.21,795.72 1165.87,798.60 1161.53,801.56 1157.18,804.60 1152.84,807.72 1148.49,810.90 1144.14,814.16 1139.80,817.49 1135.45,820.88 1131.11,824.34 1126.77,827.86 1122.42,831.44 1118.08,835.08 1113.73,838.77 1109.38,842.51 1105.04,846.30 1100.69,850.13 1096.35,854.01 1092.01,857.92 1087.66,861.87 1083.32,865.86 1078.97,869.88 1074.62,873.93 1070.28,878.01 1065.93,882.13 1061.59,886.27 1057.25,890.44 1052.90,894.64 1048.56,898.85 1044.21,903.07 1039.87,907.30 1035.52,911.50 1031.17,915.68 1026.83,919.80 1022.49,923.87 1018.14,927.84 1013.80,931.72 1009.45,935.49 1005.11,939.13 1000.76,942.63 996.41,946.00 992.07,949.21 987.73,952.28 983.38,955.19 979.04,957.96 974.69,960.57 970.35,963.03 966.00,965.36" fill="#EBEBEB"/><polyline points="966.00,942.96 970.35,940.52 974.69,937.99 979.04,935.36 983.38,932.64 987.73,929.81 992.07,926.88 996.41,923.85 1000.76,920.70 1005.11,917.43 1009.45,914.05 1013.80,910.53 1018.14,906.89 1022.49,903.10 1026.83,899.17 1031.17,895.09 1035.52,890.85 1039.87,886.46 1044.21,881.91 1048.56,877.22 1052.90,872.38 1057.25,867.43 1061.59,862.37 1065.93,857.22 1070.28,852.02 1074.62,846.77 1078.97,841.52 1083.32,836.27 1087.66,831.07 1092.01,825.92 1096.35,820.84 1100.69,815.87 1105.04,811.00 1109.38,806.27 1113.73,801.67 1118.08,797.23 1122.42,792.95 1126.77,788.83 1131.11,784.89 1135.45,781.12 1139.80,777.53 1144.14,774.11 1148.49,770.87 1152.84,767.81 1157.18,764.91 1161.53,762.18 1165.87,759.62 1170.21,757.20 1174.56,754.94 1178.90,752.83 1183.25,750.85 1187.60,749.00 1191.94,747.28 1196.29,745.67 1200.63,744.18 1204.98,742.79 1209.32,741.50 1213.66,740.30 1218.01,739.19 1222.36,738.17 1226.70,737.22 1231.05,736.34 1235.39,735.52 1239.74,734.77 1244.08,734.08 1248.43,733.43 1252.77,732.84 1257.12,732.30 1261.46,731.79 1265.81,731.33 1270.15,730.90 1274.50,730.51 1278.84,730.15 1283.18,729.81 1287.53,729.50 1291.88,729.22 1296.22,728.96 1300.57,728.72 1304.91,728.50 1309.26,728.30 1313.60,728.11" fill="none" stroke="#BDBDBD" stroke-width="1.7" stroke-dasharray="7.6,6.8"/><polyline points="966.00,965.36 970.35,963.03 974.69,960.57 979.04,957.96 983.38,955.19 987.73,952.28 992.07,949.21 996.41,946.00 1000.76,942.63 1005.11,939.13 1009.45,935.49 1013.80,931.72 1018.14,927.84 1022.49,923.87 1026.83,919.80 1031.17,915.68 1035.52,911.50 1039.87,907.30 1044.21,903.07 1048.56,898.85 1052.90,894.64 1057.25,890.44 1061.59,886.27 1065.93,882.13 1070.28,878.01 1074.62,873.93 1078.97,869.88 1083.32,865.86 1087.66,861.87 1092.01,857.92 1096.35,854.01 1100.69,850.13 1105.04,846.30 1109.38,842.51 1113.73,838.77 1118.08,835.08 1122.42,831.44 1126.77,827.86 1131.11,824.34 1135.45,820.88 1139.80,817.49 1144.14,814.16 1148.49,810.90 1152.84,807.72 1157.18,804.60 1161.53,801.56 1165.87,798.60 1170.21,795.72 1174.56,792.92 1178.90,790.19 1183.25,787.54 1187.60,784.98 1191.94,782.49 1196.29,780.08 1200.63,777.76 1204.98,775.51 1209.32,773.34 1213.66,771.24 1218.01,769.22 1222.36,767.28 1226.70,765.41 1231.05,763.61 1235.39,761.88 1239.74,760.22 1244.08,758.62 1248.43,757.09 1252.77,755.62 1257.12,754.22 1261.46,752.87 1265.81,751.59 1270.15,750.35 1274.50,749.17 1278.84,748.05 1283.18,746.97 1287.53,745.95 1291.88,744.96 1296.22,744.03 1300.57,743.14 1304.91,742.28 1309.26,741.47 1313.60,740.70" fill="none" stroke="#BDBDBD" stroke-width="1.7" stroke-dasharray="7.6,6.8"/><polyline points="966.00,955.42 970.35,952.96 974.69,950.39 979.04,947.69 983.38,944.87 987.73,941.92 992.07,938.85 996.41,935.65 1000.76,932.32 1005.11,928.87 1009.45,925.29 1013.80,921.60 1018.14,917.78 1022.49,913.85 1026.83,909.82 1031.17,905.67 1035.52,901.44 1039.87,897.11 1044.21,892.70 1048.56,888.22 1052.90,883.67 1057.25,879.07 1061.59,874.43 1065.93,869.75 1070.28,865.05 1074.62,860.35 1078.97,855.64 1083.32,850.94 1087.66,846.28 1092.01,841.64 1096.35,837.05 1100.69,832.52 1105.04,828.05 1109.38,823.66 1113.73,819.36 1118.08,815.14 1122.42,811.02 1126.77,807.01 1131.11,803.11 1135.45,799.32 1139.80,795.65 1144.14,792.11 1148.49,788.69 1152.84,785.39 1157.18,782.22 1161.53,779.17 1165.87,776.26 1170.21,773.46 1174.56,770.79 1178.90,768.25 1183.25,765.82 1187.60,763.51 1191.94,761.31 1196.29,759.22 1200.63,757.24 1204.98,755.36 1209.32,753.58 1213.66,751.90 1218.01,750.31 1222.36,748.81 1226.70,747.40 1231.05,746.06 1235.39,744.80 1239.74,743.62 1244.08,742.50 1248.43,741.45 1252.77,740.47 1257.12,739.54 1261.46,738.67 1265.81,737.85 1270.15,737.09 1274.50,736.37 1278.84,735.69 1283.18,735.06 1287.53,734.47 1291.88,733.92 1296.22,733.40 1300.57,732.91 1304.91,732.46 1309.26,732.03 1313.60,731.63" fill="none" stroke="#000" stroke-width="1.6"/><circle cx="1015.7" cy="733.1" r="2.2"/><circle cx="1015.8" cy="735.7" r="2.2"/><circle cx="1016.1" cy="727.2" r="2.2"/><circle cx="1016.4" cy="737.9" r="2.2"/><circle cx="1016.2" cy="728.7" r="2.2"/><circle cx="1016.5" cy="729.9" r="2.2"/><circle cx="1032.0" cy="732.4" r="2.2"/><circle cx="1032.0" cy="736.0" r="2.2"/><circle cx="1033.8" cy="731.0" r="2.2"/><circle cx="1038.7" cy="727.4" r="2.2"/><circle cx="1039.6" cy="733.3" r="2.2"/><circle cx="1038.7" cy="737.8" r="2.2"/><circle cx="1049.5" cy="728.8" r="2.2"/><circle cx="1089.5" cy="727.4" r="2.2"/><circle cx="1089.5" cy="733.3" r="2.2"/><circle cx="1094.8" cy="734.2" r="2.2"/><circle cx="1099.3" cy="734.6" r="2.2"/><circle cx="1098.9" cy="727.4" r="2.2"/><circle cx="1098.9" cy="739.6" r="2.2"/><circle cx="1104.3" cy="727.4" r="2.2"/><circle cx="1111.0" cy="731.5" r="2.2"/><circle cx="1114.6" cy="728.8" r="2.2"/><circle cx="1111.0" cy="739.1" r="2.2"/><circle cx="1119.1" cy="738.7" r="2.2"/><circle cx="1121.8" cy="728.8" r="2.2"/><circle cx="1121.8" cy="735.1" r="2.2"/><circle cx="1127.1" cy="729.7" r="2.2"/><circle cx="1176.1" cy="727.4" r="2.2"/><circle cx="1190.9" cy="729.2" r="2.2"/><circle cx="1199.0" cy="731.5" r="2.2"/><circle cx="1199.0" cy="734.6" r="2.2"/><circle cx="1202.2" cy="738.7" r="2.2"/><circle cx="1205.7" cy="730.6" r="2.2"/><circle cx="1060.5" cy="732.5" r="2.2"/><circle cx="1064.2" cy="737.7" r="2.2"/><circle cx="1059.7" cy="736.9" r="2.2"/><circle cx="1064.9" cy="731.1" r="2.2"/><circle cx="1064.4" cy="734.4" r="2.2"/><circle cx="1057.8" cy="728.9" r="2.2"/><circle cx="1057.4" cy="735.5" r="2.2"/><circle cx="1060.5" cy="726.8" r="2.2"/><circle cx="1063.8" cy="728.1" r="2.2"/><circle cx="1058.1" cy="736.0" r="2.2"/><circle cx="1061.3" cy="728.8" r="2.2"/><circle cx="1059.9" cy="738.1" r="2.2"/><circle cx="1064.1" cy="738.7" r="2.2"/><circle cx="1057.8" cy="738.1" r="2.2"/><circle cx="1063.1" cy="732.5" r="2.2"/><circle cx="1059.7" cy="734.9" r="2.2"/><circle cx="1063.8" cy="734.9" r="2.2"/><circle cx="1061.9" cy="738.7" r="2.2"/><circle cx="1059.0" cy="727.7" r="2.2"/><circle cx="1058.3" cy="733.6" r="2.2"/><circle cx="1063.1" cy="736.7" r="2.2"/><circle cx="1059.0" cy="726.8" r="2.2"/><circle cx="1062.8" cy="730.6" r="2.2"/><circle cx="1061.4" cy="730.3" r="2.2"/><circle cx="1057.4" cy="733.5" r="2.2"/><circle cx="1062.3" cy="733.0" r="2.2"/><circle cx="1061.4" cy="737.0" r="2.2"/><circle cx="1063.1" cy="731.5" r="2.2"/><circle cx="1061.7" cy="735.5" r="2.2"/><circle cx="1059.4" cy="730.2" r="2.2"/><circle cx="1058.5" cy="738.7" r="2.2"/><circle cx="1060.3" cy="733.7" r="2.2"/><circle cx="1058.6" cy="732.7" r="2.2"/><circle cx="1057.9" cy="734.8" r="2.2"/><circle cx="1076.2" cy="730.2" r="2.2"/><circle cx="1075.7" cy="734.0" r="2.2"/><circle cx="1074.7" cy="737.1" r="2.2"/><circle cx="1073.7" cy="728.3" r="2.2"/><circle cx="1073.9" cy="732.1" r="2.2"/><circle cx="1076.3" cy="736.5" r="2.2"/><circle cx="1075.5" cy="728.2" r="2.2"/><circle cx="1083.8" cy="737.6" r="2.2"/><circle cx="1083.6" cy="733.3" r="2.2"/><circle cx="1083.9" cy="735.7" r="2.2"/><circle cx="1083.6" cy="729.9" r="2.2"/><circle cx="1083.9" cy="732.3" r="2.2"/><circle cx="1136.6" cy="727.0" r="2.2"/><circle cx="1136.6" cy="730.3" r="2.2"/><circle cx="1136.6" cy="733.6" r="2.2"/><circle cx="1136.6" cy="736.9" r="2.2"/><circle cx="1153.3" cy="728.0" r="2.2"/><circle cx="1159.0" cy="735.1" r="2.2"/><circle cx="1150.7" cy="736.9" r="2.2"/><circle cx="1142.8" cy="733.0" r="2.2"/><circle cx="1158.7" cy="729.4" r="2.2"/><circle cx="1153.5" cy="732.7" r="2.2"/><circle cx="1163.0" cy="729.0" r="2.2"/><circle cx="1148.5" cy="727.1" r="2.2"/><circle cx="1162.7" cy="732.8" r="2.2"/><circle cx="1150.5" cy="730.8" r="2.2"/><circle cx="1143.4" cy="737.9" r="2.2"/><circle cx="1147.1" cy="729.8" r="2.2"/><circle cx="1146.3" cy="733.0" r="2.2"/><circle cx="1150.7" cy="727.3" r="2.2"/><circle cx="1154.7" cy="737.0" r="2.2"/><circle cx="1163.0" cy="736.8" r="2.2"/><circle cx="1142.9" cy="728.2" r="2.2"/><circle cx="1156.8" cy="730.9" r="2.2"/><circle cx="1143.1" cy="734.4" r="2.2"/><circle cx="1144.0" cy="730.9" r="2.2"/><circle cx="1155.5" cy="732.6" r="2.2"/><circle cx="1157.7" cy="737.6" r="2.2"/><circle cx="1148.6" cy="733.4" r="2.2"/><circle cx="1156.9" cy="734.5" r="2.2"/><circle cx="1160.3" cy="731.3" r="2.2"/><circle cx="1146.5" cy="736.3" r="2.2"/><circle cx="1155.8" cy="727.5" r="2.2"/><circle cx="1163.6" cy="734.9" r="2.2"/><circle cx="1152.9" cy="735.7" r="2.2"/><circle cx="1154.4" cy="733.5" r="2.2"/><circle cx="1142.4" cy="735.9" r="2.2"/><circle cx="1156.4" cy="737.1" r="2.2"/><circle cx="1145.1" cy="728.9" r="2.2"/><circle cx="1154.2" cy="729.8" r="2.2"/><circle cx="1162.2" cy="730.6" r="2.2"/><circle cx="1159.5" cy="732.3" r="2.2"/><circle cx="1152.1" cy="732.6" r="2.2"/><circle cx="1158.0" cy="731.8" r="2.2"/><circle cx="1148.7" cy="737.4" r="2.2"/><circle cx="1151.9" cy="737.8" r="2.2"/><circle cx="1163.5" cy="731.1" r="2.2"/><circle cx="1144.5" cy="736.3" r="2.2"/><circle cx="1146.2" cy="731.7" r="2.2"/><circle cx="1160.6" cy="735.9" r="2.2"/><circle cx="1157.4" cy="728.0" r="2.2"/><circle cx="1158.7" cy="733.3" r="2.2"/><circle cx="1143.0" cy="729.4" r="2.2"/><circle cx="1161.4" cy="735.2" r="2.2"/><circle cx="1164.8" cy="737.2" r="2.2"/><circle cx="1163.0" cy="738.0" r="2.2"/><circle cx="1150.6" cy="734.7" r="2.2"/><circle cx="1015.6" cy="983.3" r="2.2"/><circle cx="1016.0" cy="990.0" r="2.2"/><circle cx="1015.4" cy="987.7" r="2.2"/><circle cx="1015.2" cy="992.8" r="2.2"/><circle cx="1015.7" cy="981.7" r="2.2"/><circle cx="1016.3" cy="995.0" r="2.2"/><circle cx="1016.5" cy="986.7" r="2.2"/><circle cx="1015.3" cy="985.7" r="2.2"/><circle cx="1016.5" cy="981.4" r="2.2"/><circle cx="1015.5" cy="991.6" r="2.2"/><circle cx="1036.5" cy="987.0" r="2.2"/><circle cx="1032.5" cy="989.6" r="2.2"/><circle cx="1038.8" cy="991.4" r="2.2"/><circle cx="1031.9" cy="985.8" r="2.2"/><circle cx="1036.3" cy="983.8" r="2.2"/><circle cx="1031.8" cy="991.1" r="2.2"/><circle cx="1033.8" cy="992.4" r="2.2"/><circle cx="1038.1" cy="989.4" r="2.2"/><circle cx="1031.1" cy="983.2" r="2.2"/><circle cx="1034.1" cy="988.7" r="2.2"/><circle cx="1033.9" cy="987.0" r="2.2"/><circle cx="1032.4" cy="987.1" r="2.2"/><circle cx="1033.5" cy="984.7" r="2.2"/><circle cx="1046.3" cy="995.4" r="2.2"/><circle cx="1089.5" cy="993.6" r="2.2"/><circle cx="1099.8" cy="994.5" r="2.2"/><circle cx="1121.8" cy="994.5" r="2.2"/><circle cx="1113.6" cy="983.2" r="2.2"/><circle cx="1113.6" cy="985.5" r="2.2"/><circle cx="1110.9" cy="990.4" r="2.2"/><circle cx="1110.9" cy="994.5" r="2.2"/><circle cx="1119.0" cy="987.7" r="2.2"/><circle cx="1121.7" cy="994.9" r="2.2"/><circle cx="1136.5" cy="984.1" r="2.2"/><circle cx="1141.0" cy="982.8" r="2.2"/><circle cx="1134.7" cy="990.9" r="2.2"/><circle cx="1136.5" cy="992.2" r="2.2"/><circle cx="1144.1" cy="991.8" r="2.2"/><circle cx="1146.4" cy="990.0" r="2.2"/><circle cx="1141.0" cy="995.4" r="2.2"/><circle cx="1146.8" cy="994.5" r="2.2"/><circle cx="1154.0" cy="986.4" r="2.2"/><circle cx="1156.7" cy="986.4" r="2.2"/><circle cx="1160.8" cy="985.5" r="2.2"/><circle cx="1161.2" cy="987.7" r="2.2"/><circle cx="1165.3" cy="982.3" r="2.2"/><circle cx="1164.8" cy="984.6" r="2.2"/><circle cx="1154.0" cy="991.8" r="2.2"/><circle cx="1154.9" cy="993.6" r="2.2"/><circle cx="1164.8" cy="990.9" r="2.2"/><circle cx="1164.8" cy="993.6" r="2.2"/><circle cx="1174.2" cy="992.7" r="2.2"/><circle cx="1185.0" cy="993.1" r="2.2"/><circle cx="1214.7" cy="983.7" r="2.2"/><circle cx="1214.7" cy="988.6" r="2.2"/><circle cx="1049.5" cy="983.7" r="2.2"/><circle cx="1049.5" cy="987.5" r="2.2"/><circle cx="1049.5" cy="991.3" r="2.2"/><circle cx="1064.4" cy="982.2" r="2.2"/><circle cx="1060.4" cy="990.0" r="2.2"/><circle cx="1059.3" cy="985.5" r="2.2"/><circle cx="1060.2" cy="983.4" r="2.2"/><circle cx="1063.0" cy="992.9" r="2.2"/><circle cx="1063.7" cy="987.9" r="2.2"/><circle cx="1058.6" cy="992.3" r="2.2"/><circle cx="1062.5" cy="982.0" r="2.2"/><circle cx="1060.7" cy="987.4" r="2.2"/><circle cx="1062.1" cy="989.1" r="2.2"/><circle cx="1058.5" cy="989.4" r="2.2"/><circle cx="1061.0" cy="992.1" r="2.2"/><circle cx="1065.0" cy="985.4" r="2.2"/><circle cx="1061.9" cy="984.5" r="2.2"/><circle cx="1064.5" cy="990.0" r="2.2"/><circle cx="1063.9" cy="989.3" r="2.2"/><circle cx="1060.4" cy="993.9" r="2.2"/><circle cx="1063.8" cy="988.7" r="2.2"/><circle cx="1058.3" cy="986.2" r="2.2"/><circle cx="1059.0" cy="981.2" r="2.2"/><circle cx="1062.1" cy="983.9" r="2.2"/><circle cx="1060.2" cy="982.3" r="2.2"/><circle cx="1063.7" cy="991.4" r="2.2"/><circle cx="1062.3" cy="986.5" r="2.2"/><circle cx="1078.8" cy="983.2" r="2.2"/><circle cx="1075.0" cy="986.8" r="2.2"/><circle cx="1084.5" cy="989.6" r="2.2"/><circle cx="1078.1" cy="991.9" r="2.2"/><circle cx="1083.6" cy="984.8" r="2.2"/><circle cx="1075.0" cy="981.5" r="2.2"/><circle cx="1081.6" cy="987.3" r="2.2"/><circle cx="1079.3" cy="986.2" r="2.2"/><circle cx="1075.1" cy="991.9" r="2.2"/><circle cx="1084.5" cy="983.4" r="2.2"/><circle cx="1076.1" cy="989.3" r="2.2"/><circle cx="1082.8" cy="991.8" r="2.2"/><circle cx="1081.2" cy="984.0" r="2.2"/><circle cx="1080.8" cy="982.3" r="2.2"/><circle cx="1076.9" cy="986.2" r="2.2"/><circle cx="1079.8" cy="989.4" r="2.2"/><circle cx="1073.7" cy="989.8" r="2.2"/><circle cx="1074.9" cy="989.2" r="2.2"/><circle cx="1082.2" cy="986.3" r="2.2"/><circle cx="1081.6" cy="992.4" r="2.2"/><circle cx="1097.2" cy="991.0" r="2.2"/><circle cx="1096.8" cy="986.4" r="2.2"/><circle cx="1095.7" cy="988.3" r="2.2"/><circle cx="1096.8" cy="989.4" r="2.2"/><circle cx="1097.2" cy="988.3" r="2.2"/><circle cx="1112.7" cy="990.9" r="2.2"/><circle cx="1118.0" cy="987.2" r="2.2"/><circle cx="1114.5" cy="985.3" r="2.2"/><circle cx="1113.0" cy="988.4" r="2.2"/><circle cx="1117.2" cy="991.7" r="2.2"/><circle cx="1114.9" cy="987.4" r="2.2"/><line x1="895.7" y1="995.80" x2="1336.0" y2="995.80" stroke="#808080" stroke-width="1.3"/><line x1="895.7" y1="726.00" x2="1336.0" y2="726.00" stroke="#808080" stroke-width="1.3"/><polyline points="895.7,713.6 895.7,1009.2 1340.0,1009.2" fill="none" stroke="#000" stroke-width="1.75" stroke-linejoin="round" stroke-linecap="round"/><line x1="890.7" y1="995.80" x2="895.7" y2="995.80" stroke="#333" stroke-width="1.5"/><line x1="890.7" y1="928.35" x2="895.7" y2="928.35" stroke="#333" stroke-width="1.5"/><line x1="890.7" y1="860.90" x2="895.7" y2="860.90" stroke="#333" stroke-width="1.5"/><line x1="890.7" y1="793.45" x2="895.7" y2="793.45" stroke="#333" stroke-width="1.5"/><line x1="890.7" y1="726.00" x2="895.7" y2="726.00" stroke="#333" stroke-width="1.5"/><line x1="915.60" y1="1009.2" x2="915.60" y2="1014.2" stroke="#333" stroke-width="1.5"/><line x1="1015.60" y1="1009.2" x2="1015.60" y2="1014.2" stroke="#333" stroke-width="1.5"/><line x1="1115.60" y1="1009.2" x2="1115.60" y2="1014.2" stroke="#333" stroke-width="1.5"/><line x1="1215.60" y1="1009.2" x2="1215.60" y2="1014.2" stroke="#333" stroke-width="1.5"/><line x1="1315.60" y1="1009.2" x2="1315.60" y2="1014.2" stroke="#333" stroke-width="1.5"/><text x="0" y="0" font-size="21.5" fill="#000" text-anchor="middle" transform="translate(915.60,761.38) scale(0.93,1)">C</text><text x="0" y="0" font-size="16.5" fill="#4D4D4D" text-anchor="end" transform="translate(66.5,342.80) scale(1,1.060)">0.00</text><text x="0" y="0" font-size="16.5" fill="#4D4D4D" text-anchor="end" transform="translate(66.5,265.30) scale(1,1.060)">0.25</text><text x="0" y="0" font-size="16.5" fill="#4D4D4D" text-anchor="end" transform="translate(66.5,187.80) scale(1,1.060)">0.50</text><text x="0" y="0" font-size="16.5" fill="#4D4D4D" text-anchor="end" transform="translate(66.5,110.30) scale(1,1.060)">0.75</text><text x="0" y="0" font-size="16.5" fill="#4D4D4D" text-anchor="end" transform="translate(66.5,32.80) scale(1,1.060)">1.00</text><text x="0" y="0" font-size="16.5" fill="#4D4D4D" text-anchor="end" transform="translate(66.5,698.80) scale(1,1.060)">0.00</text><text x="0" y="0" font-size="16.5" fill="#4D4D4D" text-anchor="end" transform="translate(66.5,618.92) scale(1,1.060)">0.25</text><text x="0" y="0" font-size="16.5" fill="#4D4D4D" text-anchor="end" transform="translate(66.5,539.05) scale(1,1.060)">0.50</text><text x="0" y="0" font-size="16.5" fill="#4D4D4D" text-anchor="end" transform="translate(66.5,459.18) scale(1,1.060)">0.75</text><text x="0" y="0" font-size="16.5" fill="#4D4D4D" text-anchor="end" transform="translate(66.5,379.30) scale(1,1.060)">1.00</text><text x="0" y="0" font-size="16.5" fill="#4D4D4D" text-anchor="end" transform="translate(66.5,1003.10) scale(1,1.060)">0.00</text><text x="0" y="0" font-size="16.5" fill="#4D4D4D" text-anchor="end" transform="translate(66.5,935.65) scale(1,1.060)">0.25</text><text x="0" y="0" font-size="16.5" fill="#4D4D4D" text-anchor="end" transform="translate(66.5,868.20) scale(1,1.060)">0.50</text><text x="0" y="0" font-size="16.5" fill="#4D4D4D" text-anchor="end" transform="translate(66.5,800.75) scale(1,1.060)">0.75</text><text x="0" y="0" font-size="16.5" fill="#4D4D4D" text-anchor="end" transform="translate(66.5,733.30) scale(1,1.060)">1.00</text><text x="0" y="0" font-size="16.5" fill="#4D4D4D" text-anchor="middle" transform="translate(92.40,1031.90) scale(1,1.060)">0.0</text><text x="0" y="0" font-size="16.5" fill="#4D4D4D" text-anchor="middle" transform="translate(176.40,1031.90) scale(1,1.060)">0.2</text><text x="0" y="0" font-size="16.5" fill="#4D4D4D" text-anchor="middle" transform="translate(260.40,1031.90) scale(1,1.060)">0.4</text><text x="0" y="0" font-size="16.5" fill="#4D4D4D" text-anchor="middle" transform="translate(344.40,1031.90) scale(1,1.060)">0.6</text><text x="0" y="0" font-size="16.5" fill="#4D4D4D" text-anchor="middle" transform="translate(428.40,1031.90) scale(1,1.060)">0.8</text><text x="0" y="0" font-size="16.5" fill="#4D4D4D" text-anchor="middle" transform="translate(470.30,1031.90) scale(1,1.060)">0.0</text><text x="0" y="0" font-size="16.5" fill="#4D4D4D" text-anchor="middle" transform="translate(570.30,1031.90) scale(1,1.060)">0.2</text><text x="0" y="0" font-size="16.5" fill="#4D4D4D" text-anchor="middle" transform="translate(670.30,1031.90) scale(1,1.060)">0.4</text><text x="0" y="0" font-size="16.5" fill="#4D4D4D" text-anchor="middle" transform="translate(770.30,1031.90) scale(1,1.060)">0.6</text><text x="0" y="0" font-size="16.5" fill="#4D4D4D" text-anchor="middle" transform="translate(870.30,1031.90) scale(1,1.060)">0.8</text><text x="0" y="0" font-size="16.5" fill="#4D4D4D" text-anchor="middle" transform="translate(915.60,1031.90) scale(1,1.060)">0.0</text><text x="0" y="0" font-size="16.5" fill="#4D4D4D" text-anchor="middle" transform="translate(1015.60,1031.90) scale(1,1.060)">0.2</text><text x="0" y="0" font-size="16.5" fill="#4D4D4D" text-anchor="middle" transform="translate(1115.60,1031.90) scale(1,1.060)">0.4</text><text x="0" y="0" font-size="16.5" fill="#4D4D4D" text-anchor="middle" transform="translate(1215.60,1031.90) scale(1,1.060)">0.6</text><text x="0" y="0" font-size="16.5" fill="#4D4D4D" text-anchor="middle" transform="translate(1315.60,1031.90) scale(1,1.060)">0.8</text><text x="0" y="0" font-size="20.62" fill="#000" text-anchor="middle" transform="translate(260.4,1054.60) scale(1,1.070)">Proportion of flow in Wapato canal</text><text x="0" y="0" font-size="20.62" fill="#000" text-anchor="middle" transform="translate(670.5,1054.60) scale(1,1.070)">Proportion of flow in Sunnyside canal</text><text x="0" y="0" font-size="20.62" fill="#000" text-anchor="middle" transform="translate(1115.9,1054.60) scale(1,1.070)">Proportion of flow in Prosser canal</text><text x="0" y="0" font-size="20.6" fill="#000" text-anchor="middle" transform="translate(25.80,532.5) rotate(-90) scale(1,1.070)">Probability of entering canal</text></svg></body></html>
